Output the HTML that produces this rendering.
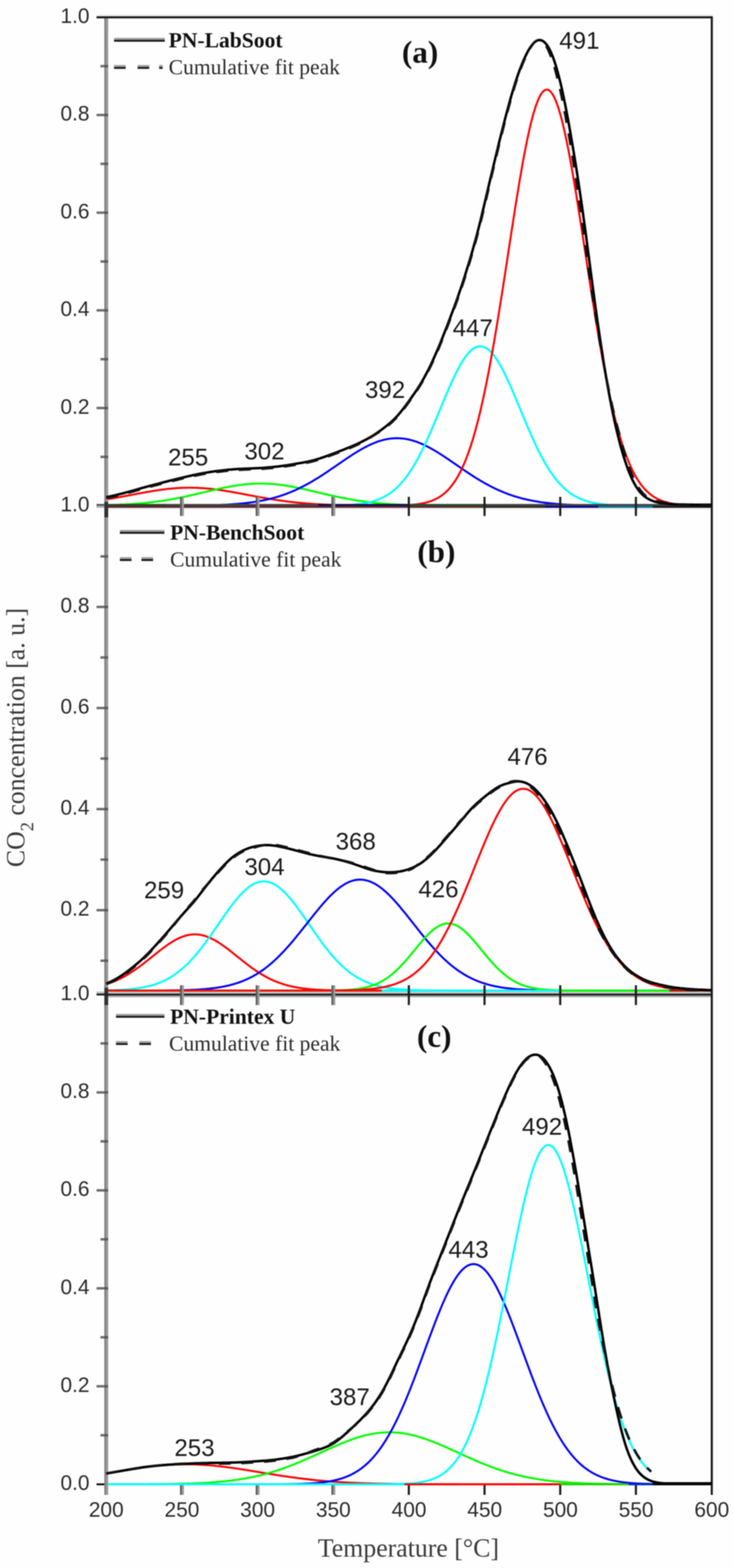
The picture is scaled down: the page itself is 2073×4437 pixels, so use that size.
<!DOCTYPE html>
<html lang="en"><head><meta charset="utf-8"><title>CO2 concentration vs Temperature</title>
<style>
html,body{margin:0;padding:0;background:#fefefe;}
body{width:2073px;height:4437px;overflow:hidden;}
svg{display:block;}
#plot{filter:blur(1.6px);}
.sans{font-family:"Liberation Sans",Arial,Helvetica,sans-serif;}
.serif{font-family:"Liberation Serif","Times New Roman",Times,serif;}
.tick{font-size:59px;fill:#2a2a2a;}
.pk{font-size:68px;fill:#1a1a1a;}
.leg{font-size:61px;fill:#2a2a2a;}
.legb{font-size:61px;font-weight:bold;fill:#111;}
.pl{font-size:88px;font-weight:bold;fill:#111;}
.ax{font-size:73px;fill:#3a3a3a;}
</style></head><body>
<svg width="2073" height="4437" viewBox="0 0 2073 4437">
<rect x="0" y="0" width="2073" height="4437" fill="#fefefe"/>
<g id="plot">
<g fill="none" stroke-linejoin="round" stroke-linecap="butt">
<path d="M300.5,1413.1 L304.8,1412.4 L309.1,1411.7 L313.3,1411.0 L317.6,1410.3 L321.9,1409.5 L326.2,1408.8 L330.5,1408.0 L334.8,1407.3 L339.0,1406.5 L343.3,1405.7 L347.6,1404.9 L351.9,1404.1 L356.2,1403.3 L360.4,1402.5 L364.7,1401.7 L369.0,1400.9 L373.3,1400.1 L377.6,1399.3 L381.8,1398.4 L386.1,1397.6 L390.4,1396.8 L394.7,1396.0 L399.0,1395.2 L403.2,1394.4 L407.5,1393.7 L411.8,1392.9 L416.1,1392.1 L420.4,1391.4 L424.7,1390.6 L428.9,1389.9 L433.2,1389.2 L437.5,1388.5 L441.8,1387.9 L446.1,1387.2 L450.3,1386.6 L454.6,1386.0 L458.9,1385.4 L463.2,1384.9 L467.5,1384.3 L471.8,1383.8 L476.0,1383.3 L480.3,1382.9 L484.6,1382.5 L488.9,1382.1 L493.2,1381.7 L497.4,1381.4 L501.7,1381.1 L506.0,1380.9 L510.3,1380.6 L514.6,1380.4 L518.8,1380.3 L523.1,1380.2 L527.4,1380.1 L531.7,1380.0 L536.0,1380.0 L540.2,1380.0 L544.5,1380.1 L548.8,1380.2 L553.1,1380.3 L557.4,1380.4 L561.7,1380.6 L565.9,1380.9 L570.2,1381.1 L574.5,1381.4 L578.8,1381.7 L583.1,1382.1 L587.3,1382.5 L591.6,1382.9 L595.9,1383.3 L600.2,1383.8 L604.5,1384.3 L608.8,1384.9 L613.0,1385.4 L617.3,1386.0 L621.6,1386.6 L625.9,1387.2 L630.2,1387.9 L634.4,1388.5 L638.7,1389.2 L643.0,1389.9 L647.3,1390.6 L651.6,1391.4 L655.8,1392.1 L660.1,1392.9 L664.4,1393.7 L668.7,1394.4 L673.0,1395.2 L677.2,1396.0 L681.5,1396.8 L685.8,1397.6 L690.1,1398.4 L694.4,1399.3 L698.7,1400.1 L702.9,1400.9 L707.2,1401.7 L711.5,1402.5 L715.8,1403.3 L720.1,1404.1 L724.3,1404.9 L728.6,1405.7 L732.9,1406.5 L737.2,1407.3 L741.5,1408.0 L745.8,1408.8 L750.0,1409.5 L754.3,1410.3 L758.6,1411.0 L762.9,1411.7 L767.2,1412.4 L771.4,1413.1 L775.7,1413.8 L780.0,1414.4 L784.3,1415.1 L788.6,1415.7 L792.8,1416.3 L797.1,1416.9 L801.4,1417.5 L805.7,1418.1 L810.0,1418.7 L814.2,1419.2 L818.5,1419.7 L822.8,1420.2 L827.1,1420.7 L831.4,1421.2 L835.7,1421.7 L839.9,1422.1 L844.2,1422.5 L848.5,1422.9 L852.8,1423.3 L857.1,1423.7 L861.3,1424.1 L865.6,1424.5 L869.9,1424.8 L874.2,1425.1 L878.5,1425.4 L882.8,1425.7 L887.0,1426.0 L891.3,1426.3 L895.6,1426.6 L899.9,1426.8 L904.2,1427.1 L908.4,1427.3 L912.7,1427.5 L917.0,1427.7 L921.3,1427.9 L925.6,1428.1 L929.8,1428.3 L934.1,1428.4 L938.4,1428.6 L942.7,1428.8 L947.0,1428.9 L951.2,1429.0 L955.5,1429.2 L959.8,1429.3 L964.1,1429.4 L968.4,1429.5 L972.7,1429.6 L976.9,1429.7 L981.2,1429.8 L985.5,1429.9 L989.8,1430.0 L994.1,1430.0 L998.3,1430.1 L1002.6,1430.2 L1006.9,1430.2 L1011.2,1430.3 L1015.5,1430.3 L1019.8,1430.4 L1024.0,1430.4 L1028.3,1430.5 L1032.6,1430.5 L1036.9,1430.6 L1041.2,1430.6 L1045.4,1430.6 L1049.7,1430.7 L1054.0,1430.7 L1058.3,1430.7 L1062.6,1430.7 L1066.8,1430.8 L1071.1,1430.8 L1075.4,1430.8 L1079.7,1430.8 L1084.0,1430.8 L1088.2,1430.8 L1092.5,1430.9 L1096.8,1430.9 L1101.1,1430.9 L1105.4,1430.9 L1109.7,1430.9 L1113.9,1430.9 L1118.2,1430.9 L1122.5,1430.9 L1126.8,1430.9 L1131.1,1430.9 L1135.3,1430.9 L1139.6,1430.9 L1143.9,1431.0 L1148.2,1431.0 L1152.5,1431.0 L1156.8,1431.0 L1161.0,1431.0 L1165.3,1431.0 L1169.6,1431.0 L1173.9,1431.0 L1178.2,1431.0 L1182.4,1431.0 L1186.7,1431.0 L1191.0,1431.0 L1195.3,1431.0 L1199.6,1431.0 L1203.8,1431.0 L1208.1,1431.0 L1212.4,1431.0 L1216.7,1431.0 L1221.0,1431.0 L1225.2,1431.0 L1229.5,1431.0 L1233.8,1431.0 L1238.1,1431.0 L1242.4,1431.0 L1246.7,1431.0 L1250.9,1431.0 L1255.2,1431.0 L1259.5,1431.0 L1263.8,1431.0 L1268.1,1431.0 L1272.3,1431.0 L1276.6,1431.0 L1280.9,1431.0 L1285.2,1431.0 L1289.5,1431.0 L1293.8,1431.0 L1298.0,1431.0 L1302.3,1431.0 L1306.6,1431.0 L1310.9,1431.0 L1315.2,1431.0 L1319.4,1431.0 L1323.7,1431.0 L1328.0,1431.0 L1332.3,1431.0 L1336.6,1431.0 L1340.8,1431.0 L1345.1,1431.0 L1349.4,1431.0 L1353.7,1431.0 L1358.0,1431.0 L1362.2,1431.0 L1366.5,1431.0 L1370.8,1431.0 L1375.1,1431.0 L1379.4,1431.0 L1383.7,1431.0 L1387.9,1431.0 L1392.2,1431.0 L1396.5,1431.0 L1400.8,1431.0 L1405.1,1431.0 L1409.3,1431.0 L1413.6,1431.0 L1417.9,1431.0 L1422.2,1431.0 L1426.5,1431.0 L1430.8,1431.0 L1435.0,1431.0 L1439.3,1431.0 L1443.6,1431.0 L1447.9,1431.0 L1452.2,1431.0 L1456.4,1431.0 L1460.7,1431.0 L1465.0,1431.0 L1469.3,1431.0 L1473.6,1431.0 L1477.8,1431.0 L1482.1,1431.0 L1486.4,1431.0 L1490.7,1431.0 L1495.0,1431.0 L1499.2,1431.0 L1503.5,1431.0 L1507.8,1431.0 L1512.1,1431.0 L1516.4,1431.0 L1520.7,1431.0 L1524.9,1431.0 L1529.2,1431.0 L1533.5,1431.0 L1537.8,1431.0 L1542.1,1431.0 L1546.3,1431.0 L1550.6,1431.0 L1554.9,1431.0 L1559.2,1431.0 L1563.5,1431.0 L1567.8,1431.0 L1572.0,1431.0 L1576.3,1431.0 L1580.6,1431.0 L1584.9,1431.0 L1589.2,1431.0 L1593.4,1431.0 L1597.7,1431.0 L1602.0,1431.0 L1606.3,1431.0 L1610.6,1431.0 L1614.8,1431.0 L1619.1,1431.0 L1623.4,1431.0 L1627.7,1431.0 L1632.0,1431.0 L1636.2,1431.0 L1640.5,1431.0 L1644.8,1431.0 L1649.1,1431.0 L1653.4,1431.0 L1657.7,1431.0 L1661.9,1431.0 L1666.2,1431.0 L1670.5,1431.0 L1674.8,1431.0 L1679.1,1431.0 L1683.3,1431.0 L1687.6,1431.0 L1691.9,1431.0 L1696.2,1431.0 L1700.5,1431.0 L1704.8,1431.0 L1709.0,1431.0 L1713.3,1431.0 L1717.6,1431.0 L1721.9,1431.0 L1726.2,1431.0 L1730.4,1431.0 L1734.7,1431.0 L1739.0,1431.0 L1743.3,1431.0 L1747.6,1431.0 L1751.8,1431.0 L1756.1,1431.0 L1760.4,1431.0 L1764.7,1431.0 L1769.0,1431.0 L1773.2,1431.0 L1777.5,1431.0 L1781.8,1431.0 L1786.1,1431.0 L1790.4,1431.0 L1794.7,1431.0 L1798.9,1431.0 L1803.2,1431.0 L1807.5,1431.0 L1811.8,1431.0 L1816.1,1431.0 L1820.3,1431.0 L1824.6,1431.0 L1828.9,1431.0 L1833.2,1431.0 L1837.5,1431.0 L1841.8,1431.0 L1846.0,1431.0 L1850.3,1431.0 L1854.6,1431.0 L1858.9,1431.0 L1863.2,1431.0 L1867.4,1431.0 L1871.7,1431.0 L1876.0,1431.0 L1880.3,1431.0 L1884.6,1431.0 L1888.8,1431.0 L1893.1,1431.0 L1897.4,1431.0 L1901.7,1431.0 L1906.0,1431.0 L1910.2,1431.0 L1914.5,1431.0 L1918.8,1431.0 L1923.1,1431.0 L1927.4,1431.0 L1931.7,1431.0 L1935.9,1431.0 L1940.2,1431.0 L1944.5,1431.0 L1948.8,1431.0 L1953.1,1431.0 L1957.3,1431.0 L1961.6,1431.0 L1965.9,1431.0 L1970.2,1431.0 L1974.5,1431.0 L1978.8,1431.0 L1983.0,1431.0 L1987.3,1431.0 L1991.6,1431.0 L1995.9,1431.0 L2000.2,1431.0 L2004.4,1431.0 L2008.7,1431.0 L2013.0,1431.0" stroke="#ff0000" stroke-width="5.6"/>
<path d="M300.5,1429.4 L304.8,1429.3 L309.1,1429.2 L313.3,1429.1 L317.6,1428.9 L321.9,1428.8 L326.2,1428.6 L330.5,1428.5 L334.8,1428.3 L339.0,1428.1 L343.3,1427.9 L347.6,1427.7 L351.9,1427.5 L356.2,1427.2 L360.4,1427.0 L364.7,1426.7 L369.0,1426.5 L373.3,1426.2 L377.6,1425.9 L381.8,1425.6 L386.1,1425.3 L390.4,1424.9 L394.7,1424.6 L399.0,1424.2 L403.2,1423.8 L407.5,1423.4 L411.8,1423.0 L416.1,1422.5 L420.4,1422.1 L424.7,1421.6 L428.9,1421.1 L433.2,1420.6 L437.5,1420.0 L441.8,1419.5 L446.1,1418.9 L450.3,1418.3 L454.6,1417.7 L458.9,1417.0 L463.2,1416.4 L467.5,1415.7 L471.8,1415.0 L476.0,1414.3 L480.3,1413.6 L484.6,1412.8 L488.9,1412.0 L493.2,1411.2 L497.4,1410.4 L501.7,1409.6 L506.0,1408.8 L510.3,1407.9 L514.6,1407.0 L518.8,1406.1 L523.1,1405.2 L527.4,1404.3 L531.7,1403.4 L536.0,1402.4 L540.2,1401.5 L544.5,1400.5 L548.8,1399.5 L553.1,1398.5 L557.4,1397.5 L561.7,1396.5 L565.9,1395.5 L570.2,1394.5 L574.5,1393.5 L578.8,1392.5 L583.1,1391.5 L587.3,1390.4 L591.6,1389.4 L595.9,1388.4 L600.2,1387.4 L604.5,1386.4 L608.8,1385.5 L613.0,1384.5 L617.3,1383.6 L621.6,1382.6 L625.9,1381.7 L630.2,1380.8 L634.4,1379.9 L638.7,1379.1 L643.0,1378.2 L647.3,1377.4 L651.6,1376.6 L655.8,1375.9 L660.1,1375.1 L664.4,1374.4 L668.7,1373.8 L673.0,1373.1 L677.2,1372.5 L681.5,1372.0 L685.8,1371.4 L690.1,1370.9 L694.4,1370.5 L698.7,1370.1 L702.9,1369.7 L707.2,1369.4 L711.5,1369.1 L715.8,1368.9 L720.1,1368.7 L724.3,1368.5 L728.6,1368.4 L732.9,1368.3 L737.2,1368.3 L741.5,1368.3 L745.8,1368.4 L750.0,1368.5 L754.3,1368.7 L758.6,1368.9 L762.9,1369.1 L767.2,1369.4 L771.4,1369.7 L775.7,1370.1 L780.0,1370.5 L784.3,1370.9 L788.6,1371.4 L792.8,1372.0 L797.1,1372.5 L801.4,1373.1 L805.7,1373.8 L810.0,1374.4 L814.2,1375.1 L818.5,1375.9 L822.8,1376.6 L827.1,1377.4 L831.4,1378.2 L835.7,1379.1 L839.9,1379.9 L844.2,1380.8 L848.5,1381.7 L852.8,1382.6 L857.1,1383.6 L861.3,1384.5 L865.6,1385.5 L869.9,1386.4 L874.2,1387.4 L878.5,1388.4 L882.8,1389.4 L887.0,1390.4 L891.3,1391.5 L895.6,1392.5 L899.9,1393.5 L904.2,1394.5 L908.4,1395.5 L912.7,1396.5 L917.0,1397.5 L921.3,1398.5 L925.6,1399.5 L929.8,1400.5 L934.1,1401.5 L938.4,1402.4 L942.7,1403.4 L947.0,1404.3 L951.2,1405.2 L955.5,1406.1 L959.8,1407.0 L964.1,1407.9 L968.4,1408.8 L972.7,1409.6 L976.9,1410.4 L981.2,1411.2 L985.5,1412.0 L989.8,1412.8 L994.1,1413.6 L998.3,1414.3 L1002.6,1415.0 L1006.9,1415.7 L1011.2,1416.4 L1015.5,1417.0 L1019.8,1417.7 L1024.0,1418.3 L1028.3,1418.9 L1032.6,1419.5 L1036.9,1420.0 L1041.2,1420.6 L1045.4,1421.1 L1049.7,1421.6 L1054.0,1422.1 L1058.3,1422.5 L1062.6,1423.0 L1066.8,1423.4 L1071.1,1423.8 L1075.4,1424.2 L1079.7,1424.6 L1084.0,1424.9 L1088.2,1425.3 L1092.5,1425.6 L1096.8,1425.9 L1101.1,1426.2 L1105.4,1426.5 L1109.7,1426.7 L1113.9,1427.0 L1118.2,1427.2 L1122.5,1427.5 L1126.8,1427.7 L1131.1,1427.9 L1135.3,1428.1 L1139.6,1428.3 L1143.9,1428.5 L1148.2,1428.6 L1152.5,1428.8 L1156.8,1428.9 L1161.0,1429.1 L1165.3,1429.2 L1169.6,1429.3 L1173.9,1429.4 L1178.2,1429.6 L1182.4,1429.7 L1186.7,1429.8 L1191.0,1429.8 L1195.3,1429.9 L1199.6,1430.0 L1203.8,1430.1 L1208.1,1430.2 L1212.4,1430.2 L1216.7,1430.3 L1221.0,1430.3 L1225.2,1430.4 L1229.5,1430.4 L1233.8,1430.5 L1238.1,1430.5 L1242.4,1430.6 L1246.7,1430.6 L1250.9,1430.6 L1255.2,1430.7 L1259.5,1430.7 L1263.8,1430.7 L1268.1,1430.7 L1272.3,1430.8 L1276.6,1430.8 L1280.9,1430.8 L1285.2,1430.8 L1289.5,1430.8 L1293.8,1430.8 L1298.0,1430.9 L1302.3,1430.9 L1306.6,1430.9 L1310.9,1430.9 L1315.2,1430.9 L1319.4,1430.9 L1323.7,1430.9 L1328.0,1430.9 L1332.3,1430.9 L1336.6,1430.9 L1340.8,1430.9 L1345.1,1431.0 L1349.4,1431.0 L1353.7,1431.0 L1358.0,1431.0 L1362.2,1431.0 L1366.5,1431.0 L1370.8,1431.0 L1375.1,1431.0 L1379.4,1431.0 L1383.7,1431.0 L1387.9,1431.0 L1392.2,1431.0 L1396.5,1431.0 L1400.8,1431.0 L1405.1,1431.0 L1409.3,1431.0 L1413.6,1431.0 L1417.9,1431.0 L1422.2,1431.0 L1426.5,1431.0 L1430.8,1431.0 L1435.0,1431.0 L1439.3,1431.0 L1443.6,1431.0 L1447.9,1431.0 L1452.2,1431.0 L1456.4,1431.0 L1460.7,1431.0 L1465.0,1431.0 L1469.3,1431.0 L1473.6,1431.0 L1477.8,1431.0 L1482.1,1431.0 L1486.4,1431.0 L1490.7,1431.0 L1495.0,1431.0 L1499.2,1431.0 L1503.5,1431.0 L1507.8,1431.0 L1512.1,1431.0 L1516.4,1431.0 L1520.7,1431.0 L1524.9,1431.0 L1529.2,1431.0 L1533.5,1431.0 L1537.8,1431.0 L1542.1,1431.0 L1546.3,1431.0 L1550.6,1431.0 L1554.9,1431.0 L1559.2,1431.0 L1563.5,1431.0 L1567.8,1431.0 L1572.0,1431.0 L1576.3,1431.0 L1580.6,1431.0 L1584.9,1431.0 L1589.2,1431.0 L1593.4,1431.0 L1597.7,1431.0 L1602.0,1431.0 L1606.3,1431.0 L1610.6,1431.0 L1614.8,1431.0 L1619.1,1431.0 L1623.4,1431.0 L1627.7,1431.0 L1632.0,1431.0 L1636.2,1431.0 L1640.5,1431.0 L1644.8,1431.0 L1649.1,1431.0 L1653.4,1431.0 L1657.7,1431.0 L1661.9,1431.0 L1666.2,1431.0 L1670.5,1431.0 L1674.8,1431.0 L1679.1,1431.0 L1683.3,1431.0 L1687.6,1431.0 L1691.9,1431.0 L1696.2,1431.0 L1700.5,1431.0 L1704.8,1431.0 L1709.0,1431.0 L1713.3,1431.0 L1717.6,1431.0 L1721.9,1431.0 L1726.2,1431.0 L1730.4,1431.0 L1734.7,1431.0 L1739.0,1431.0 L1743.3,1431.0 L1747.6,1431.0 L1751.8,1431.0 L1756.1,1431.0 L1760.4,1431.0 L1764.7,1431.0 L1769.0,1431.0 L1773.2,1431.0 L1777.5,1431.0 L1781.8,1431.0 L1786.1,1431.0 L1790.4,1431.0 L1794.7,1431.0 L1798.9,1431.0 L1803.2,1431.0 L1807.5,1431.0 L1811.8,1431.0 L1816.1,1431.0 L1820.3,1431.0 L1824.6,1431.0 L1828.9,1431.0 L1833.2,1431.0 L1837.5,1431.0 L1841.8,1431.0 L1846.0,1431.0 L1850.3,1431.0 L1854.6,1431.0 L1858.9,1431.0 L1863.2,1431.0 L1867.4,1431.0 L1871.7,1431.0 L1876.0,1431.0 L1880.3,1431.0 L1884.6,1431.0 L1888.8,1431.0 L1893.1,1431.0 L1897.4,1431.0 L1901.7,1431.0 L1906.0,1431.0 L1910.2,1431.0 L1914.5,1431.0 L1918.8,1431.0 L1923.1,1431.0 L1927.4,1431.0 L1931.7,1431.0 L1935.9,1431.0 L1940.2,1431.0 L1944.5,1431.0 L1948.8,1431.0 L1953.1,1431.0 L1957.3,1431.0 L1961.6,1431.0 L1965.9,1431.0 L1970.2,1431.0 L1974.5,1431.0 L1978.8,1431.0 L1983.0,1431.0 L1987.3,1431.0 L1991.6,1431.0 L1995.9,1431.0 L2000.2,1431.0 L2004.4,1431.0 L2008.7,1431.0 L2013.0,1431.0" stroke="#00ff00" stroke-width="5.6"/>
<path d="M300.5,1431.0 L304.8,1431.0 L309.1,1431.0 L313.3,1431.0 L317.6,1431.0 L321.9,1431.0 L326.2,1431.0 L330.5,1431.0 L334.8,1431.0 L339.0,1431.0 L343.3,1431.0 L347.6,1431.0 L351.9,1431.0 L356.2,1431.0 L360.4,1431.0 L364.7,1431.0 L369.0,1431.0 L373.3,1431.0 L377.6,1431.0 L381.8,1431.0 L386.1,1431.0 L390.4,1431.0 L394.7,1431.0 L399.0,1431.0 L403.2,1431.0 L407.5,1431.0 L411.8,1431.0 L416.1,1431.0 L420.4,1431.0 L424.7,1431.0 L428.9,1431.0 L433.2,1431.0 L437.5,1431.0 L441.8,1430.9 L446.1,1430.9 L450.3,1430.9 L454.6,1430.9 L458.9,1430.9 L463.2,1430.9 L467.5,1430.9 L471.8,1430.9 L476.0,1430.9 L480.3,1430.9 L484.6,1430.9 L488.9,1430.8 L493.2,1430.8 L497.4,1430.8 L501.7,1430.8 L506.0,1430.8 L510.3,1430.8 L514.6,1430.7 L518.8,1430.7 L523.1,1430.7 L527.4,1430.6 L531.7,1430.6 L536.0,1430.6 L540.2,1430.5 L544.5,1430.5 L548.8,1430.4 L553.1,1430.4 L557.4,1430.3 L561.7,1430.3 L565.9,1430.2 L570.2,1430.1 L574.5,1430.1 L578.8,1430.0 L583.1,1429.9 L587.3,1429.8 L591.6,1429.7 L595.9,1429.6 L600.2,1429.5 L604.5,1429.4 L608.8,1429.2 L613.0,1429.1 L617.3,1428.9 L621.6,1428.8 L625.9,1428.6 L630.2,1428.4 L634.4,1428.2 L638.7,1428.0 L643.0,1427.8 L647.3,1427.5 L651.6,1427.3 L655.8,1427.0 L660.1,1426.7 L664.4,1426.4 L668.7,1426.1 L673.0,1425.7 L677.2,1425.3 L681.5,1424.9 L685.8,1424.5 L690.1,1424.1 L694.4,1423.6 L698.7,1423.1 L702.9,1422.6 L707.2,1422.1 L711.5,1421.5 L715.8,1420.9 L720.1,1420.2 L724.3,1419.5 L728.6,1418.8 L732.9,1418.1 L737.2,1417.3 L741.5,1416.5 L745.8,1415.6 L750.0,1414.7 L754.3,1413.8 L758.6,1412.8 L762.9,1411.8 L767.2,1410.7 L771.4,1409.6 L775.7,1408.4 L780.0,1407.2 L784.3,1405.9 L788.6,1404.6 L792.8,1403.3 L797.1,1401.8 L801.4,1400.4 L805.7,1398.8 L810.0,1397.3 L814.2,1395.6 L818.5,1394.0 L822.8,1392.2 L827.1,1390.4 L831.4,1388.6 L835.7,1386.7 L839.9,1384.7 L844.2,1382.7 L848.5,1380.6 L852.8,1378.5 L857.1,1376.3 L861.3,1374.1 L865.6,1371.8 L869.9,1369.5 L874.2,1367.1 L878.5,1364.6 L882.8,1362.2 L887.0,1359.6 L891.3,1357.0 L895.6,1354.4 L899.9,1351.8 L904.2,1349.1 L908.4,1346.3 L912.7,1343.6 L917.0,1340.7 L921.3,1337.9 L925.6,1335.1 L929.8,1332.2 L934.1,1329.3 L938.4,1326.3 L942.7,1323.4 L947.0,1320.5 L951.2,1317.5 L955.5,1314.6 L959.8,1311.6 L964.1,1308.7 L968.4,1305.7 L972.7,1302.8 L976.9,1299.9 L981.2,1297.0 L985.5,1294.1 L989.8,1291.3 L994.1,1288.5 L998.3,1285.7 L1002.6,1283.0 L1006.9,1280.3 L1011.2,1277.7 L1015.5,1275.1 L1019.8,1272.6 L1024.0,1270.2 L1028.3,1267.8 L1032.6,1265.5 L1036.9,1263.3 L1041.2,1261.2 L1045.4,1259.1 L1049.7,1257.1 L1054.0,1255.3 L1058.3,1253.5 L1062.6,1251.8 L1066.8,1250.2 L1071.1,1248.7 L1075.4,1247.4 L1079.7,1246.1 L1084.0,1245.0 L1088.2,1243.9 L1092.5,1243.0 L1096.8,1242.2 L1101.1,1241.5 L1105.4,1241.0 L1109.7,1240.6 L1113.9,1240.2 L1118.2,1240.1 L1122.5,1240.0 L1126.8,1240.1 L1131.1,1240.2 L1135.3,1240.6 L1139.6,1241.0 L1143.9,1241.5 L1148.2,1242.2 L1152.5,1243.0 L1156.8,1243.9 L1161.0,1245.0 L1165.3,1246.1 L1169.6,1247.4 L1173.9,1248.7 L1178.2,1250.2 L1182.4,1251.8 L1186.7,1253.5 L1191.0,1255.3 L1195.3,1257.1 L1199.6,1259.1 L1203.8,1261.2 L1208.1,1263.3 L1212.4,1265.5 L1216.7,1267.8 L1221.0,1270.2 L1225.2,1272.6 L1229.5,1275.1 L1233.8,1277.7 L1238.1,1280.3 L1242.4,1283.0 L1246.7,1285.7 L1250.9,1288.5 L1255.2,1291.3 L1259.5,1294.1 L1263.8,1297.0 L1268.1,1299.9 L1272.3,1302.8 L1276.6,1305.7 L1280.9,1308.7 L1285.2,1311.6 L1289.5,1314.6 L1293.8,1317.5 L1298.0,1320.5 L1302.3,1323.4 L1306.6,1326.3 L1310.9,1329.3 L1315.2,1332.2 L1319.4,1335.1 L1323.7,1337.9 L1328.0,1340.7 L1332.3,1343.6 L1336.6,1346.3 L1340.8,1349.1 L1345.1,1351.8 L1349.4,1354.4 L1353.7,1357.0 L1358.0,1359.6 L1362.2,1362.2 L1366.5,1364.6 L1370.8,1367.1 L1375.1,1369.5 L1379.4,1371.8 L1383.7,1374.1 L1387.9,1376.3 L1392.2,1378.5 L1396.5,1380.6 L1400.8,1382.7 L1405.1,1384.7 L1409.3,1386.7 L1413.6,1388.6 L1417.9,1390.4 L1422.2,1392.2 L1426.5,1394.0 L1430.8,1395.6 L1435.0,1397.3 L1439.3,1398.8 L1443.6,1400.4 L1447.9,1401.8 L1452.2,1403.3 L1456.4,1404.6 L1460.7,1405.9 L1465.0,1407.2 L1469.3,1408.4 L1473.6,1409.6 L1477.8,1410.7 L1482.1,1411.8 L1486.4,1412.8 L1490.7,1413.8 L1495.0,1414.7 L1499.2,1415.6 L1503.5,1416.5 L1507.8,1417.3 L1512.1,1418.1 L1516.4,1418.8 L1520.7,1419.5 L1524.9,1420.2 L1529.2,1420.9 L1533.5,1421.5 L1537.8,1422.1 L1542.1,1422.6 L1546.3,1423.1 L1550.6,1423.6 L1554.9,1424.1 L1559.2,1424.5 L1563.5,1424.9 L1567.8,1425.3 L1572.0,1425.7 L1576.3,1426.1 L1580.6,1426.4 L1584.9,1426.7 L1589.2,1427.0 L1593.4,1427.3 L1597.7,1427.5 L1602.0,1427.8 L1606.3,1428.0 L1610.6,1428.2 L1614.8,1428.4 L1619.1,1428.6 L1623.4,1428.8 L1627.7,1428.9 L1632.0,1429.1 L1636.2,1429.2 L1640.5,1429.4 L1644.8,1429.5 L1649.1,1429.6 L1653.4,1429.7 L1657.7,1429.8 L1661.9,1429.9 L1666.2,1430.0 L1670.5,1430.1 L1674.8,1430.1 L1679.1,1430.2 L1683.3,1430.3 L1687.6,1430.3 L1691.9,1430.4 L1696.2,1430.4 L1700.5,1430.5 L1704.8,1430.5 L1709.0,1430.6 L1713.3,1430.6 L1717.6,1430.6 L1721.9,1430.7 L1726.2,1430.7 L1730.4,1430.7 L1734.7,1430.8 L1739.0,1430.8 L1743.3,1430.8 L1747.6,1430.8 L1751.8,1430.8 L1756.1,1430.8 L1760.4,1430.9 L1764.7,1430.9 L1769.0,1430.9 L1773.2,1430.9 L1777.5,1430.9 L1781.8,1430.9 L1786.1,1430.9 L1790.4,1430.9 L1794.7,1430.9 L1798.9,1430.9 L1803.2,1430.9 L1807.5,1431.0 L1811.8,1431.0 L1816.1,1431.0 L1820.3,1431.0 L1824.6,1431.0 L1828.9,1431.0 L1833.2,1431.0 L1837.5,1431.0 L1841.8,1431.0 L1846.0,1431.0 L1850.3,1431.0 L1854.6,1431.0 L1858.9,1431.0 L1863.2,1431.0 L1867.4,1431.0 L1871.7,1431.0 L1876.0,1431.0 L1880.3,1431.0 L1884.6,1431.0 L1888.8,1431.0 L1893.1,1431.0 L1897.4,1431.0 L1901.7,1431.0 L1906.0,1431.0 L1910.2,1431.0 L1914.5,1431.0 L1918.8,1431.0 L1923.1,1431.0 L1927.4,1431.0 L1931.7,1431.0 L1935.9,1431.0 L1940.2,1431.0 L1944.5,1431.0 L1948.8,1431.0 L1953.1,1431.0 L1957.3,1431.0 L1961.6,1431.0 L1965.9,1431.0 L1970.2,1431.0 L1974.5,1431.0 L1978.8,1431.0 L1983.0,1431.0 L1987.3,1431.0 L1991.6,1431.0 L1995.9,1431.0 L2000.2,1431.0 L2004.4,1431.0 L2008.7,1431.0 L2013.0,1431.0" stroke="#0000ff" stroke-width="5.6"/>
<path d="M300.5,1431.0 L304.8,1431.0 L309.1,1431.0 L313.3,1431.0 L317.6,1431.0 L321.9,1431.0 L326.2,1431.0 L330.5,1431.0 L334.8,1431.0 L339.0,1431.0 L343.3,1431.0 L347.6,1431.0 L351.9,1431.0 L356.2,1431.0 L360.4,1431.0 L364.7,1431.0 L369.0,1431.0 L373.3,1431.0 L377.6,1431.0 L381.8,1431.0 L386.1,1431.0 L390.4,1431.0 L394.7,1431.0 L399.0,1431.0 L403.2,1431.0 L407.5,1431.0 L411.8,1431.0 L416.1,1431.0 L420.4,1431.0 L424.7,1431.0 L428.9,1431.0 L433.2,1431.0 L437.5,1431.0 L441.8,1431.0 L446.1,1431.0 L450.3,1431.0 L454.6,1431.0 L458.9,1431.0 L463.2,1431.0 L467.5,1431.0 L471.8,1431.0 L476.0,1431.0 L480.3,1431.0 L484.6,1431.0 L488.9,1431.0 L493.2,1431.0 L497.4,1431.0 L501.7,1431.0 L506.0,1431.0 L510.3,1431.0 L514.6,1431.0 L518.8,1431.0 L523.1,1431.0 L527.4,1431.0 L531.7,1431.0 L536.0,1431.0 L540.2,1431.0 L544.5,1431.0 L548.8,1431.0 L553.1,1431.0 L557.4,1431.0 L561.7,1431.0 L565.9,1431.0 L570.2,1431.0 L574.5,1431.0 L578.8,1431.0 L583.1,1431.0 L587.3,1431.0 L591.6,1431.0 L595.9,1431.0 L600.2,1431.0 L604.5,1431.0 L608.8,1431.0 L613.0,1431.0 L617.3,1431.0 L621.6,1431.0 L625.9,1431.0 L630.2,1431.0 L634.4,1431.0 L638.7,1431.0 L643.0,1431.0 L647.3,1431.0 L651.6,1431.0 L655.8,1431.0 L660.1,1431.0 L664.4,1431.0 L668.7,1431.0 L673.0,1431.0 L677.2,1431.0 L681.5,1431.0 L685.8,1431.0 L690.1,1431.0 L694.4,1431.0 L698.7,1431.0 L702.9,1431.0 L707.2,1431.0 L711.5,1431.0 L715.8,1431.0 L720.1,1431.0 L724.3,1431.0 L728.6,1431.0 L732.9,1431.0 L737.2,1431.0 L741.5,1431.0 L745.8,1431.0 L750.0,1431.0 L754.3,1431.0 L758.6,1431.0 L762.9,1431.0 L767.2,1431.0 L771.4,1431.0 L775.7,1431.0 L780.0,1431.0 L784.3,1431.0 L788.6,1431.0 L792.8,1431.0 L797.1,1431.0 L801.4,1431.0 L805.7,1431.0 L810.0,1431.0 L814.2,1431.0 L818.5,1431.0 L822.8,1431.0 L827.1,1431.0 L831.4,1431.0 L835.7,1431.0 L839.9,1431.0 L844.2,1431.0 L848.5,1431.0 L852.8,1431.0 L857.1,1431.0 L861.3,1431.0 L865.6,1431.0 L869.9,1431.0 L874.2,1431.0 L878.5,1430.9 L882.8,1430.9 L887.0,1430.9 L891.3,1430.9 L895.6,1430.9 L899.9,1430.9 L904.2,1430.9 L908.4,1430.8 L912.7,1430.8 L917.0,1430.8 L921.3,1430.7 L925.6,1430.7 L929.8,1430.7 L934.1,1430.6 L938.4,1430.5 L942.7,1430.5 L947.0,1430.4 L951.2,1430.3 L955.5,1430.2 L959.8,1430.1 L964.1,1430.0 L968.4,1429.8 L972.7,1429.6 L976.9,1429.5 L981.2,1429.3 L985.5,1429.0 L989.8,1428.8 L994.1,1428.5 L998.3,1428.1 L1002.6,1427.8 L1006.9,1427.4 L1011.2,1426.9 L1015.5,1426.4 L1019.8,1425.9 L1024.0,1425.3 L1028.3,1424.6 L1032.6,1423.8 L1036.9,1423.0 L1041.2,1422.1 L1045.4,1421.1 L1049.7,1420.1 L1054.0,1418.9 L1058.3,1417.6 L1062.6,1416.2 L1066.8,1414.7 L1071.1,1413.0 L1075.4,1411.2 L1079.7,1409.2 L1084.0,1407.1 L1088.2,1404.8 L1092.5,1402.4 L1096.8,1399.8 L1101.1,1396.9 L1105.4,1393.9 L1109.7,1390.6 L1113.9,1387.2 L1118.2,1383.5 L1122.5,1379.5 L1126.8,1375.3 L1131.1,1370.9 L1135.3,1366.2 L1139.6,1361.2 L1143.9,1356.0 L1148.2,1350.4 L1152.5,1344.6 L1156.8,1338.5 L1161.0,1332.2 L1165.3,1325.5 L1169.6,1318.5 L1173.9,1311.3 L1178.2,1303.8 L1182.4,1296.0 L1186.7,1287.9 L1191.0,1279.5 L1195.3,1270.9 L1199.6,1262.1 L1203.8,1253.0 L1208.1,1243.7 L1212.4,1234.2 L1216.7,1224.5 L1221.0,1214.7 L1225.2,1204.7 L1229.5,1194.5 L1233.8,1184.3 L1238.1,1174.0 L1242.4,1163.7 L1246.7,1153.3 L1250.9,1143.0 L1255.2,1132.7 L1259.5,1122.4 L1263.8,1112.3 L1268.1,1102.3 L1272.3,1092.5 L1276.6,1082.9 L1280.9,1073.5 L1285.2,1064.4 L1289.5,1055.7 L1293.8,1047.2 L1298.0,1039.2 L1302.3,1031.5 L1306.6,1024.3 L1310.9,1017.5 L1315.2,1011.2 L1319.4,1005.5 L1323.7,1000.2 L1328.0,995.6 L1332.3,991.5 L1336.6,988.0 L1340.8,985.1 L1345.1,982.9 L1349.4,981.3 L1353.7,980.3 L1358.0,980.0 L1362.2,980.3 L1366.5,981.3 L1370.8,982.9 L1375.1,985.1 L1379.4,988.0 L1383.7,991.5 L1387.9,995.6 L1392.2,1000.2 L1396.5,1005.5 L1400.8,1011.2 L1405.1,1017.5 L1409.3,1024.3 L1413.6,1031.5 L1417.9,1039.2 L1422.2,1047.2 L1426.5,1055.7 L1430.8,1064.4 L1435.0,1073.5 L1439.3,1082.9 L1443.6,1092.5 L1447.9,1102.3 L1452.2,1112.3 L1456.4,1122.4 L1460.7,1132.7 L1465.0,1143.0 L1469.3,1153.3 L1473.6,1163.7 L1477.8,1174.0 L1482.1,1184.3 L1486.4,1194.5 L1490.7,1204.7 L1495.0,1214.7 L1499.2,1224.5 L1503.5,1234.2 L1507.8,1243.7 L1512.1,1253.0 L1516.4,1262.1 L1520.7,1270.9 L1524.9,1279.5 L1529.2,1287.9 L1533.5,1296.0 L1537.8,1303.8 L1542.1,1311.3 L1546.3,1318.5 L1550.6,1325.5 L1554.9,1332.2 L1559.2,1338.5 L1563.5,1344.6 L1567.8,1350.4 L1572.0,1356.0 L1576.3,1361.2 L1580.6,1366.2 L1584.9,1370.9 L1589.2,1375.3 L1593.4,1379.5 L1597.7,1383.5 L1602.0,1387.2 L1606.3,1390.6 L1610.6,1393.9 L1614.8,1396.9 L1619.1,1399.8 L1623.4,1402.4 L1627.7,1404.8 L1632.0,1407.1 L1636.2,1409.2 L1640.5,1411.2 L1644.8,1413.0 L1649.1,1414.7 L1653.4,1416.2 L1657.7,1417.6 L1661.9,1418.9 L1666.2,1420.1 L1670.5,1421.1 L1674.8,1422.1 L1679.1,1423.0 L1683.3,1423.8 L1687.6,1424.6 L1691.9,1425.3 L1696.2,1425.9 L1700.5,1426.4 L1704.8,1426.9 L1709.0,1427.4 L1713.3,1427.8 L1717.6,1428.1 L1721.9,1428.5 L1726.2,1428.8 L1730.4,1429.0 L1734.7,1429.3 L1739.0,1429.5 L1743.3,1429.6 L1747.6,1429.8 L1751.8,1430.0 L1756.1,1430.1 L1760.4,1430.2 L1764.7,1430.3 L1769.0,1430.4 L1773.2,1430.5 L1777.5,1430.5 L1781.8,1430.6 L1786.1,1430.7 L1790.4,1430.7 L1794.7,1430.7 L1798.9,1430.8 L1803.2,1430.8 L1807.5,1430.8 L1811.8,1430.9 L1816.1,1430.9 L1820.3,1430.9 L1824.6,1430.9 L1828.9,1430.9 L1833.2,1430.9 L1837.5,1430.9 L1841.8,1431.0 L1846.0,1431.0 L1850.3,1431.0 L1854.6,1431.0 L1858.9,1431.0 L1863.2,1431.0 L1867.4,1431.0 L1871.7,1431.0 L1876.0,1431.0 L1880.3,1431.0 L1884.6,1431.0 L1888.8,1431.0 L1893.1,1431.0 L1897.4,1431.0 L1901.7,1431.0 L1906.0,1431.0 L1910.2,1431.0 L1914.5,1431.0 L1918.8,1431.0 L1923.1,1431.0 L1927.4,1431.0 L1931.7,1431.0 L1935.9,1431.0 L1940.2,1431.0 L1944.5,1431.0 L1948.8,1431.0 L1953.1,1431.0 L1957.3,1431.0 L1961.6,1431.0 L1965.9,1431.0 L1970.2,1431.0 L1974.5,1431.0 L1978.8,1431.0 L1983.0,1431.0 L1987.3,1431.0 L1991.6,1431.0 L1995.9,1431.0 L2000.2,1431.0 L2004.4,1431.0 L2008.7,1431.0 L2013.0,1431.0" stroke="#00ffff" stroke-width="5.6"/>
<path d="M300.5,1431.0 L304.8,1431.0 L309.1,1431.0 L313.3,1431.0 L317.6,1431.0 L321.9,1431.0 L326.2,1431.0 L330.5,1431.0 L334.8,1431.0 L339.0,1431.0 L343.3,1431.0 L347.6,1431.0 L351.9,1431.0 L356.2,1431.0 L360.4,1431.0 L364.7,1431.0 L369.0,1431.0 L373.3,1431.0 L377.6,1431.0 L381.8,1431.0 L386.1,1431.0 L390.4,1431.0 L394.7,1431.0 L399.0,1431.0 L403.2,1431.0 L407.5,1431.0 L411.8,1431.0 L416.1,1431.0 L420.4,1431.0 L424.7,1431.0 L428.9,1431.0 L433.2,1431.0 L437.5,1431.0 L441.8,1431.0 L446.1,1431.0 L450.3,1431.0 L454.6,1431.0 L458.9,1431.0 L463.2,1431.0 L467.5,1431.0 L471.8,1431.0 L476.0,1431.0 L480.3,1431.0 L484.6,1431.0 L488.9,1431.0 L493.2,1431.0 L497.4,1431.0 L501.7,1431.0 L506.0,1431.0 L510.3,1431.0 L514.6,1431.0 L518.8,1431.0 L523.1,1431.0 L527.4,1431.0 L531.7,1431.0 L536.0,1431.0 L540.2,1431.0 L544.5,1431.0 L548.8,1431.0 L553.1,1431.0 L557.4,1431.0 L561.7,1431.0 L565.9,1431.0 L570.2,1431.0 L574.5,1431.0 L578.8,1431.0 L583.1,1431.0 L587.3,1431.0 L591.6,1431.0 L595.9,1431.0 L600.2,1431.0 L604.5,1431.0 L608.8,1431.0 L613.0,1431.0 L617.3,1431.0 L621.6,1431.0 L625.9,1431.0 L630.2,1431.0 L634.4,1431.0 L638.7,1431.0 L643.0,1431.0 L647.3,1431.0 L651.6,1431.0 L655.8,1431.0 L660.1,1431.0 L664.4,1431.0 L668.7,1431.0 L673.0,1431.0 L677.2,1431.0 L681.5,1431.0 L685.8,1431.0 L690.1,1431.0 L694.4,1431.0 L698.7,1431.0 L702.9,1431.0 L707.2,1431.0 L711.5,1431.0 L715.8,1431.0 L720.1,1431.0 L724.3,1431.0 L728.6,1431.0 L732.9,1431.0 L737.2,1431.0 L741.5,1431.0 L745.8,1431.0 L750.0,1431.0 L754.3,1431.0 L758.6,1431.0 L762.9,1431.0 L767.2,1431.0 L771.4,1431.0 L775.7,1431.0 L780.0,1431.0 L784.3,1431.0 L788.6,1431.0 L792.8,1431.0 L797.1,1431.0 L801.4,1431.0 L805.7,1431.0 L810.0,1431.0 L814.2,1431.0 L818.5,1431.0 L822.8,1431.0 L827.1,1431.0 L831.4,1431.0 L835.7,1431.0 L839.9,1431.0 L844.2,1431.0 L848.5,1431.0 L852.8,1431.0 L857.1,1431.0 L861.3,1431.0 L865.6,1431.0 L869.9,1431.0 L874.2,1431.0 L878.5,1431.0 L882.8,1431.0 L887.0,1431.0 L891.3,1431.0 L895.6,1431.0 L899.9,1431.0 L904.2,1431.0 L908.4,1431.0 L912.7,1431.0 L917.0,1431.0 L921.3,1431.0 L925.6,1431.0 L929.8,1431.0 L934.1,1431.0 L938.4,1431.0 L942.7,1431.0 L947.0,1431.0 L951.2,1431.0 L955.5,1431.0 L959.8,1431.0 L964.1,1431.0 L968.4,1431.0 L972.7,1431.0 L976.9,1431.0 L981.2,1431.0 L985.5,1431.0 L989.8,1431.0 L994.1,1431.0 L998.3,1431.0 L1002.6,1431.0 L1006.9,1431.0 L1011.2,1431.0 L1015.5,1431.0 L1019.8,1431.0 L1024.0,1431.0 L1028.3,1431.0 L1032.6,1431.0 L1036.9,1431.0 L1041.2,1431.0 L1045.4,1431.0 L1049.7,1431.0 L1054.0,1431.0 L1058.3,1430.9 L1062.6,1430.9 L1066.8,1430.9 L1071.1,1430.9 L1075.4,1430.9 L1079.7,1430.9 L1084.0,1430.9 L1088.2,1430.8 L1092.5,1430.8 L1096.8,1430.8 L1101.1,1430.7 L1105.4,1430.7 L1109.7,1430.6 L1113.9,1430.5 L1118.2,1430.5 L1122.5,1430.4 L1126.8,1430.3 L1131.1,1430.2 L1135.3,1430.0 L1139.6,1429.9 L1143.9,1429.7 L1148.2,1429.5 L1152.5,1429.2 L1156.8,1429.0 L1161.0,1428.7 L1165.3,1428.3 L1169.6,1427.9 L1173.9,1427.5 L1178.2,1427.0 L1182.4,1426.4 L1186.7,1425.8 L1191.0,1425.1 L1195.3,1424.3 L1199.6,1423.4 L1203.8,1422.4 L1208.1,1421.3 L1212.4,1420.1 L1216.7,1418.7 L1221.0,1417.1 L1225.2,1415.4 L1229.5,1413.5 L1233.8,1411.4 L1238.1,1409.1 L1242.4,1406.6 L1246.7,1403.8 L1250.9,1400.7 L1255.2,1397.4 L1259.5,1393.7 L1263.8,1389.7 L1268.1,1385.3 L1272.3,1380.5 L1276.6,1375.3 L1280.9,1369.7 L1285.2,1363.6 L1289.5,1357.1 L1293.8,1350.0 L1298.0,1342.4 L1302.3,1334.2 L1306.6,1325.4 L1310.9,1316.0 L1315.2,1305.9 L1319.4,1295.2 L1323.7,1283.8 L1328.0,1271.6 L1332.3,1258.8 L1336.6,1245.2 L1340.8,1230.8 L1345.1,1215.6 L1349.4,1199.6 L1353.7,1182.8 L1358.0,1165.3 L1362.2,1146.9 L1366.5,1127.7 L1370.8,1107.7 L1375.1,1086.9 L1379.4,1065.4 L1383.7,1043.1 L1387.9,1020.0 L1392.2,996.3 L1396.5,971.9 L1400.8,946.9 L1405.1,921.3 L1409.3,895.2 L1413.6,868.6 L1417.9,841.6 L1422.2,814.2 L1426.5,786.6 L1430.8,758.8 L1435.0,730.8 L1439.3,702.8 L1443.6,674.8 L1447.9,647.0 L1452.2,619.4 L1456.4,592.1 L1460.7,565.3 L1465.0,538.9 L1469.3,513.2 L1473.6,488.1 L1477.8,463.9 L1482.1,440.6 L1486.4,418.2 L1490.7,397.0 L1495.0,376.9 L1499.2,358.1 L1503.5,340.6 L1507.8,324.6 L1512.1,310.0 L1516.4,297.0 L1520.7,285.6 L1524.9,275.9 L1529.2,267.9 L1533.5,261.6 L1537.8,257.1 L1542.1,254.4 L1546.3,253.5 L1550.6,254.4 L1554.9,257.1 L1559.2,261.6 L1563.5,267.9 L1567.8,275.9 L1572.0,285.6 L1576.3,297.0 L1580.6,310.0 L1584.9,324.6 L1589.2,340.6 L1593.4,358.1 L1597.7,376.9 L1602.0,397.0 L1606.3,418.2 L1610.6,440.6 L1614.8,463.9 L1619.1,488.1 L1623.4,513.2 L1627.7,538.9 L1632.0,565.3 L1636.2,592.1 L1640.5,619.4 L1644.8,647.0 L1649.1,674.8 L1653.4,702.8 L1657.7,730.8 L1661.9,758.8 L1666.2,786.6 L1670.5,814.2 L1674.8,841.6 L1679.1,868.6 L1683.3,895.2 L1687.6,921.3 L1691.9,946.9 L1696.2,971.9 L1700.5,996.3 L1704.8,1020.0 L1709.0,1043.1 L1713.3,1065.4 L1717.6,1086.9 L1721.9,1107.7 L1726.2,1127.7 L1730.4,1146.9 L1734.7,1165.3 L1739.0,1182.8 L1743.3,1199.6 L1747.6,1215.6 L1751.8,1230.8 L1756.1,1245.2 L1760.4,1258.8 L1764.7,1271.6 L1769.0,1283.8 L1773.2,1295.2 L1777.5,1305.9 L1781.8,1316.0 L1786.1,1325.4 L1790.4,1334.2 L1794.7,1342.4 L1798.9,1350.0 L1803.2,1357.1 L1807.5,1363.6 L1811.8,1369.7 L1816.1,1375.3 L1820.3,1380.5 L1824.6,1385.3 L1828.9,1389.7 L1833.2,1393.7 L1837.5,1397.4 L1841.8,1400.7 L1846.0,1403.8 L1850.3,1406.6 L1854.6,1409.1 L1858.9,1411.4 L1863.2,1413.5 L1867.4,1415.4 L1871.7,1417.1 L1876.0,1418.7 L1880.3,1420.1 L1884.6,1421.3 L1888.8,1422.4 L1893.1,1423.4 L1897.4,1424.3 L1901.7,1425.1 L1906.0,1425.8 L1910.2,1426.4 L1914.5,1427.0 L1918.8,1427.5 L1923.1,1427.9 L1927.4,1428.3 L1931.7,1428.7 L1935.9,1429.0 L1940.2,1429.2 L1944.5,1429.5 L1948.8,1429.7 L1953.1,1429.9 L1957.3,1430.0 L1961.6,1430.2 L1965.9,1430.3 L1970.2,1430.4 L1974.5,1430.5 L1978.8,1430.5 L1983.0,1430.6 L1987.3,1430.7 L1991.6,1430.7 L1995.9,1430.8 L2000.2,1430.8 L2004.4,1430.8 L2008.7,1430.9 L2013.0,1430.9" stroke="#ff0000" stroke-width="5.6"/>
</g>
<g fill="none" stroke-linejoin="round" stroke-linecap="butt">
<path d="M300.5,2785.1 L304.8,2783.7 L309.1,2782.2 L313.3,2780.7 L317.6,2779.1 L321.9,2777.4 L326.2,2775.6 L330.5,2773.7 L334.8,2771.7 L339.0,2769.7 L343.3,2767.5 L347.6,2765.3 L351.9,2763.0 L356.2,2760.5 L360.4,2758.0 L364.7,2755.4 L369.0,2752.8 L373.3,2750.0 L377.6,2747.1 L381.8,2744.2 L386.1,2741.2 L390.4,2738.2 L394.7,2735.0 L399.0,2731.8 L403.2,2728.6 L407.5,2725.3 L411.8,2721.9 L416.1,2718.6 L420.4,2715.1 L424.7,2711.7 L428.9,2708.3 L433.2,2704.8 L437.5,2701.4 L441.8,2698.0 L446.1,2694.6 L450.3,2691.2 L454.6,2687.9 L458.9,2684.6 L463.2,2681.4 L467.5,2678.2 L471.8,2675.2 L476.0,2672.2 L480.3,2669.3 L484.6,2666.6 L488.9,2664.0 L493.2,2661.4 L497.4,2659.1 L501.7,2656.9 L506.0,2654.8 L510.3,2652.9 L514.6,2651.2 L518.8,2649.6 L523.1,2648.2 L527.4,2647.0 L531.7,2646.0 L536.0,2645.2 L540.2,2644.6 L544.5,2644.2 L548.8,2644.0 L553.1,2644.0 L557.4,2644.2 L561.7,2644.6 L565.9,2645.2 L570.2,2646.0 L574.5,2647.0 L578.8,2648.2 L583.1,2649.6 L587.3,2651.2 L591.6,2652.9 L595.9,2654.8 L600.2,2656.9 L604.5,2659.1 L608.8,2661.4 L613.0,2664.0 L617.3,2666.6 L621.6,2669.3 L625.9,2672.2 L630.2,2675.2 L634.4,2678.2 L638.7,2681.4 L643.0,2684.6 L647.3,2687.9 L651.6,2691.2 L655.8,2694.6 L660.1,2698.0 L664.4,2701.4 L668.7,2704.8 L673.0,2708.3 L677.2,2711.7 L681.5,2715.1 L685.8,2718.6 L690.1,2721.9 L694.4,2725.3 L698.7,2728.6 L702.9,2731.8 L707.2,2735.0 L711.5,2738.2 L715.8,2741.2 L720.1,2744.2 L724.3,2747.1 L728.6,2750.0 L732.9,2752.8 L737.2,2755.4 L741.5,2758.0 L745.8,2760.5 L750.0,2763.0 L754.3,2765.3 L758.6,2767.5 L762.9,2769.7 L767.2,2771.7 L771.4,2773.7 L775.7,2775.6 L780.0,2777.4 L784.3,2779.1 L788.6,2780.7 L792.8,2782.2 L797.1,2783.7 L801.4,2785.1 L805.7,2786.4 L810.0,2787.6 L814.2,2788.8 L818.5,2789.8 L822.8,2790.9 L827.1,2791.8 L831.4,2792.7 L835.7,2793.5 L839.9,2794.3 L844.2,2795.0 L848.5,2795.7 L852.8,2796.3 L857.1,2796.9 L861.3,2797.4 L865.6,2797.9 L869.9,2798.4 L874.2,2798.8 L878.5,2799.2 L882.8,2799.5 L887.0,2799.9 L891.3,2800.2 L895.6,2800.5 L899.9,2800.7 L904.2,2800.9 L908.4,2801.1 L912.7,2801.3 L917.0,2801.5 L921.3,2801.7 L925.6,2801.8 L929.8,2801.9 L934.1,2802.0 L938.4,2802.1 L942.7,2802.2 L947.0,2802.3 L951.2,2802.4 L955.5,2802.5 L959.8,2802.5 L964.1,2802.6 L968.4,2802.6 L972.7,2802.7 L976.9,2802.7 L981.2,2802.7 L985.5,2802.8 L989.8,2802.8 L994.1,2802.8 L998.3,2802.8 L1002.6,2802.9 L1006.9,2802.9 L1011.2,2802.9 L1015.5,2802.9 L1019.8,2802.9 L1024.0,2802.9 L1028.3,2802.9 L1032.6,2803.0 L1036.9,2803.0 L1041.2,2803.0 L1045.4,2803.0 L1049.7,2803.0 L1054.0,2803.0 L1058.3,2803.0 L1062.6,2803.0 L1066.8,2803.0 L1071.1,2803.0 L1075.4,2803.0 L1079.7,2803.0 L1084.0,2803.0 L1088.2,2803.0 L1092.5,2803.0 L1096.8,2803.0 L1101.1,2803.0 L1105.4,2803.0 L1109.7,2803.0 L1113.9,2803.0 L1118.2,2803.0 L1122.5,2803.0 L1126.8,2803.0 L1131.1,2803.0 L1135.3,2803.0 L1139.6,2803.0 L1143.9,2803.0 L1148.2,2803.0 L1152.5,2803.0 L1156.8,2803.0 L1161.0,2803.0 L1165.3,2803.0 L1169.6,2803.0 L1173.9,2803.0 L1178.2,2803.0 L1182.4,2803.0 L1186.7,2803.0 L1191.0,2803.0 L1195.3,2803.0 L1199.6,2803.0 L1203.8,2803.0 L1208.1,2803.0 L1212.4,2803.0 L1216.7,2803.0 L1221.0,2803.0 L1225.2,2803.0 L1229.5,2803.0 L1233.8,2803.0 L1238.1,2803.0 L1242.4,2803.0 L1246.7,2803.0 L1250.9,2803.0 L1255.2,2803.0 L1259.5,2803.0 L1263.8,2803.0 L1268.1,2803.0 L1272.3,2803.0 L1276.6,2803.0 L1280.9,2803.0 L1285.2,2803.0 L1289.5,2803.0 L1293.8,2803.0 L1298.0,2803.0 L1302.3,2803.0 L1306.6,2803.0 L1310.9,2803.0 L1315.2,2803.0 L1319.4,2803.0 L1323.7,2803.0 L1328.0,2803.0 L1332.3,2803.0 L1336.6,2803.0 L1340.8,2803.0 L1345.1,2803.0 L1349.4,2803.0 L1353.7,2803.0 L1358.0,2803.0 L1362.2,2803.0 L1366.5,2803.0 L1370.8,2803.0 L1375.1,2803.0 L1379.4,2803.0 L1383.7,2803.0 L1387.9,2803.0 L1392.2,2803.0 L1396.5,2803.0 L1400.8,2803.0 L1405.1,2803.0 L1409.3,2803.0 L1413.6,2803.0 L1417.9,2803.0 L1422.2,2803.0 L1426.5,2803.0 L1430.8,2803.0 L1435.0,2803.0 L1439.3,2803.0 L1443.6,2803.0 L1447.9,2803.0 L1452.2,2803.0 L1456.4,2803.0 L1460.7,2803.0 L1465.0,2803.0 L1469.3,2803.0 L1473.6,2803.0 L1477.8,2803.0 L1482.1,2803.0 L1486.4,2803.0 L1490.7,2803.0 L1495.0,2803.0 L1499.2,2803.0 L1503.5,2803.0 L1507.8,2803.0 L1512.1,2803.0 L1516.4,2803.0 L1520.7,2803.0 L1524.9,2803.0 L1529.2,2803.0 L1533.5,2803.0 L1537.8,2803.0 L1542.1,2803.0 L1546.3,2803.0 L1550.6,2803.0 L1554.9,2803.0 L1559.2,2803.0 L1563.5,2803.0 L1567.8,2803.0 L1572.0,2803.0 L1576.3,2803.0 L1580.6,2803.0 L1584.9,2803.0 L1589.2,2803.0 L1593.4,2803.0 L1597.7,2803.0 L1602.0,2803.0 L1606.3,2803.0 L1610.6,2803.0 L1614.8,2803.0 L1619.1,2803.0 L1623.4,2803.0 L1627.7,2803.0 L1632.0,2803.0 L1636.2,2803.0 L1640.5,2803.0 L1644.8,2803.0 L1649.1,2803.0 L1653.4,2803.0 L1657.7,2803.0 L1661.9,2803.0 L1666.2,2803.0 L1670.5,2803.0 L1674.8,2803.0 L1679.1,2803.0 L1683.3,2803.0 L1687.6,2803.0 L1691.9,2803.0 L1696.2,2803.0 L1700.5,2803.0 L1704.8,2803.0 L1709.0,2803.0 L1713.3,2803.0 L1717.6,2803.0 L1721.9,2803.0 L1726.2,2803.0 L1730.4,2803.0 L1734.7,2803.0 L1739.0,2803.0 L1743.3,2803.0 L1747.6,2803.0 L1751.8,2803.0 L1756.1,2803.0 L1760.4,2803.0 L1764.7,2803.0 L1769.0,2803.0 L1773.2,2803.0 L1777.5,2803.0 L1781.8,2803.0 L1786.1,2803.0 L1790.4,2803.0 L1794.7,2803.0 L1798.9,2803.0 L1803.2,2803.0 L1807.5,2803.0 L1811.8,2803.0 L1816.1,2803.0 L1820.3,2803.0 L1824.6,2803.0 L1828.9,2803.0 L1833.2,2803.0 L1837.5,2803.0 L1841.8,2803.0 L1846.0,2803.0 L1850.3,2803.0 L1854.6,2803.0 L1858.9,2803.0 L1863.2,2803.0 L1867.4,2803.0 L1871.7,2803.0 L1876.0,2803.0 L1880.3,2803.0 L1884.6,2803.0 L1888.8,2803.0 L1893.1,2803.0 L1897.4,2803.0 L1901.7,2803.0 L1906.0,2803.0 L1910.2,2803.0 L1914.5,2803.0 L1918.8,2803.0 L1923.1,2803.0 L1927.4,2803.0 L1931.7,2803.0 L1935.9,2803.0 L1940.2,2803.0 L1944.5,2803.0 L1948.8,2803.0 L1953.1,2803.0 L1957.3,2803.0 L1961.6,2803.0 L1965.9,2803.0 L1970.2,2803.0 L1974.5,2803.0 L1978.8,2803.0 L1983.0,2803.0 L1987.3,2803.0 L1991.6,2803.0 L1995.9,2803.0 L2000.2,2803.0 L2004.4,2803.0 L2008.7,2803.0 L2013.0,2803.0" stroke="#ff0000" stroke-width="5.6"/>
<path d="M300.5,2802.2 L304.8,2802.1 L309.1,2802.0 L313.3,2801.9 L317.6,2801.8 L321.9,2801.7 L326.2,2801.5 L330.5,2801.3 L334.8,2801.2 L339.0,2800.9 L343.3,2800.7 L347.6,2800.5 L351.9,2800.2 L356.2,2799.9 L360.4,2799.6 L364.7,2799.2 L369.0,2798.8 L373.3,2798.4 L377.6,2797.9 L381.8,2797.4 L386.1,2796.9 L390.4,2796.3 L394.7,2795.6 L399.0,2794.9 L403.2,2794.2 L407.5,2793.4 L411.8,2792.5 L416.1,2791.5 L420.4,2790.5 L424.7,2789.4 L428.9,2788.3 L433.2,2787.0 L437.5,2785.7 L441.8,2784.2 L446.1,2782.7 L450.3,2781.1 L454.6,2779.3 L458.9,2777.5 L463.2,2775.5 L467.5,2773.4 L471.8,2771.3 L476.0,2768.9 L480.3,2766.5 L484.6,2763.9 L488.9,2761.2 L493.2,2758.3 L497.4,2755.3 L501.7,2752.2 L506.0,2748.9 L510.3,2745.4 L514.6,2741.8 L518.8,2738.1 L523.1,2734.2 L527.4,2730.2 L531.7,2726.0 L536.0,2721.6 L540.2,2717.1 L544.5,2712.4 L548.8,2707.6 L553.1,2702.7 L557.4,2697.6 L561.7,2692.4 L565.9,2687.0 L570.2,2681.6 L574.5,2676.0 L578.8,2670.3 L583.1,2664.5 L587.3,2658.6 L591.6,2652.6 L595.9,2646.5 L600.2,2640.4 L604.5,2634.3 L608.8,2628.1 L613.0,2621.8 L617.3,2615.6 L621.6,2609.3 L625.9,2603.1 L630.2,2596.9 L634.4,2590.7 L638.7,2584.6 L643.0,2578.6 L647.3,2572.7 L651.6,2566.9 L655.8,2561.1 L660.1,2555.6 L664.4,2550.2 L668.7,2544.9 L673.0,2539.8 L677.2,2535.0 L681.5,2530.3 L685.8,2525.9 L690.1,2521.7 L694.4,2517.8 L698.7,2514.1 L702.9,2510.7 L707.2,2507.6 L711.5,2504.8 L715.8,2502.3 L720.1,2500.1 L724.3,2498.3 L728.6,2496.7 L732.9,2495.5 L737.2,2494.7 L741.5,2494.2 L745.8,2494.0 L750.0,2494.2 L754.3,2494.7 L758.6,2495.5 L762.9,2496.7 L767.2,2498.3 L771.4,2500.1 L775.7,2502.3 L780.0,2504.8 L784.3,2507.6 L788.6,2510.7 L792.8,2514.1 L797.1,2517.8 L801.4,2521.7 L805.7,2525.9 L810.0,2530.3 L814.2,2535.0 L818.5,2539.8 L822.8,2544.9 L827.1,2550.2 L831.4,2555.6 L835.7,2561.1 L839.9,2566.9 L844.2,2572.7 L848.5,2578.6 L852.8,2584.6 L857.1,2590.7 L861.3,2596.9 L865.6,2603.1 L869.9,2609.3 L874.2,2615.6 L878.5,2621.8 L882.8,2628.1 L887.0,2634.3 L891.3,2640.4 L895.6,2646.5 L899.9,2652.6 L904.2,2658.6 L908.4,2664.5 L912.7,2670.3 L917.0,2676.0 L921.3,2681.6 L925.6,2687.0 L929.8,2692.4 L934.1,2697.6 L938.4,2702.7 L942.7,2707.6 L947.0,2712.4 L951.2,2717.1 L955.5,2721.6 L959.8,2726.0 L964.1,2730.2 L968.4,2734.2 L972.7,2738.1 L976.9,2741.8 L981.2,2745.4 L985.5,2748.9 L989.8,2752.2 L994.1,2755.3 L998.3,2758.3 L1002.6,2761.2 L1006.9,2763.9 L1011.2,2766.5 L1015.5,2768.9 L1019.8,2771.3 L1024.0,2773.4 L1028.3,2775.5 L1032.6,2777.5 L1036.9,2779.3 L1041.2,2781.1 L1045.4,2782.7 L1049.7,2784.2 L1054.0,2785.7 L1058.3,2787.0 L1062.6,2788.3 L1066.8,2789.4 L1071.1,2790.5 L1075.4,2791.5 L1079.7,2792.5 L1084.0,2793.4 L1088.2,2794.2 L1092.5,2794.9 L1096.8,2795.6 L1101.1,2796.3 L1105.4,2796.9 L1109.7,2797.4 L1113.9,2797.9 L1118.2,2798.4 L1122.5,2798.8 L1126.8,2799.2 L1131.1,2799.6 L1135.3,2799.9 L1139.6,2800.2 L1143.9,2800.5 L1148.2,2800.7 L1152.5,2800.9 L1156.8,2801.2 L1161.0,2801.3 L1165.3,2801.5 L1169.6,2801.7 L1173.9,2801.8 L1178.2,2801.9 L1182.4,2802.0 L1186.7,2802.1 L1191.0,2802.2 L1195.3,2802.3 L1199.6,2802.4 L1203.8,2802.5 L1208.1,2802.5 L1212.4,2802.6 L1216.7,2802.6 L1221.0,2802.7 L1225.2,2802.7 L1229.5,2802.7 L1233.8,2802.8 L1238.1,2802.8 L1242.4,2802.8 L1246.7,2802.8 L1250.9,2802.9 L1255.2,2802.9 L1259.5,2802.9 L1263.8,2802.9 L1268.1,2802.9 L1272.3,2802.9 L1276.6,2802.9 L1280.9,2802.9 L1285.2,2803.0 L1289.5,2803.0 L1293.8,2803.0 L1298.0,2803.0 L1302.3,2803.0 L1306.6,2803.0 L1310.9,2803.0 L1315.2,2803.0 L1319.4,2803.0 L1323.7,2803.0 L1328.0,2803.0 L1332.3,2803.0 L1336.6,2803.0 L1340.8,2803.0 L1345.1,2803.0 L1349.4,2803.0 L1353.7,2803.0 L1358.0,2803.0 L1362.2,2803.0 L1366.5,2803.0 L1370.8,2803.0 L1375.1,2803.0 L1379.4,2803.0 L1383.7,2803.0 L1387.9,2803.0 L1392.2,2803.0 L1396.5,2803.0 L1400.8,2803.0 L1405.1,2803.0 L1409.3,2803.0 L1413.6,2803.0 L1417.9,2803.0 L1422.2,2803.0 L1426.5,2803.0 L1430.8,2803.0 L1435.0,2803.0 L1439.3,2803.0 L1443.6,2803.0 L1447.9,2803.0 L1452.2,2803.0 L1456.4,2803.0 L1460.7,2803.0 L1465.0,2803.0 L1469.3,2803.0 L1473.6,2803.0 L1477.8,2803.0 L1482.1,2803.0 L1486.4,2803.0 L1490.7,2803.0 L1495.0,2803.0 L1499.2,2803.0 L1503.5,2803.0 L1507.8,2803.0 L1512.1,2803.0 L1516.4,2803.0 L1520.7,2803.0 L1524.9,2803.0 L1529.2,2803.0 L1533.5,2803.0 L1537.8,2803.0 L1542.1,2803.0 L1546.3,2803.0 L1550.6,2803.0 L1554.9,2803.0 L1559.2,2803.0 L1563.5,2803.0 L1567.8,2803.0 L1572.0,2803.0 L1576.3,2803.0 L1580.6,2803.0 L1584.9,2803.0 L1589.2,2803.0 L1593.4,2803.0 L1597.7,2803.0 L1602.0,2803.0 L1606.3,2803.0 L1610.6,2803.0 L1614.8,2803.0 L1619.1,2803.0 L1623.4,2803.0 L1627.7,2803.0 L1632.0,2803.0 L1636.2,2803.0 L1640.5,2803.0 L1644.8,2803.0 L1649.1,2803.0 L1653.4,2803.0 L1657.7,2803.0 L1661.9,2803.0 L1666.2,2803.0 L1670.5,2803.0 L1674.8,2803.0 L1679.1,2803.0 L1683.3,2803.0 L1687.6,2803.0 L1691.9,2803.0 L1696.2,2803.0 L1700.5,2803.0 L1704.8,2803.0 L1709.0,2803.0 L1713.3,2803.0 L1717.6,2803.0 L1721.9,2803.0 L1726.2,2803.0 L1730.4,2803.0 L1734.7,2803.0 L1739.0,2803.0 L1743.3,2803.0 L1747.6,2803.0 L1751.8,2803.0 L1756.1,2803.0 L1760.4,2803.0 L1764.7,2803.0 L1769.0,2803.0 L1773.2,2803.0 L1777.5,2803.0 L1781.8,2803.0 L1786.1,2803.0 L1790.4,2803.0 L1794.7,2803.0 L1798.9,2803.0 L1803.2,2803.0 L1807.5,2803.0 L1811.8,2803.0 L1816.1,2803.0 L1820.3,2803.0 L1824.6,2803.0 L1828.9,2803.0 L1833.2,2803.0 L1837.5,2803.0 L1841.8,2803.0 L1846.0,2803.0 L1850.3,2803.0 L1854.6,2803.0 L1858.9,2803.0 L1863.2,2803.0 L1867.4,2803.0 L1871.7,2803.0 L1876.0,2803.0 L1880.3,2803.0 L1884.6,2803.0 L1888.8,2803.0 L1893.1,2803.0 L1897.4,2803.0 L1901.7,2803.0 L1906.0,2803.0 L1910.2,2803.0 L1914.5,2803.0 L1918.8,2803.0 L1923.1,2803.0 L1927.4,2803.0 L1931.7,2803.0 L1935.9,2803.0 L1940.2,2803.0 L1944.5,2803.0 L1948.8,2803.0 L1953.1,2803.0 L1957.3,2803.0 L1961.6,2803.0 L1965.9,2803.0 L1970.2,2803.0 L1974.5,2803.0 L1978.8,2803.0 L1983.0,2803.0 L1987.3,2803.0 L1991.6,2803.0 L1995.9,2803.0 L2000.2,2803.0 L2004.4,2803.0 L2008.7,2803.0 L2013.0,2803.0" stroke="#00ffff" stroke-width="5.6"/>
<path d="M300.5,2803.0 L304.8,2803.0 L309.1,2803.0 L313.3,2803.0 L317.6,2803.0 L321.9,2803.0 L326.2,2803.0 L330.5,2803.0 L334.8,2803.0 L339.0,2803.0 L343.3,2803.0 L347.6,2803.0 L351.9,2803.0 L356.2,2803.0 L360.4,2803.0 L364.7,2803.0 L369.0,2803.0 L373.3,2803.0 L377.6,2803.0 L381.8,2803.0 L386.1,2803.0 L390.4,2803.0 L394.7,2802.9 L399.0,2802.9 L403.2,2802.9 L407.5,2802.9 L411.8,2802.9 L416.1,2802.9 L420.4,2802.9 L424.7,2802.9 L428.9,2802.9 L433.2,2802.8 L437.5,2802.8 L441.8,2802.8 L446.1,2802.8 L450.3,2802.8 L454.6,2802.7 L458.9,2802.7 L463.2,2802.7 L467.5,2802.6 L471.8,2802.6 L476.0,2802.6 L480.3,2802.5 L484.6,2802.4 L488.9,2802.4 L493.2,2802.3 L497.4,2802.3 L501.7,2802.2 L506.0,2802.1 L510.3,2802.0 L514.6,2801.9 L518.8,2801.8 L523.1,2801.7 L527.4,2801.5 L531.7,2801.4 L536.0,2801.2 L540.2,2801.1 L544.5,2800.9 L548.8,2800.7 L553.1,2800.5 L557.4,2800.2 L561.7,2800.0 L565.9,2799.7 L570.2,2799.4 L574.5,2799.1 L578.8,2798.8 L583.1,2798.4 L587.3,2798.0 L591.6,2797.6 L595.9,2797.1 L600.2,2796.6 L604.5,2796.1 L608.8,2795.5 L613.0,2794.9 L617.3,2794.3 L621.6,2793.6 L625.9,2792.9 L630.2,2792.1 L634.4,2791.2 L638.7,2790.3 L643.0,2789.4 L647.3,2788.4 L651.6,2787.3 L655.8,2786.2 L660.1,2785.0 L664.4,2783.7 L668.7,2782.4 L673.0,2781.0 L677.2,2779.5 L681.5,2777.9 L685.8,2776.3 L690.1,2774.5 L694.4,2772.7 L698.7,2770.8 L702.9,2768.8 L707.2,2766.7 L711.5,2764.5 L715.8,2762.2 L720.1,2759.8 L724.3,2757.3 L728.6,2754.6 L732.9,2751.9 L737.2,2749.1 L741.5,2746.1 L745.8,2743.1 L750.0,2739.9 L754.3,2736.6 L758.6,2733.2 L762.9,2729.7 L767.2,2726.1 L771.4,2722.3 L775.7,2718.5 L780.0,2714.5 L784.3,2710.4 L788.6,2706.2 L792.8,2701.9 L797.1,2697.5 L801.4,2693.0 L805.7,2688.4 L810.0,2683.7 L814.2,2678.9 L818.5,2674.1 L822.8,2669.1 L827.1,2664.1 L831.4,2659.0 L835.7,2653.8 L839.9,2648.6 L844.2,2643.3 L848.5,2638.0 L852.8,2632.6 L857.1,2627.2 L861.3,2621.8 L865.6,2616.4 L869.9,2610.9 L874.2,2605.5 L878.5,2600.1 L882.8,2594.6 L887.0,2589.3 L891.3,2583.9 L895.6,2578.7 L899.9,2573.4 L904.2,2568.3 L908.4,2563.2 L912.7,2558.2 L917.0,2553.3 L921.3,2548.6 L925.6,2543.9 L929.8,2539.4 L934.1,2535.0 L938.4,2530.8 L942.7,2526.7 L947.0,2522.8 L951.2,2519.1 L955.5,2515.5 L959.8,2512.2 L964.1,2509.0 L968.4,2506.1 L972.7,2503.3 L976.9,2500.8 L981.2,2498.6 L985.5,2496.5 L989.8,2494.7 L994.1,2493.1 L998.3,2491.8 L1002.6,2490.7 L1006.9,2489.9 L1011.2,2489.4 L1015.5,2489.1 L1019.8,2489.0 L1024.0,2489.2 L1028.3,2489.7 L1032.6,2490.4 L1036.9,2491.4 L1041.2,2492.6 L1045.4,2494.0 L1049.7,2495.8 L1054.0,2497.7 L1058.3,2499.9 L1062.6,2502.3 L1066.8,2504.9 L1071.1,2507.8 L1075.4,2510.9 L1079.7,2514.1 L1084.0,2517.6 L1088.2,2521.3 L1092.5,2525.1 L1096.8,2529.1 L1101.1,2533.3 L1105.4,2537.6 L1109.7,2542.1 L1113.9,2546.7 L1118.2,2551.4 L1122.5,2556.2 L1126.8,2561.2 L1131.1,2566.2 L1135.3,2571.4 L1139.6,2576.6 L1143.9,2581.8 L1148.2,2587.1 L1152.5,2592.5 L1156.8,2597.9 L1161.0,2603.3 L1165.3,2608.7 L1169.6,2614.2 L1173.9,2619.6 L1178.2,2625.0 L1182.4,2630.5 L1186.7,2635.8 L1191.0,2641.2 L1195.3,2646.5 L1199.6,2651.7 L1203.8,2656.9 L1208.1,2662.1 L1212.4,2667.1 L1216.7,2672.1 L1221.0,2677.0 L1225.2,2681.8 L1229.5,2686.6 L1233.8,2691.2 L1238.1,2695.7 L1242.4,2700.2 L1246.7,2704.5 L1250.9,2708.8 L1255.2,2712.9 L1259.5,2716.9 L1263.8,2720.8 L1268.1,2724.6 L1272.3,2728.3 L1276.6,2731.8 L1280.9,2735.3 L1285.2,2738.6 L1289.5,2741.8 L1293.8,2744.9 L1298.0,2747.9 L1302.3,2750.8 L1306.6,2753.6 L1310.9,2756.2 L1315.2,2758.8 L1319.4,2761.2 L1323.7,2763.6 L1328.0,2765.8 L1332.3,2768.0 L1336.6,2770.0 L1340.8,2772.0 L1345.1,2773.8 L1349.4,2775.6 L1353.7,2777.3 L1358.0,2778.9 L1362.2,2780.4 L1366.5,2781.9 L1370.8,2783.2 L1375.1,2784.5 L1379.4,2785.7 L1383.7,2786.9 L1387.9,2788.0 L1392.2,2789.0 L1396.5,2790.0 L1400.8,2790.9 L1405.1,2791.7 L1409.3,2792.5 L1413.6,2793.3 L1417.9,2794.0 L1422.2,2794.7 L1426.5,2795.3 L1430.8,2795.9 L1435.0,2796.4 L1439.3,2796.9 L1443.6,2797.4 L1447.9,2797.8 L1452.2,2798.2 L1456.4,2798.6 L1460.7,2799.0 L1465.0,2799.3 L1469.3,2799.6 L1473.6,2799.9 L1477.8,2800.1 L1482.1,2800.4 L1486.4,2800.6 L1490.7,2800.8 L1495.0,2801.0 L1499.2,2801.2 L1503.5,2801.3 L1507.8,2801.5 L1512.1,2801.6 L1516.4,2801.7 L1520.7,2801.9 L1524.9,2802.0 L1529.2,2802.1 L1533.5,2802.1 L1537.8,2802.2 L1542.1,2802.3 L1546.3,2802.4 L1550.6,2802.4 L1554.9,2802.5 L1559.2,2802.5 L1563.5,2802.6 L1567.8,2802.6 L1572.0,2802.7 L1576.3,2802.7 L1580.6,2802.7 L1584.9,2802.8 L1589.2,2802.8 L1593.4,2802.8 L1597.7,2802.8 L1602.0,2802.8 L1606.3,2802.9 L1610.6,2802.9 L1614.8,2802.9 L1619.1,2802.9 L1623.4,2802.9 L1627.7,2802.9 L1632.0,2802.9 L1636.2,2802.9 L1640.5,2802.9 L1644.8,2802.9 L1649.1,2803.0 L1653.4,2803.0 L1657.7,2803.0 L1661.9,2803.0 L1666.2,2803.0 L1670.5,2803.0 L1674.8,2803.0 L1679.1,2803.0 L1683.3,2803.0 L1687.6,2803.0 L1691.9,2803.0 L1696.2,2803.0 L1700.5,2803.0 L1704.8,2803.0 L1709.0,2803.0 L1713.3,2803.0 L1717.6,2803.0 L1721.9,2803.0 L1726.2,2803.0 L1730.4,2803.0 L1734.7,2803.0 L1739.0,2803.0 L1743.3,2803.0 L1747.6,2803.0 L1751.8,2803.0 L1756.1,2803.0 L1760.4,2803.0 L1764.7,2803.0 L1769.0,2803.0 L1773.2,2803.0 L1777.5,2803.0 L1781.8,2803.0 L1786.1,2803.0 L1790.4,2803.0 L1794.7,2803.0 L1798.9,2803.0 L1803.2,2803.0 L1807.5,2803.0 L1811.8,2803.0 L1816.1,2803.0 L1820.3,2803.0 L1824.6,2803.0 L1828.9,2803.0 L1833.2,2803.0 L1837.5,2803.0 L1841.8,2803.0 L1846.0,2803.0 L1850.3,2803.0 L1854.6,2803.0 L1858.9,2803.0 L1863.2,2803.0 L1867.4,2803.0 L1871.7,2803.0 L1876.0,2803.0 L1880.3,2803.0 L1884.6,2803.0 L1888.8,2803.0 L1893.1,2803.0 L1897.4,2803.0 L1901.7,2803.0 L1906.0,2803.0 L1910.2,2803.0 L1914.5,2803.0 L1918.8,2803.0 L1923.1,2803.0 L1927.4,2803.0 L1931.7,2803.0 L1935.9,2803.0 L1940.2,2803.0 L1944.5,2803.0 L1948.8,2803.0 L1953.1,2803.0 L1957.3,2803.0 L1961.6,2803.0 L1965.9,2803.0 L1970.2,2803.0 L1974.5,2803.0 L1978.8,2803.0 L1983.0,2803.0 L1987.3,2803.0 L1991.6,2803.0 L1995.9,2803.0 L2000.2,2803.0 L2004.4,2803.0 L2008.7,2803.0 L2013.0,2803.0" stroke="#0000ff" stroke-width="5.6"/>
<path d="M300.5,2803.0 L304.8,2803.0 L309.1,2803.0 L313.3,2803.0 L317.6,2803.0 L321.9,2803.0 L326.2,2803.0 L330.5,2803.0 L334.8,2803.0 L339.0,2803.0 L343.3,2803.0 L347.6,2803.0 L351.9,2803.0 L356.2,2803.0 L360.4,2803.0 L364.7,2803.0 L369.0,2803.0 L373.3,2803.0 L377.6,2803.0 L381.8,2803.0 L386.1,2803.0 L390.4,2803.0 L394.7,2803.0 L399.0,2803.0 L403.2,2803.0 L407.5,2803.0 L411.8,2803.0 L416.1,2803.0 L420.4,2803.0 L424.7,2803.0 L428.9,2803.0 L433.2,2803.0 L437.5,2803.0 L441.8,2803.0 L446.1,2803.0 L450.3,2803.0 L454.6,2803.0 L458.9,2803.0 L463.2,2803.0 L467.5,2803.0 L471.8,2803.0 L476.0,2803.0 L480.3,2803.0 L484.6,2803.0 L488.9,2803.0 L493.2,2803.0 L497.4,2803.0 L501.7,2803.0 L506.0,2803.0 L510.3,2803.0 L514.6,2803.0 L518.8,2803.0 L523.1,2803.0 L527.4,2803.0 L531.7,2803.0 L536.0,2803.0 L540.2,2803.0 L544.5,2803.0 L548.8,2803.0 L553.1,2803.0 L557.4,2803.0 L561.7,2803.0 L565.9,2803.0 L570.2,2803.0 L574.5,2803.0 L578.8,2803.0 L583.1,2803.0 L587.3,2803.0 L591.6,2803.0 L595.9,2803.0 L600.2,2803.0 L604.5,2803.0 L608.8,2803.0 L613.0,2803.0 L617.3,2803.0 L621.6,2803.0 L625.9,2803.0 L630.2,2803.0 L634.4,2803.0 L638.7,2803.0 L643.0,2803.0 L647.3,2803.0 L651.6,2803.0 L655.8,2803.0 L660.1,2803.0 L664.4,2803.0 L668.7,2803.0 L673.0,2803.0 L677.2,2803.0 L681.5,2803.0 L685.8,2803.0 L690.1,2803.0 L694.4,2803.0 L698.7,2803.0 L702.9,2803.0 L707.2,2803.0 L711.5,2803.0 L715.8,2803.0 L720.1,2803.0 L724.3,2803.0 L728.6,2803.0 L732.9,2803.0 L737.2,2803.0 L741.5,2803.0 L745.8,2803.0 L750.0,2803.0 L754.3,2803.0 L758.6,2803.0 L762.9,2803.0 L767.2,2803.0 L771.4,2803.0 L775.7,2803.0 L780.0,2803.0 L784.3,2803.0 L788.6,2803.0 L792.8,2803.0 L797.1,2803.0 L801.4,2803.0 L805.7,2803.0 L810.0,2803.0 L814.2,2803.0 L818.5,2803.0 L822.8,2803.0 L827.1,2803.0 L831.4,2803.0 L835.7,2803.0 L839.9,2803.0 L844.2,2803.0 L848.5,2803.0 L852.8,2803.0 L857.1,2803.0 L861.3,2803.0 L865.6,2803.0 L869.9,2803.0 L874.2,2803.0 L878.5,2803.0 L882.8,2803.0 L887.0,2802.9 L891.3,2802.9 L895.6,2802.9 L899.9,2802.9 L904.2,2802.9 L908.4,2802.9 L912.7,2802.8 L917.0,2802.8 L921.3,2802.8 L925.6,2802.7 L929.8,2802.7 L934.1,2802.6 L938.4,2802.6 L942.7,2802.5 L947.0,2802.4 L951.2,2802.3 L955.5,2802.2 L959.8,2802.1 L964.1,2801.9 L968.4,2801.8 L972.7,2801.6 L976.9,2801.4 L981.2,2801.1 L985.5,2800.8 L989.8,2800.5 L994.1,2800.2 L998.3,2799.8 L1002.6,2799.3 L1006.9,2798.8 L1011.2,2798.3 L1015.5,2797.7 L1019.8,2797.0 L1024.0,2796.2 L1028.3,2795.4 L1032.6,2794.5 L1036.9,2793.4 L1041.2,2792.3 L1045.4,2791.1 L1049.7,2789.8 L1054.0,2788.3 L1058.3,2786.8 L1062.6,2785.1 L1066.8,2783.2 L1071.1,2781.2 L1075.4,2779.1 L1079.7,2776.8 L1084.0,2774.4 L1088.2,2771.7 L1092.5,2769.0 L1096.8,2766.0 L1101.1,2762.9 L1105.4,2759.6 L1109.7,2756.1 L1113.9,2752.4 L1118.2,2748.6 L1122.5,2744.6 L1126.8,2740.5 L1131.1,2736.2 L1135.3,2731.7 L1139.6,2727.1 L1143.9,2722.3 L1148.2,2717.5 L1152.5,2712.5 L1156.8,2707.5 L1161.0,2702.3 L1165.3,2697.2 L1169.6,2691.9 L1173.9,2686.7 L1178.2,2681.5 L1182.4,2676.3 L1186.7,2671.1 L1191.0,2666.0 L1195.3,2661.1 L1199.6,2656.2 L1203.8,2651.5 L1208.1,2646.9 L1212.4,2642.6 L1216.7,2638.5 L1221.0,2634.6 L1225.2,2630.9 L1229.5,2627.6 L1233.8,2624.6 L1238.1,2621.9 L1242.4,2619.5 L1246.7,2617.5 L1250.9,2615.8 L1255.2,2614.5 L1259.5,2613.6 L1263.8,2613.1 L1268.1,2613.0 L1272.3,2613.3 L1276.6,2613.9 L1280.9,2615.0 L1285.2,2616.4 L1289.5,2618.2 L1293.8,2620.4 L1298.0,2622.9 L1302.3,2625.7 L1306.6,2628.9 L1310.9,2632.4 L1315.2,2636.1 L1319.4,2640.1 L1323.7,2644.3 L1328.0,2648.7 L1332.3,2653.3 L1336.6,2658.1 L1340.8,2663.0 L1345.1,2668.1 L1349.4,2673.2 L1353.7,2678.4 L1358.0,2683.6 L1362.2,2688.8 L1366.5,2694.0 L1370.8,2699.2 L1375.1,2704.4 L1379.4,2709.5 L1383.7,2714.5 L1387.9,2719.4 L1392.2,2724.3 L1396.5,2728.9 L1400.8,2733.5 L1405.1,2737.9 L1409.3,2742.2 L1413.6,2746.2 L1417.9,2750.2 L1422.2,2753.9 L1426.5,2757.5 L1430.8,2760.9 L1435.0,2764.2 L1439.3,2767.2 L1443.6,2770.1 L1447.9,2772.8 L1452.2,2775.4 L1456.4,2777.8 L1460.7,2780.0 L1465.0,2782.1 L1469.3,2784.0 L1473.6,2785.8 L1477.8,2787.4 L1482.1,2788.9 L1486.4,2790.3 L1490.7,2791.6 L1495.0,2792.8 L1499.2,2793.9 L1503.5,2794.8 L1507.8,2795.7 L1512.1,2796.5 L1516.4,2797.3 L1520.7,2797.9 L1524.9,2798.5 L1529.2,2799.0 L1533.5,2799.5 L1537.8,2799.9 L1542.1,2800.3 L1546.3,2800.6 L1550.6,2800.9 L1554.9,2801.2 L1559.2,2801.4 L1563.5,2801.7 L1567.8,2801.8 L1572.0,2802.0 L1576.3,2802.1 L1580.6,2802.3 L1584.9,2802.4 L1589.2,2802.4 L1593.4,2802.5 L1597.7,2802.6 L1602.0,2802.7 L1606.3,2802.7 L1610.6,2802.8 L1614.8,2802.8 L1619.1,2802.8 L1623.4,2802.9 L1627.7,2802.9 L1632.0,2802.9 L1636.2,2802.9 L1640.5,2802.9 L1644.8,2802.9 L1649.1,2802.9 L1653.4,2803.0 L1657.7,2803.0 L1661.9,2803.0 L1666.2,2803.0 L1670.5,2803.0 L1674.8,2803.0 L1679.1,2803.0 L1683.3,2803.0 L1687.6,2803.0 L1691.9,2803.0 L1696.2,2803.0 L1700.5,2803.0 L1704.8,2803.0 L1709.0,2803.0 L1713.3,2803.0 L1717.6,2803.0 L1721.9,2803.0 L1726.2,2803.0 L1730.4,2803.0 L1734.7,2803.0 L1739.0,2803.0 L1743.3,2803.0 L1747.6,2803.0 L1751.8,2803.0 L1756.1,2803.0 L1760.4,2803.0 L1764.7,2803.0 L1769.0,2803.0 L1773.2,2803.0 L1777.5,2803.0 L1781.8,2803.0 L1786.1,2803.0 L1790.4,2803.0 L1794.7,2803.0 L1798.9,2803.0 L1803.2,2803.0 L1807.5,2803.0 L1811.8,2803.0 L1816.1,2803.0 L1820.3,2803.0 L1824.6,2803.0 L1828.9,2803.0 L1833.2,2803.0 L1837.5,2803.0 L1841.8,2803.0 L1846.0,2803.0 L1850.3,2803.0 L1854.6,2803.0 L1858.9,2803.0 L1863.2,2803.0 L1867.4,2803.0 L1871.7,2803.0 L1876.0,2803.0 L1880.3,2803.0 L1884.6,2803.0 L1888.8,2803.0 L1893.1,2803.0 L1897.4,2803.0 L1901.7,2803.0 L1906.0,2803.0 L1910.2,2803.0 L1914.5,2803.0 L1918.8,2803.0 L1923.1,2803.0 L1927.4,2803.0 L1931.7,2803.0 L1935.9,2803.0 L1940.2,2803.0 L1944.5,2803.0 L1948.8,2803.0 L1953.1,2803.0 L1957.3,2803.0 L1961.6,2803.0 L1965.9,2803.0 L1970.2,2803.0 L1974.5,2803.0 L1978.8,2803.0 L1983.0,2803.0 L1987.3,2803.0 L1991.6,2803.0 L1995.9,2803.0 L2000.2,2803.0 L2004.4,2803.0 L2008.7,2803.0 L2013.0,2803.0" stroke="#00ff00" stroke-width="5.6"/>
<path d="M300.5,2803.0 L304.8,2803.0 L309.1,2803.0 L313.3,2803.0 L317.6,2803.0 L321.9,2803.0 L326.2,2803.0 L330.5,2803.0 L334.8,2803.0 L339.0,2803.0 L343.3,2803.0 L347.6,2803.0 L351.9,2803.0 L356.2,2803.0 L360.4,2803.0 L364.7,2803.0 L369.0,2803.0 L373.3,2803.0 L377.6,2803.0 L381.8,2803.0 L386.1,2803.0 L390.4,2803.0 L394.7,2803.0 L399.0,2803.0 L403.2,2803.0 L407.5,2803.0 L411.8,2803.0 L416.1,2803.0 L420.4,2803.0 L424.7,2803.0 L428.9,2803.0 L433.2,2803.0 L437.5,2803.0 L441.8,2803.0 L446.1,2803.0 L450.3,2803.0 L454.6,2803.0 L458.9,2803.0 L463.2,2803.0 L467.5,2803.0 L471.8,2803.0 L476.0,2803.0 L480.3,2803.0 L484.6,2803.0 L488.9,2803.0 L493.2,2803.0 L497.4,2803.0 L501.7,2803.0 L506.0,2803.0 L510.3,2803.0 L514.6,2803.0 L518.8,2803.0 L523.1,2803.0 L527.4,2803.0 L531.7,2803.0 L536.0,2803.0 L540.2,2803.0 L544.5,2803.0 L548.8,2803.0 L553.1,2803.0 L557.4,2803.0 L561.7,2803.0 L565.9,2803.0 L570.2,2803.0 L574.5,2803.0 L578.8,2803.0 L583.1,2803.0 L587.3,2803.0 L591.6,2803.0 L595.9,2803.0 L600.2,2803.0 L604.5,2803.0 L608.8,2803.0 L613.0,2803.0 L617.3,2803.0 L621.6,2803.0 L625.9,2803.0 L630.2,2803.0 L634.4,2803.0 L638.7,2803.0 L643.0,2803.0 L647.3,2803.0 L651.6,2803.0 L655.8,2803.0 L660.1,2803.0 L664.4,2803.0 L668.7,2803.0 L673.0,2803.0 L677.2,2803.0 L681.5,2803.0 L685.8,2803.0 L690.1,2803.0 L694.4,2803.0 L698.7,2803.0 L702.9,2803.0 L707.2,2803.0 L711.5,2803.0 L715.8,2803.0 L720.1,2803.0 L724.3,2803.0 L728.6,2803.0 L732.9,2803.0 L737.2,2803.0 L741.5,2803.0 L745.8,2803.0 L750.0,2803.0 L754.3,2803.0 L758.6,2803.0 L762.9,2803.0 L767.2,2803.0 L771.4,2803.0 L775.7,2803.0 L780.0,2803.0 L784.3,2803.0 L788.6,2803.0 L792.8,2803.0 L797.1,2803.0 L801.4,2803.0 L805.7,2803.0 L810.0,2803.0 L814.2,2803.0 L818.5,2803.0 L822.8,2803.0 L827.1,2803.0 L831.4,2803.0 L835.7,2803.0 L839.9,2803.0 L844.2,2803.0 L848.5,2803.0 L852.8,2803.0 L857.1,2803.0 L861.3,2803.0 L865.6,2803.0 L869.9,2803.0 L874.2,2803.0 L878.5,2803.0 L882.8,2802.9 L887.0,2802.9 L891.3,2802.9 L895.6,2802.9 L899.9,2802.9 L904.2,2802.9 L908.4,2802.9 L912.7,2802.9 L917.0,2802.9 L921.3,2802.8 L925.6,2802.8 L929.8,2802.8 L934.1,2802.8 L938.4,2802.7 L942.7,2802.7 L947.0,2802.7 L951.2,2802.6 L955.5,2802.6 L959.8,2802.5 L964.1,2802.5 L968.4,2802.4 L972.7,2802.3 L976.9,2802.2 L981.2,2802.1 L985.5,2802.0 L989.8,2801.9 L994.1,2801.8 L998.3,2801.7 L1002.6,2801.5 L1006.9,2801.3 L1011.2,2801.2 L1015.5,2801.0 L1019.8,2800.7 L1024.0,2800.5 L1028.3,2800.2 L1032.6,2799.9 L1036.9,2799.6 L1041.2,2799.2 L1045.4,2798.9 L1049.7,2798.4 L1054.0,2798.0 L1058.3,2797.5 L1062.6,2796.9 L1066.8,2796.4 L1071.1,2795.7 L1075.4,2795.0 L1079.7,2794.3 L1084.0,2793.5 L1088.2,2792.6 L1092.5,2791.6 L1096.8,2790.6 L1101.1,2789.5 L1105.4,2788.3 L1109.7,2787.0 L1113.9,2785.7 L1118.2,2784.2 L1122.5,2782.6 L1126.8,2780.9 L1131.1,2779.1 L1135.3,2777.2 L1139.6,2775.2 L1143.9,2773.0 L1148.2,2770.7 L1152.5,2768.2 L1156.8,2765.6 L1161.0,2762.8 L1165.3,2759.8 L1169.6,2756.7 L1173.9,2753.4 L1178.2,2749.9 L1182.4,2746.2 L1186.7,2742.3 L1191.0,2738.3 L1195.3,2734.0 L1199.6,2729.5 L1203.8,2724.8 L1208.1,2719.8 L1212.4,2714.7 L1216.7,2709.3 L1221.0,2703.6 L1225.2,2697.7 L1229.5,2691.6 L1233.8,2685.3 L1238.1,2678.7 L1242.4,2671.8 L1246.7,2664.7 L1250.9,2657.4 L1255.2,2649.8 L1259.5,2642.0 L1263.8,2634.0 L1268.1,2625.7 L1272.3,2617.2 L1276.6,2608.5 L1280.9,2599.5 L1285.2,2590.4 L1289.5,2581.0 L1293.8,2571.5 L1298.0,2561.8 L1302.3,2551.9 L1306.6,2541.8 L1310.9,2531.6 L1315.2,2521.3 L1319.4,2510.9 L1323.7,2500.4 L1328.0,2489.8 L1332.3,2479.2 L1336.6,2468.5 L1340.8,2457.7 L1345.1,2447.0 L1349.4,2436.3 L1353.7,2425.7 L1358.0,2415.1 L1362.2,2404.5 L1366.5,2394.1 L1370.8,2383.9 L1375.1,2373.7 L1379.4,2363.8 L1383.7,2354.0 L1387.9,2344.5 L1392.2,2335.2 L1396.5,2326.2 L1400.8,2317.5 L1405.1,2309.1 L1409.3,2301.1 L1413.6,2293.3 L1417.9,2286.0 L1422.2,2279.1 L1426.5,2272.6 L1430.8,2266.5 L1435.0,2260.8 L1439.3,2255.7 L1443.6,2251.0 L1447.9,2246.8 L1452.2,2243.1 L1456.4,2239.9 L1460.7,2237.3 L1465.0,2235.2 L1469.3,2233.6 L1473.6,2232.5 L1477.8,2232.0 L1482.1,2232.1 L1486.4,2232.7 L1490.7,2233.8 L1495.0,2235.5 L1499.2,2237.8 L1503.5,2240.5 L1507.8,2243.8 L1512.1,2247.6 L1516.4,2251.9 L1520.7,2256.7 L1524.9,2261.9 L1529.2,2267.7 L1533.5,2273.8 L1537.8,2280.4 L1542.1,2287.5 L1546.3,2294.9 L1550.6,2302.6 L1554.9,2310.8 L1559.2,2319.2 L1563.5,2328.0 L1567.8,2337.1 L1572.0,2346.4 L1576.3,2356.0 L1580.6,2365.8 L1584.9,2375.8 L1589.2,2385.9 L1593.4,2396.2 L1597.7,2406.6 L1602.0,2417.2 L1606.3,2427.8 L1610.6,2438.5 L1614.8,2449.2 L1619.1,2459.9 L1623.4,2470.6 L1627.7,2481.3 L1632.0,2491.9 L1636.2,2502.5 L1640.5,2513.0 L1644.8,2523.4 L1649.1,2533.7 L1653.4,2543.8 L1657.7,2553.9 L1661.9,2563.7 L1666.2,2573.4 L1670.5,2582.9 L1674.8,2592.2 L1679.1,2601.3 L1683.3,2610.2 L1687.6,2618.9 L1691.9,2627.4 L1696.2,2635.6 L1700.5,2643.6 L1704.8,2651.4 L1709.0,2658.9 L1713.3,2666.2 L1717.6,2673.2 L1721.9,2680.0 L1726.2,2686.6 L1730.4,2692.9 L1734.7,2698.9 L1739.0,2704.8 L1743.3,2710.3 L1747.6,2715.7 L1751.8,2720.8 L1756.1,2725.7 L1760.4,2730.4 L1764.7,2734.9 L1769.0,2739.1 L1773.2,2743.1 L1777.5,2747.0 L1781.8,2750.6 L1786.1,2754.1 L1790.4,2757.3 L1794.7,2760.4 L1798.9,2763.3 L1803.2,2766.1 L1807.5,2768.7 L1811.8,2771.1 L1816.1,2773.4 L1820.3,2775.6 L1824.6,2777.6 L1828.9,2779.5 L1833.2,2781.3 L1837.5,2783.0 L1841.8,2784.5 L1846.0,2786.0 L1850.3,2787.3 L1854.6,2788.6 L1858.9,2789.7 L1863.2,2790.8 L1867.4,2791.8 L1871.7,2792.8 L1876.0,2793.6 L1880.3,2794.4 L1884.6,2795.2 L1888.8,2795.8 L1893.1,2796.5 L1897.4,2797.1 L1901.7,2797.6 L1906.0,2798.1 L1910.2,2798.5 L1914.5,2798.9 L1918.8,2799.3 L1923.1,2799.7 L1927.4,2800.0 L1931.7,2800.3 L1935.9,2800.5 L1940.2,2800.8 L1944.5,2801.0 L1948.8,2801.2 L1953.1,2801.4 L1957.3,2801.5 L1961.6,2801.7 L1965.9,2801.8 L1970.2,2801.9 L1974.5,2802.1 L1978.8,2802.2 L1983.0,2802.2 L1987.3,2802.3 L1991.6,2802.4 L1995.9,2802.5 L2000.2,2802.5 L2004.4,2802.6 L2008.7,2802.6 L2013.0,2802.7" stroke="#ff0000" stroke-width="5.6"/>
</g>
<g fill="none" stroke-linejoin="round" stroke-linecap="butt">
<path d="M300.5,4169.3 L304.8,4168.6 L309.1,4167.9 L313.3,4167.2 L317.6,4166.5 L321.9,4165.8 L326.2,4165.1 L330.5,4164.4 L334.8,4163.7 L339.0,4162.9 L343.3,4162.2 L347.6,4161.5 L351.9,4160.8 L356.2,4160.1 L360.4,4159.5 L364.7,4158.8 L369.0,4158.1 L373.3,4157.4 L377.6,4156.8 L381.8,4156.1 L386.1,4155.5 L390.4,4154.8 L394.7,4154.2 L399.0,4153.6 L403.2,4153.0 L407.5,4152.4 L411.8,4151.9 L416.1,4151.3 L420.4,4150.8 L424.7,4150.2 L428.9,4149.7 L433.2,4149.2 L437.5,4148.7 L441.8,4148.3 L446.1,4147.8 L450.3,4147.4 L454.6,4147.0 L458.9,4146.6 L463.2,4146.3 L467.5,4145.9 L471.8,4145.6 L476.0,4145.3 L480.3,4145.1 L484.6,4144.8 L488.9,4144.6 L493.2,4144.4 L497.4,4144.2 L501.7,4144.0 L506.0,4143.9 L510.3,4143.8 L514.6,4143.7 L518.8,4143.6 L523.1,4143.6 L527.4,4143.6 L531.7,4143.6 L536.0,4143.6 L540.2,4143.7 L544.5,4143.8 L548.8,4143.9 L553.1,4144.0 L557.4,4144.2 L561.7,4144.4 L565.9,4144.6 L570.2,4144.8 L574.5,4145.1 L578.8,4145.3 L583.1,4145.6 L587.3,4145.9 L591.6,4146.3 L595.9,4146.6 L600.2,4147.0 L604.5,4147.4 L608.8,4147.8 L613.0,4148.3 L617.3,4148.7 L621.6,4149.2 L625.9,4149.7 L630.2,4150.2 L634.4,4150.8 L638.7,4151.3 L643.0,4151.9 L647.3,4152.4 L651.6,4153.0 L655.8,4153.6 L660.1,4154.2 L664.4,4154.8 L668.7,4155.5 L673.0,4156.1 L677.2,4156.8 L681.5,4157.4 L685.8,4158.1 L690.1,4158.8 L694.4,4159.5 L698.7,4160.1 L702.9,4160.8 L707.2,4161.5 L711.5,4162.2 L715.8,4162.9 L720.1,4163.7 L724.3,4164.4 L728.6,4165.1 L732.9,4165.8 L737.2,4166.5 L741.5,4167.2 L745.8,4167.9 L750.0,4168.6 L754.3,4169.3 L758.6,4170.0 L762.9,4170.7 L767.2,4171.4 L771.4,4172.1 L775.7,4172.8 L780.0,4173.5 L784.3,4174.2 L788.6,4174.8 L792.8,4175.5 L797.1,4176.2 L801.4,4176.8 L805.7,4177.5 L810.0,4178.1 L814.2,4178.7 L818.5,4179.3 L822.8,4179.9 L827.1,4180.5 L831.4,4181.1 L835.7,4181.7 L839.9,4182.3 L844.2,4182.8 L848.5,4183.4 L852.8,4183.9 L857.1,4184.4 L861.3,4184.9 L865.6,4185.4 L869.9,4185.9 L874.2,4186.4 L878.5,4186.9 L882.8,4187.4 L887.0,4187.8 L891.3,4188.2 L895.6,4188.7 L899.9,4189.1 L904.2,4189.5 L908.4,4189.9 L912.7,4190.3 L917.0,4190.6 L921.3,4191.0 L925.6,4191.4 L929.8,4191.7 L934.1,4192.0 L938.4,4192.4 L942.7,4192.7 L947.0,4193.0 L951.2,4193.3 L955.5,4193.6 L959.8,4193.8 L964.1,4194.1 L968.4,4194.4 L972.7,4194.6 L976.9,4194.8 L981.2,4195.1 L985.5,4195.3 L989.8,4195.5 L994.1,4195.7 L998.3,4195.9 L1002.6,4196.1 L1006.9,4196.3 L1011.2,4196.5 L1015.5,4196.6 L1019.8,4196.8 L1024.0,4197.0 L1028.3,4197.1 L1032.6,4197.3 L1036.9,4197.4 L1041.2,4197.5 L1045.4,4197.6 L1049.7,4197.8 L1054.0,4197.9 L1058.3,4198.0 L1062.6,4198.1 L1066.8,4198.2 L1071.1,4198.3 L1075.4,4198.4 L1079.7,4198.5 L1084.0,4198.6 L1088.2,4198.6 L1092.5,4198.7 L1096.8,4198.8 L1101.1,4198.9 L1105.4,4198.9 L1109.7,4199.0 L1113.9,4199.0 L1118.2,4199.1 L1122.5,4199.1 L1126.8,4199.2 L1131.1,4199.2 L1135.3,4199.3 L1139.6,4199.3 L1143.9,4199.4 L1148.2,4199.4 L1152.5,4199.4 L1156.8,4199.5 L1161.0,4199.5 L1165.3,4199.5 L1169.6,4199.6 L1173.9,4199.6 L1178.2,4199.6 L1182.4,4199.6 L1186.7,4199.7 L1191.0,4199.7 L1195.3,4199.7 L1199.6,4199.7 L1203.8,4199.7 L1208.1,4199.8 L1212.4,4199.8 L1216.7,4199.8 L1221.0,4199.8 L1225.2,4199.8 L1229.5,4199.8 L1233.8,4199.8 L1238.1,4199.9 L1242.4,4199.9 L1246.7,4199.9 L1250.9,4199.9 L1255.2,4199.9 L1259.5,4199.9 L1263.8,4199.9 L1268.1,4199.9 L1272.3,4199.9 L1276.6,4199.9 L1280.9,4199.9 L1285.2,4199.9 L1289.5,4199.9 L1293.8,4199.9 L1298.0,4200.0 L1302.3,4200.0 L1306.6,4200.0 L1310.9,4200.0 L1315.2,4200.0 L1319.4,4200.0 L1323.7,4200.0 L1328.0,4200.0 L1332.3,4200.0 L1336.6,4200.0 L1340.8,4200.0 L1345.1,4200.0 L1349.4,4200.0 L1353.7,4200.0 L1358.0,4200.0 L1362.2,4200.0 L1366.5,4200.0 L1370.8,4200.0 L1375.1,4200.0 L1379.4,4200.0 L1383.7,4200.0 L1387.9,4200.0 L1392.2,4200.0 L1396.5,4200.0 L1400.8,4200.0 L1405.1,4200.0 L1409.3,4200.0 L1413.6,4200.0 L1417.9,4200.0 L1422.2,4200.0 L1426.5,4200.0 L1430.8,4200.0 L1435.0,4200.0 L1439.3,4200.0 L1443.6,4200.0 L1447.9,4200.0 L1452.2,4200.0 L1456.4,4200.0 L1460.7,4200.0 L1465.0,4200.0 L1469.3,4200.0 L1473.6,4200.0 L1477.8,4200.0 L1482.1,4200.0 L1486.4,4200.0 L1490.7,4200.0 L1495.0,4200.0 L1499.2,4200.0 L1503.5,4200.0 L1507.8,4200.0 L1512.1,4200.0 L1516.4,4200.0 L1520.7,4200.0 L1524.9,4200.0 L1529.2,4200.0 L1533.5,4200.0 L1537.8,4200.0 L1542.1,4200.0 L1546.3,4200.0 L1550.6,4200.0 L1554.9,4200.0 L1559.2,4200.0 L1563.5,4200.0 L1567.8,4200.0 L1572.0,4200.0 L1576.3,4200.0 L1580.6,4200.0 L1584.9,4200.0 L1589.2,4200.0 L1593.4,4200.0 L1597.7,4200.0 L1602.0,4200.0 L1606.3,4200.0 L1610.6,4200.0 L1614.8,4200.0 L1619.1,4200.0 L1623.4,4200.0 L1627.7,4200.0 L1632.0,4200.0 L1636.2,4200.0 L1640.5,4200.0 L1644.8,4200.0 L1649.1,4200.0 L1653.4,4200.0 L1657.7,4200.0 L1661.9,4200.0 L1666.2,4200.0 L1670.5,4200.0 L1674.8,4200.0 L1679.1,4200.0 L1683.3,4200.0 L1687.6,4200.0 L1691.9,4200.0 L1696.2,4200.0 L1700.5,4200.0 L1704.8,4200.0 L1709.0,4200.0 L1713.3,4200.0 L1717.6,4200.0 L1721.9,4200.0 L1726.2,4200.0 L1730.4,4200.0 L1734.7,4200.0 L1739.0,4200.0 L1743.3,4200.0 L1747.6,4200.0 L1751.8,4200.0 L1756.1,4200.0 L1760.4,4200.0 L1764.7,4200.0 L1769.0,4200.0 L1773.2,4200.0 L1777.5,4200.0 L1781.8,4200.0 L1786.1,4200.0 L1790.4,4200.0 L1794.7,4200.0 L1798.9,4200.0 L1803.2,4200.0 L1807.5,4200.0 L1811.8,4200.0 L1816.1,4200.0 L1820.3,4200.0 L1824.6,4200.0 L1828.9,4200.0 L1833.2,4200.0 L1837.5,4200.0 L1841.8,4200.0 L1846.0,4200.0 L1850.3,4200.0 L1854.6,4200.0 L1858.9,4200.0 L1863.2,4200.0 L1867.4,4200.0 L1871.7,4200.0 L1876.0,4200.0 L1880.3,4200.0 L1884.6,4200.0 L1888.8,4200.0 L1893.1,4200.0 L1897.4,4200.0 L1901.7,4200.0 L1906.0,4200.0 L1910.2,4200.0 L1914.5,4200.0 L1918.8,4200.0 L1923.1,4200.0 L1927.4,4200.0 L1931.7,4200.0 L1935.9,4200.0 L1940.2,4200.0 L1944.5,4200.0 L1948.8,4200.0 L1953.1,4200.0 L1957.3,4200.0 L1961.6,4200.0 L1965.9,4200.0 L1970.2,4200.0 L1974.5,4200.0 L1978.8,4200.0 L1983.0,4200.0 L1987.3,4200.0 L1991.6,4200.0 L1995.9,4200.0 L2000.2,4200.0 L2004.4,4200.0 L2008.7,4200.0 L2013.0,4200.0" stroke="#ff0000" stroke-width="5.6"/>
<path d="M300.5,4200.0 L304.8,4200.0 L309.1,4200.0 L313.3,4200.0 L317.6,4200.0 L321.9,4200.0 L326.2,4199.9 L330.5,4199.9 L334.8,4199.9 L339.0,4199.9 L343.3,4199.9 L347.6,4199.9 L351.9,4199.9 L356.2,4199.9 L360.4,4199.9 L364.7,4199.9 L369.0,4199.9 L373.3,4199.9 L377.6,4199.9 L381.8,4199.8 L386.1,4199.8 L390.4,4199.8 L394.7,4199.8 L399.0,4199.8 L403.2,4199.8 L407.5,4199.7 L411.8,4199.7 L416.1,4199.7 L420.4,4199.7 L424.7,4199.6 L428.9,4199.6 L433.2,4199.6 L437.5,4199.6 L441.8,4199.5 L446.1,4199.5 L450.3,4199.4 L454.6,4199.4 L458.9,4199.4 L463.2,4199.3 L467.5,4199.3 L471.8,4199.2 L476.0,4199.1 L480.3,4199.1 L484.6,4199.0 L488.9,4198.9 L493.2,4198.9 L497.4,4198.8 L501.7,4198.7 L506.0,4198.6 L510.3,4198.5 L514.6,4198.4 L518.8,4198.3 L523.1,4198.2 L527.4,4198.1 L531.7,4197.9 L536.0,4197.8 L540.2,4197.7 L544.5,4197.5 L548.8,4197.4 L553.1,4197.2 L557.4,4197.0 L561.7,4196.8 L565.9,4196.6 L570.2,4196.4 L574.5,4196.2 L578.8,4196.0 L583.1,4195.7 L587.3,4195.5 L591.6,4195.2 L595.9,4194.9 L600.2,4194.6 L604.5,4194.3 L608.8,4194.0 L613.0,4193.6 L617.3,4193.3 L621.6,4192.9 L625.9,4192.5 L630.2,4192.1 L634.4,4191.7 L638.7,4191.2 L643.0,4190.7 L647.3,4190.3 L651.6,4189.7 L655.8,4189.2 L660.1,4188.7 L664.4,4188.1 L668.7,4187.5 L673.0,4186.9 L677.2,4186.2 L681.5,4185.5 L685.8,4184.8 L690.1,4184.1 L694.4,4183.4 L698.7,4182.6 L702.9,4181.8 L707.2,4181.0 L711.5,4180.1 L715.8,4179.2 L720.1,4178.3 L724.3,4177.4 L728.6,4176.4 L732.9,4175.4 L737.2,4174.3 L741.5,4173.3 L745.8,4172.2 L750.0,4171.0 L754.3,4169.9 L758.6,4168.7 L762.9,4167.4 L767.2,4166.2 L771.4,4164.9 L775.7,4163.6 L780.0,4162.2 L784.3,4160.8 L788.6,4159.4 L792.8,4158.0 L797.1,4156.5 L801.4,4155.0 L805.7,4153.4 L810.0,4151.9 L814.2,4150.3 L818.5,4148.7 L822.8,4147.0 L827.1,4145.3 L831.4,4143.6 L835.7,4141.9 L839.9,4140.2 L844.2,4138.4 L848.5,4136.6 L852.8,4134.8 L857.1,4132.9 L861.3,4131.1 L865.6,4129.2 L869.9,4127.3 L874.2,4125.4 L878.5,4123.5 L882.8,4121.6 L887.0,4119.6 L891.3,4117.7 L895.6,4115.7 L899.9,4113.8 L904.2,4111.8 L908.4,4109.9 L912.7,4107.9 L917.0,4105.9 L921.3,4104.0 L925.6,4102.1 L929.8,4100.1 L934.1,4098.2 L938.4,4096.3 L942.7,4094.4 L947.0,4092.5 L951.2,4090.6 L955.5,4088.8 L959.8,4087.0 L964.1,4085.2 L968.4,4083.4 L972.7,4081.7 L976.9,4080.0 L981.2,4078.4 L985.5,4076.7 L989.8,4075.1 L994.1,4073.6 L998.3,4072.1 L1002.6,4070.6 L1006.9,4069.2 L1011.2,4067.9 L1015.5,4066.5 L1019.8,4065.3 L1024.0,4064.1 L1028.3,4062.9 L1032.6,4061.8 L1036.9,4060.8 L1041.2,4059.8 L1045.4,4058.9 L1049.7,4058.0 L1054.0,4057.2 L1058.3,4056.5 L1062.6,4055.8 L1066.8,4055.3 L1071.1,4054.7 L1075.4,4054.3 L1079.7,4053.9 L1084.0,4053.6 L1088.2,4053.3 L1092.5,4053.1 L1096.8,4053.0 L1101.1,4053.0 L1105.4,4053.0 L1109.7,4053.1 L1113.9,4053.3 L1118.2,4053.6 L1122.5,4053.9 L1126.8,4054.3 L1131.1,4054.7 L1135.3,4055.3 L1139.6,4055.8 L1143.9,4056.5 L1148.2,4057.2 L1152.5,4058.0 L1156.8,4058.9 L1161.0,4059.8 L1165.3,4060.8 L1169.6,4061.8 L1173.9,4062.9 L1178.2,4064.1 L1182.4,4065.3 L1186.7,4066.5 L1191.0,4067.9 L1195.3,4069.2 L1199.6,4070.6 L1203.8,4072.1 L1208.1,4073.6 L1212.4,4075.1 L1216.7,4076.7 L1221.0,4078.4 L1225.2,4080.0 L1229.5,4081.7 L1233.8,4083.4 L1238.1,4085.2 L1242.4,4087.0 L1246.7,4088.8 L1250.9,4090.6 L1255.2,4092.5 L1259.5,4094.4 L1263.8,4096.3 L1268.1,4098.2 L1272.3,4100.1 L1276.6,4102.1 L1280.9,4104.0 L1285.2,4105.9 L1289.5,4107.9 L1293.8,4109.9 L1298.0,4111.8 L1302.3,4113.8 L1306.6,4115.7 L1310.9,4117.7 L1315.2,4119.6 L1319.4,4121.6 L1323.7,4123.5 L1328.0,4125.4 L1332.3,4127.3 L1336.6,4129.2 L1340.8,4131.1 L1345.1,4132.9 L1349.4,4134.8 L1353.7,4136.6 L1358.0,4138.4 L1362.2,4140.2 L1366.5,4141.9 L1370.8,4143.6 L1375.1,4145.3 L1379.4,4147.0 L1383.7,4148.7 L1387.9,4150.3 L1392.2,4151.9 L1396.5,4153.4 L1400.8,4155.0 L1405.1,4156.5 L1409.3,4158.0 L1413.6,4159.4 L1417.9,4160.8 L1422.2,4162.2 L1426.5,4163.6 L1430.8,4164.9 L1435.0,4166.2 L1439.3,4167.4 L1443.6,4168.7 L1447.9,4169.9 L1452.2,4171.0 L1456.4,4172.2 L1460.7,4173.3 L1465.0,4174.3 L1469.3,4175.4 L1473.6,4176.4 L1477.8,4177.4 L1482.1,4178.3 L1486.4,4179.2 L1490.7,4180.1 L1495.0,4181.0 L1499.2,4181.8 L1503.5,4182.6 L1507.8,4183.4 L1512.1,4184.1 L1516.4,4184.8 L1520.7,4185.5 L1524.9,4186.2 L1529.2,4186.9 L1533.5,4187.5 L1537.8,4188.1 L1542.1,4188.7 L1546.3,4189.2 L1550.6,4189.7 L1554.9,4190.3 L1559.2,4190.7 L1563.5,4191.2 L1567.8,4191.7 L1572.0,4192.1 L1576.3,4192.5 L1580.6,4192.9 L1584.9,4193.3 L1589.2,4193.6 L1593.4,4194.0 L1597.7,4194.3 L1602.0,4194.6 L1606.3,4194.9 L1610.6,4195.2 L1614.8,4195.5 L1619.1,4195.7 L1623.4,4196.0 L1627.7,4196.2 L1632.0,4196.4 L1636.2,4196.6 L1640.5,4196.8 L1644.8,4197.0 L1649.1,4197.2 L1653.4,4197.4 L1657.7,4197.5 L1661.9,4197.7 L1666.2,4197.8 L1670.5,4197.9 L1674.8,4198.1 L1679.1,4198.2 L1683.3,4198.3 L1687.6,4198.4 L1691.9,4198.5 L1696.2,4198.6 L1700.5,4198.7 L1704.8,4198.8 L1709.0,4198.9 L1713.3,4198.9 L1717.6,4199.0 L1721.9,4199.1 L1726.2,4199.1 L1730.4,4199.2 L1734.7,4199.3 L1739.0,4199.3 L1743.3,4199.4 L1747.6,4199.4 L1751.8,4199.4 L1756.1,4199.5 L1760.4,4199.5 L1764.7,4199.6 L1769.0,4199.6 L1773.2,4199.6 L1777.5,4199.6 L1781.8,4199.7 L1786.1,4199.7 L1790.4,4199.7 L1794.7,4199.7 L1798.9,4199.8 L1803.2,4199.8 L1807.5,4199.8 L1811.8,4199.8 L1816.1,4199.8 L1820.3,4199.8 L1824.6,4199.9 L1828.9,4199.9 L1833.2,4199.9 L1837.5,4199.9 L1841.8,4199.9 L1846.0,4199.9 L1850.3,4199.9 L1854.6,4199.9 L1858.9,4199.9 L1863.2,4199.9 L1867.4,4199.9 L1871.7,4199.9 L1876.0,4199.9 L1880.3,4200.0 L1884.6,4200.0 L1888.8,4200.0 L1893.1,4200.0 L1897.4,4200.0 L1901.7,4200.0 L1906.0,4200.0 L1910.2,4200.0 L1914.5,4200.0 L1918.8,4200.0 L1923.1,4200.0 L1927.4,4200.0 L1931.7,4200.0 L1935.9,4200.0 L1940.2,4200.0 L1944.5,4200.0 L1948.8,4200.0 L1953.1,4200.0 L1957.3,4200.0 L1961.6,4200.0 L1965.9,4200.0 L1970.2,4200.0 L1974.5,4200.0 L1978.8,4200.0 L1983.0,4200.0 L1987.3,4200.0 L1991.6,4200.0 L1995.9,4200.0 L2000.2,4200.0 L2004.4,4200.0 L2008.7,4200.0 L2013.0,4200.0" stroke="#00ff00" stroke-width="5.6"/>
<path d="M300.5,4200.0 L304.8,4200.0 L309.1,4200.0 L313.3,4200.0 L317.6,4200.0 L321.9,4200.0 L326.2,4200.0 L330.5,4200.0 L334.8,4200.0 L339.0,4200.0 L343.3,4200.0 L347.6,4200.0 L351.9,4200.0 L356.2,4200.0 L360.4,4200.0 L364.7,4200.0 L369.0,4200.0 L373.3,4200.0 L377.6,4200.0 L381.8,4200.0 L386.1,4200.0 L390.4,4200.0 L394.7,4200.0 L399.0,4200.0 L403.2,4200.0 L407.5,4200.0 L411.8,4200.0 L416.1,4200.0 L420.4,4200.0 L424.7,4200.0 L428.9,4200.0 L433.2,4200.0 L437.5,4200.0 L441.8,4200.0 L446.1,4200.0 L450.3,4200.0 L454.6,4200.0 L458.9,4200.0 L463.2,4200.0 L467.5,4200.0 L471.8,4200.0 L476.0,4200.0 L480.3,4200.0 L484.6,4200.0 L488.9,4200.0 L493.2,4200.0 L497.4,4200.0 L501.7,4200.0 L506.0,4200.0 L510.3,4200.0 L514.6,4200.0 L518.8,4200.0 L523.1,4200.0 L527.4,4200.0 L531.7,4200.0 L536.0,4200.0 L540.2,4200.0 L544.5,4200.0 L548.8,4200.0 L553.1,4200.0 L557.4,4200.0 L561.7,4200.0 L565.9,4200.0 L570.2,4200.0 L574.5,4200.0 L578.8,4200.0 L583.1,4200.0 L587.3,4200.0 L591.6,4200.0 L595.9,4200.0 L600.2,4200.0 L604.5,4200.0 L608.8,4200.0 L613.0,4200.0 L617.3,4200.0 L621.6,4200.0 L625.9,4200.0 L630.2,4200.0 L634.4,4200.0 L638.7,4200.0 L643.0,4200.0 L647.3,4200.0 L651.6,4200.0 L655.8,4200.0 L660.1,4200.0 L664.4,4200.0 L668.7,4200.0 L673.0,4200.0 L677.2,4200.0 L681.5,4200.0 L685.8,4200.0 L690.1,4200.0 L694.4,4200.0 L698.7,4200.0 L702.9,4200.0 L707.2,4200.0 L711.5,4200.0 L715.8,4200.0 L720.1,4200.0 L724.3,4200.0 L728.6,4200.0 L732.9,4200.0 L737.2,4200.0 L741.5,4199.9 L745.8,4199.9 L750.0,4199.9 L754.3,4199.9 L758.6,4199.9 L762.9,4199.9 L767.2,4199.9 L771.4,4199.9 L775.7,4199.8 L780.0,4199.8 L784.3,4199.8 L788.6,4199.8 L792.8,4199.7 L797.1,4199.7 L801.4,4199.7 L805.7,4199.6 L810.0,4199.6 L814.2,4199.5 L818.5,4199.5 L822.8,4199.4 L827.1,4199.3 L831.4,4199.3 L835.7,4199.2 L839.9,4199.1 L844.2,4199.0 L848.5,4198.8 L852.8,4198.7 L857.1,4198.6 L861.3,4198.4 L865.6,4198.2 L869.9,4198.0 L874.2,4197.8 L878.5,4197.6 L882.8,4197.3 L887.0,4197.0 L891.3,4196.7 L895.6,4196.4 L899.9,4196.0 L904.2,4195.6 L908.4,4195.1 L912.7,4194.6 L917.0,4194.1 L921.3,4193.5 L925.6,4192.9 L929.8,4192.2 L934.1,4191.5 L938.4,4190.6 L942.7,4189.8 L947.0,4188.8 L951.2,4187.8 L955.5,4186.7 L959.8,4185.5 L964.1,4184.2 L968.4,4182.9 L972.7,4181.4 L976.9,4179.8 L981.2,4178.1 L985.5,4176.3 L989.8,4174.4 L994.1,4172.3 L998.3,4170.1 L1002.6,4167.7 L1006.9,4165.2 L1011.2,4162.6 L1015.5,4159.7 L1019.8,4156.7 L1024.0,4153.5 L1028.3,4150.2 L1032.6,4146.6 L1036.9,4142.8 L1041.2,4138.9 L1045.4,4134.7 L1049.7,4130.3 L1054.0,4125.6 L1058.3,4120.8 L1062.6,4115.7 L1066.8,4110.3 L1071.1,4104.8 L1075.4,4098.9 L1079.7,4092.8 L1084.0,4086.5 L1088.2,4079.8 L1092.5,4073.0 L1096.8,4065.8 L1101.1,4058.4 L1105.4,4050.7 L1109.7,4042.8 L1113.9,4034.6 L1118.2,4026.1 L1122.5,4017.4 L1126.8,4008.4 L1131.1,3999.1 L1135.3,3989.7 L1139.6,3980.0 L1143.9,3970.0 L1148.2,3959.9 L1152.5,3949.5 L1156.8,3938.9 L1161.0,3928.2 L1165.3,3917.2 L1169.6,3906.2 L1173.9,3894.9 L1178.2,3883.6 L1182.4,3872.1 L1186.7,3860.6 L1191.0,3849.0 L1195.3,3837.3 L1199.6,3825.6 L1203.8,3813.9 L1208.1,3802.3 L1212.4,3790.6 L1216.7,3779.0 L1221.0,3767.5 L1225.2,3756.2 L1229.5,3744.9 L1233.8,3733.8 L1238.1,3722.9 L1242.4,3712.3 L1246.7,3701.8 L1250.9,3691.6 L1255.2,3681.8 L1259.5,3672.2 L1263.8,3662.9 L1268.1,3654.1 L1272.3,3645.6 L1276.6,3637.5 L1280.9,3629.8 L1285.2,3622.6 L1289.5,3615.9 L1293.8,3609.7 L1298.0,3603.9 L1302.3,3598.7 L1306.6,3594.0 L1310.9,3589.9 L1315.2,3586.3 L1319.4,3583.3 L1323.7,3580.9 L1328.0,3579.0 L1332.3,3577.8 L1336.6,3577.1 L1340.8,3577.0 L1345.1,3577.6 L1349.4,3578.7 L1353.7,3580.4 L1358.0,3582.8 L1362.2,3585.6 L1366.5,3589.1 L1370.8,3593.1 L1375.1,3597.7 L1379.4,3602.8 L1383.7,3608.5 L1387.9,3614.6 L1392.2,3621.3 L1396.5,3628.4 L1400.8,3635.9 L1405.1,3643.9 L1409.3,3652.3 L1413.6,3661.1 L1417.9,3670.3 L1422.2,3679.8 L1426.5,3689.6 L1430.8,3699.8 L1435.0,3710.2 L1439.3,3720.8 L1443.6,3731.6 L1447.9,3742.7 L1452.2,3753.9 L1456.4,3765.3 L1460.7,3776.7 L1465.0,3788.3 L1469.3,3799.9 L1473.6,3811.6 L1477.8,3823.3 L1482.1,3835.0 L1486.4,3846.7 L1490.7,3858.3 L1495.0,3869.8 L1499.2,3881.3 L1503.5,3892.7 L1507.8,3903.9 L1512.1,3915.0 L1516.4,3926.0 L1520.7,3936.8 L1524.9,3947.4 L1529.2,3957.8 L1533.5,3968.0 L1537.8,3978.0 L1542.1,3987.7 L1546.3,3997.3 L1550.6,4006.6 L1554.9,4015.6 L1559.2,4024.4 L1563.5,4032.9 L1567.8,4041.2 L1572.0,4049.2 L1576.3,4056.9 L1580.6,4064.4 L1584.9,4071.6 L1589.2,4078.5 L1593.4,4085.2 L1597.7,4091.6 L1602.0,4097.7 L1606.3,4103.6 L1610.6,4109.2 L1614.8,4114.6 L1619.1,4119.8 L1623.4,4124.7 L1627.7,4129.4 L1632.0,4133.8 L1636.2,4138.1 L1640.5,4142.1 L1644.8,4145.9 L1649.1,4149.5 L1653.4,4152.9 L1657.7,4156.1 L1661.9,4159.1 L1666.2,4162.0 L1670.5,4164.7 L1674.8,4167.3 L1679.1,4169.6 L1683.3,4171.9 L1687.6,4174.0 L1691.9,4175.9 L1696.2,4177.8 L1700.5,4179.5 L1704.8,4181.1 L1709.0,4182.6 L1713.3,4184.0 L1717.6,4185.3 L1721.9,4186.5 L1726.2,4187.6 L1730.4,4188.6 L1734.7,4189.6 L1739.0,4190.5 L1743.3,4191.3 L1747.6,4192.1 L1751.8,4192.8 L1756.1,4193.4 L1760.4,4194.0 L1764.7,4194.5 L1769.0,4195.0 L1773.2,4195.5 L1777.5,4195.9 L1781.8,4196.3 L1786.1,4196.6 L1790.4,4197.0 L1794.7,4197.3 L1798.9,4197.5 L1803.2,4197.8 L1807.5,4198.0 L1811.8,4198.2 L1816.1,4198.4 L1820.3,4198.5 L1824.6,4198.7 L1828.9,4198.8 L1833.2,4198.9 L1837.5,4199.1 L1841.8,4199.2 L1846.0,4199.2 L1850.3,4199.3 L1854.6,4199.4 L1858.9,4199.5 L1863.2,4199.5 L1867.4,4199.6 L1871.7,4199.6 L1876.0,4199.7 L1880.3,4199.7 L1884.6,4199.7 L1888.8,4199.8 L1893.1,4199.8 L1897.4,4199.8 L1901.7,4199.8 L1906.0,4199.9 L1910.2,4199.9 L1914.5,4199.9 L1918.8,4199.9 L1923.1,4199.9 L1927.4,4199.9 L1931.7,4199.9 L1935.9,4199.9 L1940.2,4200.0 L1944.5,4200.0 L1948.8,4200.0 L1953.1,4200.0 L1957.3,4200.0 L1961.6,4200.0 L1965.9,4200.0 L1970.2,4200.0 L1974.5,4200.0 L1978.8,4200.0 L1983.0,4200.0 L1987.3,4200.0 L1991.6,4200.0 L1995.9,4200.0 L2000.2,4200.0 L2004.4,4200.0 L2008.7,4200.0 L2013.0,4200.0" stroke="#0000ff" stroke-width="5.6"/>
<path d="M300.5,4200.0 L304.8,4200.0 L309.1,4200.0 L313.3,4200.0 L317.6,4200.0 L321.9,4200.0 L326.2,4200.0 L330.5,4200.0 L334.8,4200.0 L339.0,4200.0 L343.3,4200.0 L347.6,4200.0 L351.9,4200.0 L356.2,4200.0 L360.4,4200.0 L364.7,4200.0 L369.0,4200.0 L373.3,4200.0 L377.6,4200.0 L381.8,4200.0 L386.1,4200.0 L390.4,4200.0 L394.7,4200.0 L399.0,4200.0 L403.2,4200.0 L407.5,4200.0 L411.8,4200.0 L416.1,4200.0 L420.4,4200.0 L424.7,4200.0 L428.9,4200.0 L433.2,4200.0 L437.5,4200.0 L441.8,4200.0 L446.1,4200.0 L450.3,4200.0 L454.6,4200.0 L458.9,4200.0 L463.2,4200.0 L467.5,4200.0 L471.8,4200.0 L476.0,4200.0 L480.3,4200.0 L484.6,4200.0 L488.9,4200.0 L493.2,4200.0 L497.4,4200.0 L501.7,4200.0 L506.0,4200.0 L510.3,4200.0 L514.6,4200.0 L518.8,4200.0 L523.1,4200.0 L527.4,4200.0 L531.7,4200.0 L536.0,4200.0 L540.2,4200.0 L544.5,4200.0 L548.8,4200.0 L553.1,4200.0 L557.4,4200.0 L561.7,4200.0 L565.9,4200.0 L570.2,4200.0 L574.5,4200.0 L578.8,4200.0 L583.1,4200.0 L587.3,4200.0 L591.6,4200.0 L595.9,4200.0 L600.2,4200.0 L604.5,4200.0 L608.8,4200.0 L613.0,4200.0 L617.3,4200.0 L621.6,4200.0 L625.9,4200.0 L630.2,4200.0 L634.4,4200.0 L638.7,4200.0 L643.0,4200.0 L647.3,4200.0 L651.6,4200.0 L655.8,4200.0 L660.1,4200.0 L664.4,4200.0 L668.7,4200.0 L673.0,4200.0 L677.2,4200.0 L681.5,4200.0 L685.8,4200.0 L690.1,4200.0 L694.4,4200.0 L698.7,4200.0 L702.9,4200.0 L707.2,4200.0 L711.5,4200.0 L715.8,4200.0 L720.1,4200.0 L724.3,4200.0 L728.6,4200.0 L732.9,4200.0 L737.2,4200.0 L741.5,4200.0 L745.8,4200.0 L750.0,4200.0 L754.3,4200.0 L758.6,4200.0 L762.9,4200.0 L767.2,4200.0 L771.4,4200.0 L775.7,4200.0 L780.0,4200.0 L784.3,4200.0 L788.6,4200.0 L792.8,4200.0 L797.1,4200.0 L801.4,4200.0 L805.7,4200.0 L810.0,4200.0 L814.2,4200.0 L818.5,4200.0 L822.8,4200.0 L827.1,4200.0 L831.4,4200.0 L835.7,4200.0 L839.9,4200.0 L844.2,4200.0 L848.5,4200.0 L852.8,4200.0 L857.1,4200.0 L861.3,4200.0 L865.6,4200.0 L869.9,4200.0 L874.2,4200.0 L878.5,4200.0 L882.8,4200.0 L887.0,4200.0 L891.3,4200.0 L895.6,4200.0 L899.9,4200.0 L904.2,4200.0 L908.4,4200.0 L912.7,4200.0 L917.0,4200.0 L921.3,4200.0 L925.6,4200.0 L929.8,4200.0 L934.1,4200.0 L938.4,4200.0 L942.7,4200.0 L947.0,4200.0 L951.2,4200.0 L955.5,4200.0 L959.8,4200.0 L964.1,4200.0 L968.4,4200.0 L972.7,4200.0 L976.9,4200.0 L981.2,4200.0 L985.5,4200.0 L989.8,4200.0 L994.1,4200.0 L998.3,4200.0 L1002.6,4200.0 L1006.9,4200.0 L1011.2,4200.0 L1015.5,4200.0 L1019.8,4200.0 L1024.0,4200.0 L1028.3,4200.0 L1032.6,4200.0 L1036.9,4200.0 L1041.2,4200.0 L1045.4,4200.0 L1049.7,4199.9 L1054.0,4199.9 L1058.3,4199.9 L1062.6,4199.9 L1066.8,4199.9 L1071.1,4199.9 L1075.4,4199.9 L1079.7,4199.8 L1084.0,4199.8 L1088.2,4199.8 L1092.5,4199.7 L1096.8,4199.7 L1101.1,4199.6 L1105.4,4199.6 L1109.7,4199.5 L1113.9,4199.4 L1118.2,4199.4 L1122.5,4199.3 L1126.8,4199.2 L1131.1,4199.0 L1135.3,4198.9 L1139.6,4198.7 L1143.9,4198.5 L1148.2,4198.3 L1152.5,4198.1 L1156.8,4197.8 L1161.0,4197.5 L1165.3,4197.1 L1169.6,4196.7 L1173.9,4196.3 L1178.2,4195.8 L1182.4,4195.2 L1186.7,4194.6 L1191.0,4193.9 L1195.3,4193.1 L1199.6,4192.3 L1203.8,4191.3 L1208.1,4190.3 L1212.4,4189.1 L1216.7,4187.8 L1221.0,4186.4 L1225.2,4184.8 L1229.5,4183.0 L1233.8,4181.1 L1238.1,4179.0 L1242.4,4176.7 L1246.7,4174.2 L1250.9,4171.4 L1255.2,4168.5 L1259.5,4165.2 L1263.8,4161.7 L1268.1,4157.8 L1272.3,4153.7 L1276.6,4149.2 L1280.9,4144.3 L1285.2,4139.1 L1289.5,4133.5 L1293.8,4127.4 L1298.0,4121.0 L1302.3,4114.1 L1306.6,4106.7 L1310.9,4098.8 L1315.2,4090.4 L1319.4,4081.5 L1323.7,4072.0 L1328.0,4062.0 L1332.3,4051.4 L1336.6,4040.3 L1340.8,4028.5 L1345.1,4016.2 L1349.4,4003.2 L1353.7,3989.6 L1358.0,3975.4 L1362.2,3960.6 L1366.5,3945.2 L1370.8,3929.2 L1375.1,3912.6 L1379.4,3895.4 L1383.7,3877.6 L1387.9,3859.3 L1392.2,3840.5 L1396.5,3821.1 L1400.8,3801.3 L1405.1,3781.1 L1409.3,3760.5 L1413.6,3739.5 L1417.9,3718.2 L1422.2,3696.7 L1426.5,3674.9 L1430.8,3653.0 L1435.0,3631.0 L1439.3,3608.9 L1443.6,3586.9 L1447.9,3564.9 L1452.2,3543.2 L1456.4,3521.6 L1460.7,3500.4 L1465.0,3479.5 L1469.3,3459.0 L1473.6,3439.1 L1477.8,3419.8 L1482.1,3401.1 L1486.4,3383.1 L1490.7,3365.9 L1495.0,3349.6 L1499.2,3334.2 L1503.5,3319.8 L1507.8,3306.5 L1512.1,3294.2 L1516.4,3283.1 L1520.7,3273.2 L1524.9,3264.5 L1529.2,3257.1 L1533.5,3251.0 L1537.8,3246.2 L1542.1,3242.8 L1546.3,3240.7 L1550.6,3240.0 L1554.9,3240.7 L1559.2,3242.8 L1563.5,3246.2 L1567.8,3251.0 L1572.0,3257.1 L1576.3,3264.5 L1580.6,3273.2 L1584.9,3283.1 L1589.2,3294.2 L1593.4,3306.5 L1597.7,3319.8 L1602.0,3334.2 L1606.3,3349.6 L1610.6,3365.9 L1614.8,3383.1 L1619.1,3401.1 L1623.4,3419.8 L1627.7,3439.1 L1632.0,3459.0 L1636.2,3479.5 L1640.5,3500.4 L1644.8,3521.6 L1649.1,3543.2 L1653.4,3564.9 L1657.7,3586.9 L1661.9,3608.9 L1666.2,3631.0 L1670.5,3653.0 L1674.8,3674.9 L1679.1,3696.7 L1683.3,3718.2 L1687.6,3739.5 L1691.9,3760.5 L1696.2,3781.1 L1700.5,3801.3 L1704.8,3821.1 L1709.0,3840.5 L1713.3,3859.3 L1717.6,3877.6 L1721.9,3895.4 L1726.2,3912.6 L1730.4,3929.2 L1734.7,3945.2 L1739.0,3960.6 L1743.3,3975.4 L1747.6,3989.6 L1751.8,4003.2 L1756.1,4016.2 L1760.4,4028.5 L1764.7,4040.3 L1769.0,4051.4 L1773.2,4062.0 L1777.5,4072.0 L1781.8,4081.5 L1786.1,4090.4 L1790.4,4098.8 L1794.7,4106.7 L1798.9,4114.1 L1803.2,4121.0 L1807.5,4127.4 L1811.8,4133.5 L1816.1,4139.1 L1820.3,4144.3 L1824.6,4149.2 L1828.9,4153.7 L1833.2,4157.8 L1837.5,4161.7 L1841.8,4165.2" stroke="#00ffff" stroke-width="5.6"/>
</g>
<rect x="295.0" y="46.0" width="5.5" height="4184.0" fill="#808080"/>
<rect x="300.5" y="46.0" width="5.5" height="4184.0" fill="#999999"/>
<rect x="295.0" y="1420.0" width="11.0" height="44.0" fill="#333"/>
<rect x="295.0" y="2795.0" width="11.0" height="49.0" fill="#333"/>
<rect x="273.0" y="41.0" width="1743.0" height="5.0" fill="#ededed"/>
<rect x="273.0" y="46.0" width="1743.0" height="6.0" fill="#1e1e1e"/>
<rect x="2010.0" y="46.0" width="6.0" height="4184.0" fill="#1c1c1c"/>
<rect x="273.0" y="1426.0" width="22.0" height="5.5" fill="#555"/>
<rect x="273.0" y="1431.5" width="22.0" height="5.5" fill="#b0b0b0"/>
<rect x="306.0" y="1426.0" width="1704.0" height="5.5" fill="#444"/>
<rect x="306.0" y="1431.5" width="1704.0" height="5.5" fill="#5a2535"/>
<rect x="306.1" y="1426.0" width="165.7" height="5.5" fill="#24481f"/>
<rect x="471.8" y="1426.0" width="214.1" height="5.5" fill="#3a4a3a"/>
<rect x="899.9" y="1426.0" width="256.9" height="5.5" fill="#10104a"/>
<rect x="1156.8" y="1426.0" width="214.1" height="5.5" fill="#2a4a2a"/>
<rect x="1370.8" y="1431.5" width="299.7" height="5.5" fill="#2a2a2a"/>
<rect x="1542.1" y="1431.5" width="149.8" height="5.5" fill="#0a0a90"/>
<rect x="1691.9" y="1431.5" width="154.1" height="5.5" fill="#0a7090"/>
<rect x="1846.0" y="1431.5" width="162.7" height="5.5" fill="#1a1a1a"/>
<rect x="306.0" y="1437.0" width="1704.0" height="5.0" fill="#ededed"/>
<rect x="273.0" y="2806.0" width="22.0" height="5.5" fill="#c0c0c0"/>
<rect x="306.0" y="2806.0" width="1704.0" height="5.5" fill="#c8c8c8"/>
<rect x="273.0" y="2811.5" width="1743.0" height="5.5" fill="#1e1e1e"/>
<rect x="306.0" y="2817.0" width="1704.0" height="5.0" fill="#aaaaaa"/>
<rect x="306.1" y="2800.5" width="773.6" height="5.5" fill="#f01000"/>
<rect x="1079.7" y="2800.5" width="505.2" height="5.5" fill="#00ffff"/>
<rect x="1584.9" y="2800.5" width="308.2" height="5.5" fill="#00ff00"/>
<rect x="1893.1" y="2800.5" width="115.6" height="5.5" fill="#a02000"/>
<rect x="273.0" y="4197.5" width="22.0" height="5.5" fill="#111"/>
<rect x="306.1" y="4197.5" width="837.8" height="5.5" fill="#00ffff"/>
<rect x="1143.9" y="4197.5" width="441.0" height="5.5" fill="#ff0000"/>
<rect x="1584.9" y="4197.5" width="192.7" height="5.5" fill="#20d000"/>
<rect x="1777.5" y="4197.5" width="68.5" height="5.5" fill="#0030c0"/>
<rect x="1846.0" y="4194.0" width="162.7" height="9.0" fill="#050505"/>
<rect x="284.0" y="183.7" width="11.0" height="7.0" fill="#6e6e6e"/>
<rect x="295.0" y="183.7" width="11.0" height="7.0" fill="#5a5a5a"/>
<rect x="284.0" y="1571.0" width="11.0" height="7.0" fill="#6e6e6e"/>
<rect x="295.0" y="1571.0" width="11.0" height="7.0" fill="#5a5a5a"/>
<rect x="284.0" y="2949.1" width="11.0" height="7.0" fill="#6e6e6e"/>
<rect x="295.0" y="2949.1" width="11.0" height="7.0" fill="#5a5a5a"/>
<rect x="273.0" y="321.9" width="22.0" height="7.0" fill="#6e6e6e"/>
<rect x="295.0" y="321.9" width="11.0" height="7.0" fill="#5a5a5a"/>
<rect x="273.0" y="1714.0" width="22.0" height="7.0" fill="#6e6e6e"/>
<rect x="295.0" y="1714.0" width="11.0" height="7.0" fill="#5a5a5a"/>
<rect x="273.0" y="3087.7" width="22.0" height="7.0" fill="#6e6e6e"/>
<rect x="295.0" y="3087.7" width="11.0" height="7.0" fill="#5a5a5a"/>
<rect x="284.0" y="460.1" width="11.0" height="7.0" fill="#6e6e6e"/>
<rect x="295.0" y="460.1" width="11.0" height="7.0" fill="#5a5a5a"/>
<rect x="284.0" y="1857.0" width="11.0" height="7.0" fill="#6e6e6e"/>
<rect x="295.0" y="1857.0" width="11.0" height="7.0" fill="#5a5a5a"/>
<rect x="284.0" y="3226.3" width="11.0" height="7.0" fill="#6e6e6e"/>
<rect x="295.0" y="3226.3" width="11.0" height="7.0" fill="#5a5a5a"/>
<rect x="273.0" y="598.3" width="22.0" height="7.0" fill="#6e6e6e"/>
<rect x="295.0" y="598.3" width="11.0" height="7.0" fill="#5a5a5a"/>
<rect x="273.0" y="2000.0" width="22.0" height="7.0" fill="#6e6e6e"/>
<rect x="295.0" y="2000.0" width="11.0" height="7.0" fill="#5a5a5a"/>
<rect x="273.0" y="3364.9" width="22.0" height="7.0" fill="#6e6e6e"/>
<rect x="295.0" y="3364.9" width="11.0" height="7.0" fill="#5a5a5a"/>
<rect x="284.0" y="736.5" width="11.0" height="7.0" fill="#6e6e6e"/>
<rect x="295.0" y="736.5" width="11.0" height="7.0" fill="#5a5a5a"/>
<rect x="284.0" y="2143.0" width="11.0" height="7.0" fill="#6e6e6e"/>
<rect x="295.0" y="2143.0" width="11.0" height="7.0" fill="#5a5a5a"/>
<rect x="284.0" y="3503.5" width="11.0" height="7.0" fill="#6e6e6e"/>
<rect x="295.0" y="3503.5" width="11.0" height="7.0" fill="#5a5a5a"/>
<rect x="273.0" y="874.7" width="22.0" height="7.0" fill="#6e6e6e"/>
<rect x="295.0" y="874.7" width="11.0" height="7.0" fill="#5a5a5a"/>
<rect x="273.0" y="2286.0" width="22.0" height="7.0" fill="#6e6e6e"/>
<rect x="295.0" y="2286.0" width="11.0" height="7.0" fill="#5a5a5a"/>
<rect x="273.0" y="3642.1" width="22.0" height="7.0" fill="#6e6e6e"/>
<rect x="295.0" y="3642.1" width="11.0" height="7.0" fill="#5a5a5a"/>
<rect x="284.0" y="1012.9" width="11.0" height="7.0" fill="#6e6e6e"/>
<rect x="295.0" y="1012.9" width="11.0" height="7.0" fill="#5a5a5a"/>
<rect x="284.0" y="2429.0" width="11.0" height="7.0" fill="#6e6e6e"/>
<rect x="295.0" y="2429.0" width="11.0" height="7.0" fill="#5a5a5a"/>
<rect x="284.0" y="3780.7" width="11.0" height="7.0" fill="#6e6e6e"/>
<rect x="295.0" y="3780.7" width="11.0" height="7.0" fill="#5a5a5a"/>
<rect x="273.0" y="1151.1" width="22.0" height="7.0" fill="#6e6e6e"/>
<rect x="295.0" y="1151.1" width="11.0" height="7.0" fill="#5a5a5a"/>
<rect x="273.0" y="2572.0" width="22.0" height="7.0" fill="#6e6e6e"/>
<rect x="295.0" y="2572.0" width="11.0" height="7.0" fill="#5a5a5a"/>
<rect x="273.0" y="3919.3" width="22.0" height="7.0" fill="#6e6e6e"/>
<rect x="295.0" y="3919.3" width="11.0" height="7.0" fill="#5a5a5a"/>
<rect x="284.0" y="1289.3" width="11.0" height="7.0" fill="#6e6e6e"/>
<rect x="295.0" y="1289.3" width="11.0" height="7.0" fill="#5a5a5a"/>
<rect x="284.0" y="2715.0" width="11.0" height="7.0" fill="#6e6e6e"/>
<rect x="295.0" y="2715.0" width="11.0" height="7.0" fill="#5a5a5a"/>
<rect x="284.0" y="4057.9" width="11.0" height="7.0" fill="#6e6e6e"/>
<rect x="295.0" y="4057.9" width="11.0" height="7.0" fill="#5a5a5a"/>
<rect x="509.1" y="1406.0" width="5.5" height="54.0" fill="#5c5c5c"/>
<rect x="514.6" y="1406.0" width="5.5" height="54.0" fill="#9a9a9a"/>
<rect x="509.1" y="2788.0" width="5.5" height="56.0" fill="#5c5c5c"/>
<rect x="514.6" y="2788.0" width="5.5" height="56.0" fill="#9a9a9a"/>
<rect x="509.1" y="4203.0" width="5.5" height="27.0" fill="#5c5c5c"/>
<rect x="514.6" y="4203.0" width="5.5" height="27.0" fill="#9a9a9a"/>
<rect x="723.1" y="1406.0" width="5.5" height="54.0" fill="#5c5c5c"/>
<rect x="728.6" y="1406.0" width="5.5" height="54.0" fill="#9a9a9a"/>
<rect x="723.1" y="2788.0" width="5.5" height="56.0" fill="#5c5c5c"/>
<rect x="728.6" y="2788.0" width="5.5" height="56.0" fill="#9a9a9a"/>
<rect x="723.1" y="4203.0" width="5.5" height="27.0" fill="#5c5c5c"/>
<rect x="728.6" y="4203.0" width="5.5" height="27.0" fill="#9a9a9a"/>
<rect x="937.2" y="1406.0" width="5.5" height="54.0" fill="#5c5c5c"/>
<rect x="942.7" y="1406.0" width="5.5" height="54.0" fill="#9a9a9a"/>
<rect x="937.2" y="2788.0" width="5.5" height="56.0" fill="#5c5c5c"/>
<rect x="942.7" y="2788.0" width="5.5" height="56.0" fill="#9a9a9a"/>
<rect x="937.2" y="4203.0" width="5.5" height="27.0" fill="#5c5c5c"/>
<rect x="942.7" y="4203.0" width="5.5" height="27.0" fill="#9a9a9a"/>
<rect x="1153.2" y="1406.0" width="6.0" height="54.0" fill="#1c1c1c"/>
<rect x="1153.2" y="2788.0" width="6.0" height="56.0" fill="#1c1c1c"/>
<rect x="1153.2" y="4203.0" width="6.0" height="27.0" fill="#1c1c1c"/>
<rect x="1367.3" y="1406.0" width="6.0" height="54.0" fill="#1c1c1c"/>
<rect x="1367.3" y="2788.0" width="6.0" height="56.0" fill="#1c1c1c"/>
<rect x="1367.3" y="4203.0" width="6.0" height="27.0" fill="#1c1c1c"/>
<rect x="1581.4" y="1406.0" width="6.0" height="54.0" fill="#1c1c1c"/>
<rect x="1581.4" y="2788.0" width="6.0" height="56.0" fill="#1c1c1c"/>
<rect x="1581.4" y="4203.0" width="6.0" height="27.0" fill="#1c1c1c"/>
<rect x="1795.4" y="1406.0" width="6.0" height="54.0" fill="#1c1c1c"/>
<rect x="1795.4" y="2788.0" width="6.0" height="56.0" fill="#1c1c1c"/>
<rect x="1795.4" y="4203.0" width="6.0" height="27.0" fill="#1c1c1c"/>
<g fill="none" stroke-linejoin="round" stroke-linecap="butt">
<path d="M300.5,1406.8 L304.8,1405.9 L309.1,1405.1 L313.3,1404.2 L317.6,1403.2 L321.9,1402.3 L326.2,1401.3 L330.5,1400.2 L334.8,1399.2 L339.0,1398.1 L343.3,1397.1 L347.6,1396.0 L351.9,1394.9 L356.2,1393.7 L360.4,1392.6 L364.7,1391.4 L369.0,1390.2 L373.3,1389.0 L377.6,1387.8 L381.8,1386.6 L386.1,1385.4 L390.4,1384.1 L394.7,1382.9 L399.0,1381.7 L403.2,1380.4 L407.5,1379.3 L411.8,1378.1 L416.1,1376.9 L420.4,1375.8 L424.7,1374.6 L428.9,1373.5 L433.2,1372.4 L437.5,1371.3 L441.8,1370.2 L446.1,1369.1 L450.3,1367.9 L454.6,1366.8 L458.9,1365.7 L463.2,1364.6 L467.5,1363.5 L471.8,1362.4 L476.0,1361.3 L480.3,1360.2 L484.6,1359.2 L488.9,1358.1 L493.2,1357.1 L497.4,1356.0 L501.7,1355.0 L506.0,1353.9 L510.3,1352.9 L514.6,1351.9 L518.8,1350.9 L523.1,1349.8 L527.4,1348.8 L531.7,1347.8 L536.0,1346.8 L540.2,1345.9 L544.5,1344.9 L548.8,1344.0 L553.1,1343.1 L557.4,1342.2 L561.7,1341.3 L565.9,1340.5 L570.2,1339.7 L574.5,1338.9 L578.8,1338.1 L583.1,1337.4 L587.3,1336.7 L591.6,1336.0 L595.9,1335.3 L600.2,1334.7 L604.5,1334.1 L608.8,1333.5 L613.0,1333.0 L617.3,1332.4 L621.6,1331.9 L625.9,1331.4 L630.2,1330.9 L634.4,1330.4 L638.7,1330.0 L643.0,1329.5 L647.3,1329.1 L651.6,1328.7 L655.8,1328.4 L660.1,1328.0 L664.4,1327.7 L668.7,1327.4 L673.0,1327.1 L677.2,1326.9 L681.5,1326.7 L685.8,1326.4 L690.1,1326.2 L694.4,1326.1 L698.7,1325.9 L702.9,1325.7 L707.2,1325.6 L711.5,1325.4 L715.8,1325.3 L720.1,1325.1 L724.3,1324.9 L728.6,1324.7 L732.9,1324.5 L737.2,1324.3 L741.5,1324.0 L745.8,1323.7 L750.0,1323.3 L754.3,1323.0 L758.6,1322.6 L762.9,1322.3 L767.2,1321.9 L771.4,1321.5 L775.7,1321.1 L780.0,1320.6 L784.3,1320.2 L788.6,1319.7 L792.8,1319.2 L797.1,1318.6 L801.4,1318.0 L805.7,1317.4 L810.0,1316.8 L814.2,1316.1 L818.5,1315.4 L822.8,1314.7 L827.1,1314.0 L831.4,1313.2 L835.7,1312.5 L839.9,1311.8 L844.2,1311.1 L848.5,1310.4 L852.8,1309.7 L857.1,1308.9 L861.3,1308.1 L865.6,1307.3 L869.9,1306.4 L874.2,1305.4 L878.5,1304.4 L882.8,1303.4 L887.0,1302.3 L891.3,1301.1 L895.6,1299.9 L899.9,1298.6 L904.2,1297.3 L908.4,1295.9 L912.7,1294.4 L917.0,1293.0 L921.3,1291.4 L925.6,1289.9 L929.8,1288.3 L934.1,1286.6 L938.4,1285.0 L942.7,1283.4 L947.0,1281.8 L951.2,1280.2 L955.5,1278.6 L959.8,1276.9 L964.1,1275.3 L968.4,1273.7 L972.7,1272.0 L976.9,1270.3 L981.2,1268.5 L985.5,1266.8 L989.8,1265.0 L994.1,1263.2 L998.3,1261.4 L1002.6,1259.5 L1006.9,1257.6 L1011.2,1255.7 L1015.5,1253.7 L1019.8,1251.6 L1024.0,1249.5 L1028.3,1247.3 L1032.6,1245.1 L1036.9,1242.8 L1041.2,1240.4 L1045.4,1238.0 L1049.7,1235.5 L1054.0,1232.9 L1058.3,1230.2 L1062.6,1227.4 L1066.8,1224.5 L1071.1,1221.6 L1075.4,1218.5 L1079.7,1215.4 L1084.0,1212.2 L1088.2,1208.9 L1092.5,1205.6 L1096.8,1202.1 L1101.1,1198.5 L1105.4,1194.8 L1109.7,1190.9 L1113.9,1186.9 L1118.2,1182.6 L1122.5,1178.1 L1126.8,1173.3 L1131.1,1168.3 L1135.3,1163.1 L1139.6,1157.6 L1143.9,1152.0 L1148.2,1146.3 L1152.5,1140.4 L1156.8,1134.5 L1161.0,1128.6 L1165.3,1122.6 L1169.6,1116.5 L1173.9,1110.3 L1178.2,1104.0 L1182.4,1097.4 L1186.7,1090.6 L1191.0,1083.6 L1195.3,1076.3 L1199.6,1068.7 L1203.8,1060.8 L1208.1,1052.7 L1212.4,1044.3 L1216.7,1035.5 L1221.0,1026.5 L1225.2,1017.3 L1229.5,1007.8 L1233.8,998.0 L1238.1,988.0 L1242.4,977.8 L1246.7,967.3 L1250.9,956.6 L1255.2,945.8 L1259.5,934.9 L1263.8,923.8 L1268.1,912.6 L1272.3,901.4 L1276.6,890.0 L1280.9,878.5 L1285.2,866.9 L1289.5,855.1 L1293.8,843.1 L1298.0,830.8 L1302.3,818.3 L1306.6,805.5 L1310.9,792.3 L1315.2,779.0 L1319.4,765.3 L1323.7,751.5 L1328.0,737.3 L1332.3,722.9 L1336.6,708.1 L1340.8,693.0 L1345.1,677.5 L1349.4,661.4 L1353.7,644.8 L1358.0,627.7 L1362.2,610.1 L1366.5,592.1 L1370.8,574.0 L1375.1,555.7 L1379.4,537.5 L1383.7,519.3 L1387.9,501.2 L1392.2,483.2 L1396.5,465.2 L1400.8,447.4 L1405.1,429.6 L1409.3,412.0 L1413.6,394.5 L1417.9,377.3 L1422.2,360.4 L1426.5,343.6 L1430.8,327.2 L1435.0,311.0 L1439.3,295.2 L1443.6,279.8 L1447.9,264.9 L1452.2,250.5 L1456.4,236.8 L1460.7,223.6 L1465.0,211.1 L1469.3,199.1 L1473.6,187.9 L1477.8,177.3 L1482.1,167.4 L1486.4,158.1 L1490.7,149.6 L1495.0,141.8 L1499.2,134.8 L1503.5,128.7 L1507.8,123.4 L1512.1,119.2 L1516.4,116.1 L1520.7,114.1 L1524.9,113.3 L1529.2,113.6 L1533.5,115.1 L1537.8,117.8 L1542.1,121.7 L1546.3,126.8 L1550.6,133.3 L1554.9,141.1 L1559.2,150.3 L1563.5,160.8 L1567.8,172.7 L1572.0,186.0 L1576.3,200.7 L1580.6,216.6 L1584.9,233.9 L1589.2,252.3 L1593.4,272.0 L1597.7,292.8 L1602.0,314.7 L1606.3,337.5 L1610.6,361.2 L1614.8,385.6 L1619.1,410.7 L1623.4,436.5 L1627.7,462.9 L1632.0,490.0 L1636.2,517.9 L1640.5,546.6 L1644.8,576.1 L1649.1,606.4 L1653.4,637.5 L1657.7,669.4 L1661.9,701.8 L1666.2,734.5 L1670.5,767.4 L1674.8,799.9 L1679.1,832.0 L1683.3,863.4 L1687.6,894.1 L1691.9,923.9 L1696.2,953.1 L1700.5,981.5 L1704.8,1009.1 L1709.0,1036.0 L1713.3,1062.0 L1717.6,1087.0 L1721.9,1110.9 L1726.2,1133.8 L1730.4,1155.6 L1734.7,1176.4 L1739.0,1196.2 L1743.3,1215.0 L1747.6,1232.8 L1751.8,1249.6 L1756.1,1265.6 L1760.4,1280.6 L1764.7,1294.7 L1769.0,1308.0 L1773.2,1320.4 L1777.5,1332.0 L1781.8,1342.6 L1786.1,1352.4 L1790.4,1361.4 L1794.7,1369.6 L1798.9,1376.9 L1803.2,1383.4 L1807.5,1389.3 L1811.8,1394.4 L1816.1,1398.8 L1820.3,1402.7 L1824.6,1406.1 L1828.9,1409.0 L1833.2,1411.6 L1837.5,1413.8 L1841.8,1415.8 L1846.0,1417.5 L1850.3,1419.0 L1854.6,1420.3 L1858.9,1421.3 L1863.2,1422.3 L1867.4,1423.1 L1871.7,1423.7 L1876.0,1424.3 L1880.3,1424.8 L1884.6,1425.3 L1888.8,1425.7 L1893.1,1426.1 L1897.4,1426.4 L1901.7,1426.7 L1906.0,1426.9 L1910.2,1427.1 L1914.5,1427.2 L1918.8,1427.3 L1923.1,1427.4 L1927.4,1427.5 L1931.7,1427.6 L1935.9,1427.7 L1940.2,1427.8 L1944.5,1427.9 L1948.8,1428.0 L1953.1,1428.1 L1957.3,1428.1 L1961.6,1428.2 L1965.9,1428.2 L1970.2,1428.3 L1974.5,1428.3 L1978.8,1428.3 L1983.0,1428.3 L1987.3,1428.3 L1991.6,1428.2 L1995.9,1428.2 L2000.2,1428.2 L2004.4,1428.2 L2008.7,1428.2 L2013.0,1428.2" stroke="#000" stroke-width="7.0"/>
<path d="M300.5,1409.3 L304.8,1408.4 L309.1,1407.6 L313.3,1406.7 L317.6,1405.7 L321.9,1404.8 L326.2,1403.8 L330.5,1402.7 L334.8,1401.7 L339.0,1400.6 L343.3,1399.6 L347.6,1398.5 L351.9,1397.4 L356.2,1396.2 L360.4,1395.1 L364.7,1393.9 L369.0,1392.7 L373.3,1391.5 L377.6,1390.3 L381.8,1389.1 L386.1,1387.9 L390.4,1386.6 L394.7,1385.4 L399.0,1384.2 L403.2,1382.9 L407.5,1381.8 L411.8,1380.6 L416.1,1379.4 L420.4,1378.3 L424.7,1377.1 L428.9,1376.0 L433.2,1374.9 L437.5,1373.8 L441.8,1372.7 L446.1,1371.6 L450.3,1370.4 L454.6,1369.3 L458.9,1368.2 L463.2,1367.1 L467.5,1366.0 L471.8,1364.9 L476.0,1363.8 L480.3,1362.7 L484.6,1361.7 L488.9,1360.6 L493.2,1359.6 L497.4,1358.5 L501.7,1357.5 L506.0,1356.4 L510.3,1355.4 L514.6,1354.4 L518.8,1353.4 L523.1,1352.3 L527.4,1351.3 L531.7,1350.3 L536.0,1349.3 L540.2,1348.4 L544.5,1347.4 L548.8,1346.5 L553.1,1345.6 L557.4,1344.7 L561.7,1343.8 L565.9,1343.0 L570.2,1342.2 L574.5,1341.4 L578.8,1340.6 L583.1,1339.9 L587.3,1339.2 L591.6,1338.5 L595.9,1337.8 L600.2,1337.2 L604.5,1336.6 L608.8,1336.0 L613.0,1335.5 L617.3,1334.9 L621.6,1334.4 L625.9,1333.9 L630.2,1333.4 L634.4,1332.9 L638.7,1332.5 L643.0,1332.0 L647.3,1331.6 L651.6,1331.2 L655.8,1330.9 L660.1,1330.5 L664.4,1330.2 L668.7,1329.9 L673.0,1329.6 L677.2,1329.4 L681.5,1329.2 L685.8,1328.9 L690.1,1328.7 L694.4,1328.6 L698.7,1328.4 L702.9,1328.2 L707.2,1328.1 L711.5,1327.9 L715.8,1327.8 L720.1,1327.6 L724.3,1327.4 L728.6,1327.2 L732.9,1327.0 L737.2,1326.8 L741.5,1326.5 L745.8,1326.2 L750.0,1325.8 L754.3,1325.5 L758.6,1325.1 L762.9,1324.8 L767.2,1324.4 L771.4,1324.0 L775.7,1323.6 L780.0,1323.1 L784.3,1322.7 L788.6,1322.2 L792.8,1321.7 L797.1,1321.1 L801.4,1320.5 L805.7,1319.9 L810.0,1319.3 L814.2,1318.6 L818.5,1317.9 L822.8,1317.2 L827.1,1316.5 L831.4,1315.7 L835.7,1315.0 L839.9,1314.3 L844.2,1313.6 L848.5,1312.9 L852.8,1312.2 L857.1,1311.4 L861.3,1310.6 L865.6,1309.8 L869.9,1308.9 L874.2,1307.9 L878.5,1306.9 L882.8,1305.9 L887.0,1304.8 L891.3,1303.6 L895.6,1302.4 L899.9,1301.1 L904.2,1299.8 L908.4,1298.4 L912.7,1296.9 L917.0,1295.5 L921.3,1293.9 L925.6,1292.4 L929.8,1290.8 L934.1,1289.1 L938.4,1287.5 L942.7,1285.9 L947.0,1284.3 L951.2,1282.7 L955.5,1281.1 L959.8,1279.4 L964.1,1277.8 L968.4,1276.2 L972.7,1274.5 L976.9,1272.8 L981.2,1271.0 L985.5,1269.3 L989.8,1267.5 L994.1,1265.7 L998.3,1263.9 L1002.6,1262.0 L1006.9,1260.1 L1011.2,1258.2 L1015.5,1255.9 L1019.8,1253.6 L1024.0,1251.2 L1028.3,1248.8 L1032.6,1246.3 L1036.9,1243.9 L1041.2,1241.4 L1045.4,1238.9 L1049.7,1236.4 L1054.0,1233.8 L1058.3,1231.2 L1062.6,1228.6 L1066.8,1225.9 L1071.1,1223.2 L1075.4,1220.4 L1079.7,1217.6 L1084.0,1214.7 L1088.2,1211.4 L1092.5,1208.1 L1096.8,1204.6 L1101.1,1201.0 L1105.4,1197.3 L1109.7,1193.4 L1113.9,1189.4 L1118.2,1185.1 L1122.5,1180.6 L1126.8,1175.8 L1131.1,1170.8 L1135.3,1165.6 L1139.6,1160.1 L1143.9,1154.5 L1148.2,1148.8 L1152.5,1142.9 L1156.8,1137.0 L1161.0,1131.1 L1165.3,1125.1 L1169.6,1119.0 L1173.9,1112.8 L1178.2,1106.5 L1182.4,1099.9 L1186.7,1093.1 L1191.0,1086.1 L1195.3,1078.9 L1199.6,1071.4 L1203.8,1063.7 L1208.1,1055.6 L1212.4,1047.3 L1216.7,1038.6 L1221.0,1029.7 L1225.2,1020.6 L1229.5,1011.2 L1233.8,1001.5 L1238.1,991.5 L1242.4,981.4 L1246.7,971.0 L1250.9,960.4 L1255.2,949.6 L1259.5,938.7 L1263.8,927.7 L1268.1,916.6 L1272.3,905.3 L1276.6,894.0 L1280.9,882.6 L1285.2,871.0 L1289.5,859.3 L1293.8,847.3 L1298.0,835.2 L1302.3,822.7 L1306.6,810.0 L1310.9,797.0 L1315.2,783.7 L1319.4,770.2 L1323.7,756.4 L1328.0,742.3 L1332.3,728.0 L1336.6,713.4 L1340.8,698.4 L1345.1,683.0 L1349.4,667.1 L1353.7,650.7 L1358.0,633.8 L1362.2,616.3 L1366.5,598.5 L1370.8,580.4 L1375.1,562.1 L1379.4,543.8 L1383.7,525.6 L1387.9,507.5 L1392.2,489.5 L1396.5,471.5 L1400.8,453.6 L1405.1,435.8 L1409.3,418.1 L1413.6,400.6 L1417.9,383.3 L1422.2,366.3 L1426.5,349.4 L1430.8,332.9 L1435.0,316.6 L1439.3,300.6 L1443.6,285.1 L1447.9,270.0 L1452.2,255.4 L1456.4,241.5 L1460.7,228.1 L1465.0,215.3 L1469.3,203.2 L1473.6,191.7 L1477.8,180.9 L1482.1,170.7 L1486.4,161.2 L1490.7,152.4 L1495.0,144.3 L1499.2,136.3 L1503.5,129.3 L1507.8,123.6 L1512.1,119.1 L1516.4,116.0 L1520.7,114.1 L1524.9,113.7 L1529.2,114.7 L1533.5,117.1 L1537.8,120.3 L1542.1,124.2 L1546.3,133.2 L1550.6,141.5 L1554.9,151.4 L1559.2,162.7 L1563.5,175.2 L1567.8,188.9 L1572.0,204.0 L1576.3,220.3 L1580.6,238.0 L1584.9,256.8 L1589.2,276.8 L1593.4,298.0 L1597.7,320.2 L1602.0,343.4 L1606.3,367.4 L1610.6,392.1 L1614.8,417.4 L1619.1,443.4 L1623.4,470.0 L1627.7,497.3 L1632.0,525.4 L1636.2,554.2 L1640.5,584.0 L1644.8,614.5 L1649.1,645.9 L1653.4,678.0 L1657.7,710.6 L1661.9,743.6 L1666.2,774.7 L1670.5,803.5 L1674.8,831.9 L1679.1,859.9 L1683.3,887.3 L1687.6,914.3 L1691.9,940.6 L1696.2,966.3 L1700.5,991.2 L1704.8,1015.5 L1709.0,1039.0 L1713.3,1061.8 L1717.6,1083.7 L1721.9,1104.8 L1726.2,1125.2 L1730.4,1144.6 L1734.7,1163.3 L1739.0,1181.1 L1743.3,1198.1 L1747.6,1214.2 L1751.8,1229.5 L1756.1,1245.7 L1760.4,1261.9 L1764.7,1277.1 L1769.0,1291.5 L1773.2,1305.0 L1777.5,1317.7 L1781.8,1329.5 L1786.1,1340.4 L1790.4,1350.4 L1794.7,1359.6 L1798.9,1368.0 L1803.2,1375.5 L1807.5,1382.2 L1811.8,1388.2 L1816.1,1393.5 L1820.3,1398.1 L1824.6,1402.0 L1828.9,1405.5 L1833.2,1408.5 L1837.5,1411.1 L1841.8,1413.3 L1846.0,1415.0 L1850.3,1416.5 L1854.6,1417.8 L1858.9,1418.8 L1863.2,1419.8 L1867.4,1420.6 L1871.7,1421.2 L1876.0,1421.8 L1880.3,1422.3 L1884.6,1422.8 L1888.8,1423.2 L1893.1,1423.6 L1897.4,1424.3 L1901.7,1425.1 L1906.0,1425.8 L1910.2,1426.4 L1914.5,1427.0 L1918.8,1427.5 L1923.1,1427.9 L1927.4,1428.3 L1931.7,1428.7 L1935.9,1429.0 L1940.2,1429.2 L1944.5,1429.5 L1948.8,1429.7 L1953.1,1429.9 L1957.3,1430.0 L1961.6,1430.2 L1965.9,1430.3 L1970.2,1430.4 L1974.5,1430.5 L1978.8,1430.5 L1983.0,1430.6 L1987.3,1430.7 L1991.6,1430.7 L1995.9,1430.7 L2000.2,1430.7 L2004.4,1430.7 L2008.7,1430.7 L2013.0,1430.7" stroke="#111" stroke-width="7.0" stroke-dasharray="34 30"/>
</g>
<g fill="none" stroke-linejoin="round" stroke-linecap="butt">
<path d="M300.5,2783.1 L304.8,2781.5 L309.1,2779.7 L313.3,2777.8 L317.6,2775.7 L321.9,2773.5 L326.2,2771.2 L330.5,2768.8 L334.8,2766.2 L339.0,2763.5 L343.3,2760.8 L347.6,2757.9 L351.9,2754.9 L356.2,2751.8 L360.4,2748.6 L364.7,2745.3 L369.0,2742.0 L373.3,2738.6 L377.6,2735.2 L381.8,2731.7 L386.1,2728.2 L390.4,2724.5 L394.7,2720.8 L399.0,2717.0 L403.2,2713.0 L407.5,2709.0 L411.8,2704.8 L416.1,2700.6 L420.4,2696.2 L424.7,2691.8 L428.9,2687.3 L433.2,2682.7 L437.5,2678.0 L441.8,2673.3 L446.1,2668.6 L450.3,2663.8 L454.6,2659.0 L458.9,2654.2 L463.2,2649.3 L467.5,2644.4 L471.8,2639.5 L476.0,2634.5 L480.3,2629.5 L484.6,2624.4 L488.9,2619.4 L493.2,2614.3 L497.4,2609.3 L501.7,2604.3 L506.0,2599.3 L510.3,2594.3 L514.6,2589.5 L518.8,2584.7 L523.1,2579.9 L527.4,2575.2 L531.7,2570.5 L536.0,2565.8 L540.2,2561.1 L544.5,2556.2 L548.8,2551.2 L553.1,2546.0 L557.4,2540.6 L561.7,2535.1 L565.9,2529.6 L570.2,2524.0 L574.5,2518.4 L578.8,2512.9 L583.1,2507.4 L587.3,2501.9 L591.6,2496.5 L595.9,2491.3 L600.2,2486.0 L604.5,2480.9 L608.8,2475.8 L613.0,2470.8 L617.3,2465.9 L621.6,2461.1 L625.9,2456.4 L630.2,2451.8 L634.4,2447.3 L638.7,2443.0 L643.0,2438.8 L647.3,2434.7 L651.6,2430.8 L655.8,2427.2 L660.1,2423.8 L664.4,2420.6 L668.7,2417.6 L673.0,2414.8 L677.2,2412.2 L681.5,2409.8 L685.8,2407.6 L690.1,2405.5 L694.4,2403.6 L698.7,2401.8 L702.9,2400.2 L707.2,2398.8 L711.5,2397.5 L715.8,2396.4 L720.1,2395.4 L724.3,2394.5 L728.6,2393.7 L732.9,2393.0 L737.2,2392.4 L741.5,2392.0 L745.8,2391.6 L750.0,2391.4 L754.3,2391.4 L758.6,2391.4 L762.9,2391.6 L767.2,2391.9 L771.4,2392.4 L775.7,2392.9 L780.0,2393.6 L784.3,2394.3 L788.6,2395.2 L792.8,2396.0 L797.1,2397.0 L801.4,2397.9 L805.7,2398.9 L810.0,2399.9 L814.2,2400.9 L818.5,2401.9 L822.8,2403.0 L827.1,2404.1 L831.4,2405.2 L835.7,2406.3 L839.9,2407.4 L844.2,2408.6 L848.5,2409.8 L852.8,2410.9 L857.1,2412.1 L861.3,2413.2 L865.6,2414.3 L869.9,2415.4 L874.2,2416.5 L878.5,2417.5 L882.8,2418.4 L887.0,2419.4 L891.3,2420.3 L895.6,2421.1 L899.9,2421.9 L904.2,2422.7 L908.4,2423.5 L912.7,2424.2 L917.0,2424.9 L921.3,2425.6 L925.6,2426.3 L929.8,2427.0 L934.1,2427.7 L938.4,2428.5 L942.7,2429.3 L947.0,2430.1 L951.2,2431.1 L955.5,2432.0 L959.8,2433.1 L964.1,2434.2 L968.4,2435.3 L972.7,2436.4 L976.9,2437.6 L981.2,2438.8 L985.5,2440.1 L989.8,2441.4 L994.1,2442.7 L998.3,2444.1 L1002.6,2445.5 L1006.9,2447.0 L1011.2,2448.5 L1015.5,2450.0 L1019.8,2451.5 L1024.0,2453.0 L1028.3,2454.5 L1032.6,2456.1 L1036.9,2457.6 L1041.2,2459.0 L1045.4,2460.4 L1049.7,2461.6 L1054.0,2462.7 L1058.3,2463.7 L1062.6,2464.6 L1066.8,2465.3 L1071.1,2465.9 L1075.4,2466.5 L1079.7,2467.0 L1084.0,2467.4 L1088.2,2467.8 L1092.5,2468.0 L1096.8,2468.2 L1101.1,2468.3 L1105.4,2468.3 L1109.7,2468.1 L1113.9,2467.9 L1118.2,2467.6 L1122.5,2467.1 L1126.8,2466.6 L1131.1,2466.0 L1135.3,2465.2 L1139.6,2464.3 L1143.9,2463.2 L1148.2,2462.0 L1152.5,2460.7 L1156.8,2459.2 L1161.0,2457.6 L1165.3,2455.9 L1169.6,2454.0 L1173.9,2452.0 L1178.2,2449.8 L1182.4,2447.4 L1186.7,2444.9 L1191.0,2442.1 L1195.3,2439.1 L1199.6,2435.8 L1203.8,2432.4 L1208.1,2428.8 L1212.4,2424.9 L1216.7,2421.0 L1221.0,2416.9 L1225.2,2412.6 L1229.5,2408.2 L1233.8,2403.7 L1238.1,2399.0 L1242.4,2394.2 L1246.7,2389.4 L1250.9,2384.5 L1255.2,2379.6 L1259.5,2374.6 L1263.8,2369.7 L1268.1,2364.7 L1272.3,2359.7 L1276.6,2354.7 L1280.9,2349.8 L1285.2,2344.8 L1289.5,2339.8 L1293.8,2334.8 L1298.0,2329.8 L1302.3,2324.7 L1306.6,2319.6 L1310.9,2314.5 L1315.2,2309.3 L1319.4,2304.1 L1323.7,2299.1 L1328.0,2294.1 L1332.3,2289.3 L1336.6,2284.7 L1340.8,2280.4 L1345.1,2276.2 L1349.4,2272.3 L1353.7,2268.6 L1358.0,2265.0 L1362.2,2261.5 L1366.5,2258.0 L1370.8,2254.5 L1375.1,2251.1 L1379.4,2247.7 L1383.7,2244.4 L1387.9,2241.1 L1392.2,2237.9 L1396.5,2234.8 L1400.8,2231.9 L1405.1,2229.2 L1409.3,2226.7 L1413.6,2224.5 L1417.9,2222.6 L1422.2,2220.9 L1426.5,2219.4 L1430.8,2218.0 L1435.0,2216.8 L1439.3,2215.6 L1443.6,2214.5 L1447.9,2213.4 L1452.2,2212.5 L1456.4,2211.8 L1460.7,2211.3 L1465.0,2211.1 L1469.3,2211.2 L1473.6,2211.7 L1477.8,2212.6 L1482.1,2213.8 L1486.4,2215.3 L1490.7,2217.2 L1495.0,2219.5 L1499.2,2222.1 L1503.5,2225.1 L1507.8,2228.4 L1512.1,2232.1 L1516.4,2236.2 L1520.7,2240.6 L1524.9,2245.4 L1529.2,2250.6 L1533.5,2256.0 L1537.8,2261.8 L1542.1,2267.9 L1546.3,2274.3 L1550.6,2281.0 L1554.9,2288.0 L1559.2,2295.4 L1563.5,2303.2 L1567.8,2311.3 L1572.0,2319.7 L1576.3,2328.5 L1580.6,2337.6 L1584.9,2347.0 L1589.2,2356.6 L1593.4,2366.5 L1597.7,2376.6 L1602.0,2386.8 L1606.3,2397.2 L1610.6,2407.7 L1614.8,2418.3 L1619.1,2429.0 L1623.4,2439.8 L1627.7,2450.7 L1632.0,2461.7 L1636.2,2472.9 L1640.5,2484.1 L1644.8,2495.4 L1649.1,2506.8 L1653.4,2518.2 L1657.7,2529.5 L1661.9,2540.7 L1666.2,2551.8 L1670.5,2562.8 L1674.8,2573.5 L1679.1,2584.0 L1683.3,2594.3 L1687.6,2604.4 L1691.9,2614.1 L1696.2,2623.6 L1700.5,2632.8 L1704.8,2641.7 L1709.0,2650.3 L1713.3,2658.5 L1717.6,2666.3 L1721.9,2673.8 L1726.2,2680.9 L1730.4,2687.8 L1734.7,2694.3 L1739.0,2700.5 L1743.3,2706.4 L1747.6,2712.0 L1751.8,2717.3 L1756.1,2722.4 L1760.4,2727.2 L1764.7,2731.8 L1769.0,2736.1 L1773.2,2740.1 L1777.5,2743.9 L1781.8,2747.5 L1786.1,2750.9 L1790.4,2754.0 L1794.7,2757.0 L1798.9,2759.8 L1803.2,2762.4 L1807.5,2764.9 L1811.8,2767.2 L1816.1,2769.4 L1820.3,2771.4 L1824.6,2773.3 L1828.9,2775.0 L1833.2,2776.7 L1837.5,2778.2 L1841.8,2779.7 L1846.0,2781.0 L1850.3,2782.3 L1854.6,2783.4 L1858.9,2784.5 L1863.2,2785.6 L1867.4,2786.6 L1871.7,2787.5 L1876.0,2788.5 L1880.3,2789.3 L1884.6,2790.2 L1888.8,2791.1 L1893.1,2791.9 L1897.4,2792.7 L1901.7,2793.4 L1906.0,2794.1 L1910.2,2794.7 L1914.5,2795.3 L1918.8,2795.8 L1923.1,2796.3 L1927.4,2796.7 L1931.7,2797.1 L1935.9,2797.5 L1940.2,2797.9 L1944.5,2798.2 L1948.8,2798.6 L1953.1,2798.9 L1957.3,2799.1 L1961.6,2799.4 L1965.9,2799.7 L1970.2,2799.9 L1974.5,2800.2 L1978.8,2800.4 L1983.0,2800.6 L1987.3,2800.8 L1991.6,2801.0 L1995.9,2801.2 L2000.2,2801.4 L2004.4,2801.5 L2008.7,2801.6 L2013.0,2801.7" stroke="#000" stroke-width="7.0"/>
<path d="M300.5,2784.3 L304.8,2782.8 L309.1,2781.3 L313.3,2779.6 L317.6,2777.9 L321.9,2776.0 L326.2,2773.7 L330.5,2771.3 L334.8,2768.7 L339.0,2766.0 L343.3,2763.3 L347.6,2760.4 L351.9,2757.4 L356.2,2754.3 L360.4,2751.1 L364.7,2747.8 L369.0,2744.5 L373.3,2741.1 L377.6,2737.7 L381.8,2734.2 L386.1,2730.7 L390.4,2727.0 L394.7,2723.3 L399.0,2719.5 L403.2,2715.5 L407.5,2711.5 L411.8,2707.3 L416.1,2703.1 L420.4,2698.7 L424.7,2694.3 L428.9,2689.8 L433.2,2685.2 L437.5,2680.5 L441.8,2675.8 L446.1,2671.1 L450.3,2666.3 L454.6,2661.5 L458.9,2656.7 L463.2,2651.8 L467.5,2646.9 L471.8,2642.0 L476.0,2637.0 L480.3,2632.0 L484.6,2626.9 L488.9,2621.5 L493.2,2616.1 L497.4,2610.7 L501.7,2605.2 L506.0,2599.8 L510.3,2594.3 L514.6,2588.9 L518.8,2583.5 L523.1,2578.1 L527.4,2572.7 L531.7,2568.0 L536.0,2563.3 L540.2,2558.6 L544.5,2553.7 L548.8,2548.7 L553.1,2543.5 L557.4,2538.1 L561.7,2532.6 L565.9,2527.1 L570.2,2521.5 L574.5,2516.1 L578.8,2511.3 L583.1,2506.5 L587.3,2501.7 L591.6,2497.1 L595.9,2492.4 L600.2,2487.9 L604.5,2483.4 L608.8,2478.3 L613.0,2473.3 L617.3,2468.4 L621.6,2463.6 L625.9,2458.9 L630.2,2454.3 L634.4,2449.8 L638.7,2445.5 L643.0,2441.3 L647.3,2437.2 L651.6,2433.3 L655.8,2429.7 L660.1,2426.3 L664.4,2423.1 L668.7,2420.1 L673.0,2417.3 L677.2,2414.7 L681.5,2412.3 L685.8,2410.1 L690.1,2408.0 L694.4,2406.1 L698.7,2404.3 L702.9,2402.7 L707.2,2401.3 L711.5,2400.0 L715.8,2398.9 L720.1,2397.9 L724.3,2396.7 L728.6,2395.4 L732.9,2394.2 L737.2,2393.2 L741.5,2392.3 L745.8,2391.6 L750.0,2391.0 L754.3,2390.6 L758.6,2390.3 L762.9,2390.1 L767.2,2390.1 L771.4,2390.1 L775.7,2390.4 L780.0,2391.1 L784.3,2391.8 L788.6,2392.7 L792.8,2393.5 L797.1,2394.5 L801.4,2395.4 L805.7,2396.4 L810.0,2397.4 L814.2,2398.4 L818.5,2399.4 L822.8,2400.5 L827.1,2401.6 L831.4,2402.7 L835.7,2403.8 L839.9,2404.9 L844.2,2406.1 L848.5,2407.3 L852.8,2408.4 L857.1,2409.6 L861.3,2410.7 L865.6,2411.8 L869.9,2412.9 L874.2,2414.0 L878.5,2415.0 L882.8,2416.2 L887.0,2417.3 L891.3,2418.4 L895.6,2419.5 L899.9,2420.5 L904.2,2421.6 L908.4,2422.6 L912.7,2423.5 L917.0,2424.5 L921.3,2425.4 L925.6,2426.3 L929.8,2427.2 L934.1,2428.0 L938.4,2428.9 L942.7,2429.7 L947.0,2430.6 L951.2,2431.5 L955.5,2432.3 L959.8,2433.2 L964.1,2434.1 L968.4,2435.0 L972.7,2436.0 L976.9,2437.0 L981.2,2438.0 L985.5,2439.0 L989.8,2440.1 L994.1,2441.3 L998.3,2442.4 L1002.6,2443.6 L1006.9,2444.9 L1011.2,2446.2 L1015.5,2447.5 L1019.8,2449.0 L1024.0,2450.5 L1028.3,2452.0 L1032.6,2453.6 L1036.9,2455.1 L1041.2,2456.5 L1045.4,2457.9 L1049.7,2459.2 L1054.0,2460.7 L1058.3,2462.1 L1062.6,2463.6 L1066.8,2464.9 L1071.1,2466.3 L1075.4,2467.5 L1079.7,2468.7 L1084.0,2469.8 L1088.2,2470.3 L1092.5,2470.5 L1096.8,2470.7 L1101.1,2470.8 L1105.4,2470.8 L1109.7,2470.6 L1113.9,2470.4 L1118.2,2470.1 L1122.5,2469.6 L1126.8,2469.1 L1131.1,2468.5 L1135.3,2467.7 L1139.6,2466.8 L1143.9,2465.7 L1148.2,2464.5 L1152.5,2463.2 L1156.8,2461.7 L1161.0,2460.1 L1165.3,2458.2 L1169.6,2455.5 L1173.9,2452.5 L1178.2,2449.4 L1182.4,2446.0 L1186.7,2442.4 L1191.0,2439.6 L1195.3,2436.6 L1199.6,2433.3 L1203.8,2429.9 L1208.1,2426.3 L1212.4,2422.4 L1216.7,2418.5 L1221.0,2414.4 L1225.2,2410.1 L1229.5,2405.7 L1233.8,2401.2 L1238.1,2396.5 L1242.4,2391.7 L1246.7,2386.9 L1250.9,2382.0 L1255.2,2377.1 L1259.5,2372.1 L1263.8,2367.2 L1268.1,2362.2 L1272.3,2357.2 L1276.6,2352.2 L1280.9,2347.3 L1285.2,2342.3 L1289.5,2337.3 L1293.8,2332.3 L1298.0,2327.3 L1302.3,2322.4 L1306.6,2318.3 L1310.9,2314.2 L1315.2,2310.2 L1319.4,2306.2 L1323.7,2301.6 L1328.0,2296.6 L1332.3,2291.8 L1336.6,2287.2 L1340.8,2282.9 L1345.1,2278.7 L1349.4,2274.8 L1353.7,2271.1 L1358.0,2267.5 L1362.2,2264.0 L1366.5,2260.5 L1370.8,2257.0 L1375.1,2253.6 L1379.4,2250.2 L1383.7,2246.9 L1387.9,2243.6 L1392.2,2240.4 L1396.5,2237.3 L1400.8,2234.4 L1405.1,2231.7 L1409.3,2229.2 L1413.6,2226.9 L1417.9,2224.2 L1422.2,2221.7 L1426.5,2219.4 L1430.8,2217.3 L1435.0,2215.4 L1439.3,2213.8 L1443.6,2212.5 L1447.9,2211.4 L1452.2,2210.7 L1456.4,2210.3 L1460.7,2210.2 L1465.0,2210.5 L1469.3,2211.2 L1473.6,2212.2 L1477.8,2213.6 L1482.1,2215.4 L1486.4,2217.6 L1490.7,2219.9 L1495.0,2222.6 L1499.2,2225.7 L1503.5,2229.1 L1507.8,2232.9 L1512.1,2237.1 L1516.4,2241.7 L1520.7,2246.6 L1524.9,2251.8 L1529.2,2257.4 L1533.5,2263.2 L1537.8,2269.4 L1542.1,2275.9 L1546.3,2282.7 L1550.6,2289.8 L1554.9,2297.3 L1559.2,2305.1 L1563.5,2313.4 L1567.8,2321.9 L1572.0,2330.8 L1576.3,2340.0 L1580.6,2349.5 L1584.9,2359.2 L1589.2,2369.2 L1593.4,2379.3 L1597.7,2389.6 L1602.0,2400.0 L1606.3,2410.6 L1610.6,2421.2 L1614.8,2432.0 L1619.1,2442.8 L1623.4,2453.8 L1627.7,2464.8 L1632.0,2475.9 L1636.2,2487.2 L1640.5,2498.6 L1644.8,2510.0 L1649.1,2521.4 L1653.4,2532.8 L1657.7,2544.0 L1661.9,2555.1 L1666.2,2566.0 L1670.5,2576.7 L1674.8,2587.2 L1679.1,2597.4 L1683.3,2607.4 L1687.6,2617.1 L1691.9,2626.5 L1696.2,2635.6 L1700.5,2643.6 L1704.8,2651.4 L1709.0,2658.9 L1713.3,2666.2 L1717.6,2673.2 L1721.9,2680.0 L1726.2,2686.6 L1730.4,2692.9 L1734.7,2698.9 L1739.0,2704.8 L1743.3,2710.3 L1747.6,2715.7 L1751.8,2720.8 L1756.1,2725.7 L1760.4,2730.4 L1764.7,2734.9 L1769.0,2739.1 L1773.2,2743.1 L1777.5,2747.0 L1781.8,2750.6 L1786.1,2754.1 L1790.4,2757.3 L1794.7,2760.4 L1798.9,2763.3 L1803.2,2765.7 L1807.5,2768.0 L1811.8,2770.1 L1816.1,2772.1 L1820.3,2773.9 L1824.6,2775.8 L1828.9,2777.5 L1833.2,2779.2 L1837.5,2780.7 L1841.8,2782.2 L1846.0,2783.5 L1850.3,2784.8 L1854.6,2785.9 L1858.9,2787.0 L1863.2,2788.1 L1867.4,2789.1 L1871.7,2790.0 L1876.0,2791.0 L1880.3,2791.8 L1884.6,2792.7 L1888.8,2793.6 L1893.1,2794.4 L1897.4,2795.2 L1901.7,2795.9 L1906.0,2796.6 L1910.2,2797.2 L1914.5,2797.8 L1918.8,2798.3 L1923.1,2798.8 L1927.4,2799.2 L1931.7,2799.6 L1935.9,2800.0 L1940.2,2800.4 L1944.5,2800.7 L1948.8,2801.1 L1953.1,2801.4 L1957.3,2801.5 L1961.6,2801.7 L1965.9,2801.8 L1970.2,2801.9 L1974.5,2802.1 L1978.8,2802.2 L1983.0,2802.2 L1987.3,2802.3 L1991.6,2802.4 L1995.9,2802.5 L2000.2,2802.5 L2004.4,2802.6 L2008.7,2802.6 L2013.0,2802.7" stroke="#111" stroke-width="7.0" stroke-dasharray="34 30"/>
</g>
<g fill="none" stroke-linejoin="round" stroke-linecap="butt">
<path d="M300.5,4169.9 L304.8,4169.1 L309.1,4168.4 L313.3,4167.6 L317.6,4166.9 L321.9,4166.1 L326.2,4165.4 L330.5,4164.6 L334.8,4163.8 L339.0,4163.0 L343.3,4162.3 L347.6,4161.5 L351.9,4160.7 L356.2,4160.0 L360.4,4159.2 L364.7,4158.5 L369.0,4157.7 L373.3,4157.0 L377.6,4156.3 L381.8,4155.5 L386.1,4154.8 L390.4,4154.1 L394.7,4153.5 L399.0,4152.8 L403.2,4152.2 L407.5,4151.5 L411.8,4151.0 L416.1,4150.4 L420.4,4149.9 L424.7,4149.4 L428.9,4148.9 L433.2,4148.4 L437.5,4148.0 L441.8,4147.6 L446.1,4147.2 L450.3,4146.8 L454.6,4146.4 L458.9,4146.0 L463.2,4145.7 L467.5,4145.4 L471.8,4145.1 L476.0,4144.8 L480.3,4144.5 L484.6,4144.2 L488.9,4144.0 L493.2,4143.8 L497.4,4143.6 L501.7,4143.4 L506.0,4143.2 L510.3,4143.0 L514.6,4142.7 L518.8,4142.5 L523.1,4142.3 L527.4,4142.1 L531.7,4141.8 L536.0,4141.6 L540.2,4141.4 L544.5,4141.1 L548.8,4141.0 L553.1,4140.8 L557.4,4140.6 L561.7,4140.4 L565.9,4140.3 L570.2,4140.2 L574.5,4140.1 L578.8,4140.0 L583.1,4139.9 L587.3,4139.8 L591.6,4139.7 L595.9,4139.6 L600.2,4139.6 L604.5,4139.5 L608.8,4139.4 L613.0,4139.4 L617.3,4139.3 L621.6,4139.3 L625.9,4139.2 L630.2,4139.1 L634.4,4139.1 L638.7,4139.0 L643.0,4138.9 L647.3,4138.8 L651.6,4138.7 L655.8,4138.6 L660.1,4138.5 L664.4,4138.4 L668.7,4138.2 L673.0,4138.1 L677.2,4137.9 L681.5,4137.7 L685.8,4137.5 L690.1,4137.3 L694.4,4137.1 L698.7,4136.8 L702.9,4136.5 L707.2,4136.2 L711.5,4135.9 L715.8,4135.6 L720.1,4135.3 L724.3,4135.0 L728.6,4134.7 L732.9,4134.4 L737.2,4134.1 L741.5,4133.8 L745.8,4133.5 L750.0,4133.2 L754.3,4132.9 L758.6,4132.5 L762.9,4132.1 L767.2,4131.7 L771.4,4131.3 L775.7,4130.8 L780.0,4130.2 L784.3,4129.6 L788.6,4129.0 L792.8,4128.4 L797.1,4127.8 L801.4,4127.1 L805.7,4126.4 L810.0,4125.7 L814.2,4124.9 L818.5,4124.1 L822.8,4123.3 L827.1,4122.5 L831.4,4121.6 L835.7,4120.6 L839.9,4119.6 L844.2,4118.6 L848.5,4117.6 L852.8,4116.5 L857.1,4115.3 L861.3,4114.2 L865.6,4113.0 L869.9,4111.8 L874.2,4110.5 L878.5,4109.3 L882.8,4108.1 L887.0,4106.8 L891.3,4105.5 L895.6,4104.1 L899.9,4102.7 L904.2,4101.3 L908.4,4099.8 L912.7,4098.3 L917.0,4096.6 L921.3,4095.0 L925.6,4093.2 L929.8,4091.3 L934.1,4089.2 L938.4,4086.9 L942.7,4084.4 L947.0,4081.7 L951.2,4078.8 L955.5,4075.6 L959.8,4072.2 L964.1,4068.8 L968.4,4065.2 L972.7,4061.4 L976.9,4057.7 L981.2,4053.8 L985.5,4049.9 L989.8,4045.9 L994.1,4041.9 L998.3,4037.8 L1002.6,4033.8 L1006.9,4029.7 L1011.2,4025.6 L1015.5,4021.4 L1019.8,4017.2 L1024.0,4012.8 L1028.3,4008.3 L1032.6,4003.7 L1036.9,3999.0 L1041.2,3994.1 L1045.4,3989.0 L1049.7,3983.8 L1054.0,3978.3 L1058.3,3972.7 L1062.6,3966.7 L1066.8,3960.5 L1071.1,3954.0 L1075.4,3947.2 L1079.7,3940.1 L1084.0,3932.7 L1088.2,3924.9 L1092.5,3916.9 L1096.8,3908.5 L1101.1,3899.9 L1105.4,3891.0 L1109.7,3882.0 L1113.9,3872.8 L1118.2,3863.7 L1122.5,3854.6 L1126.8,3845.6 L1131.1,3836.8 L1135.3,3828.0 L1139.6,3819.2 L1143.9,3810.3 L1148.2,3801.3 L1152.5,3792.1 L1156.8,3782.7 L1161.0,3773.0 L1165.3,3763.0 L1169.6,3752.8 L1173.9,3742.2 L1178.2,3731.4 L1182.4,3720.3 L1186.7,3708.9 L1191.0,3697.4 L1195.3,3685.6 L1199.6,3673.8 L1203.8,3662.0 L1208.1,3650.2 L1212.4,3638.6 L1216.7,3627.1 L1221.0,3615.9 L1225.2,3604.8 L1229.5,3593.9 L1233.8,3583.1 L1238.1,3572.3 L1242.4,3561.5 L1246.7,3550.8 L1250.9,3540.0 L1255.2,3529.2 L1259.5,3518.3 L1263.8,3507.4 L1268.1,3496.6 L1272.3,3485.7 L1276.6,3474.8 L1280.9,3463.9 L1285.2,3453.0 L1289.5,3442.2 L1293.8,3431.3 L1298.0,3420.6 L1302.3,3409.9 L1306.6,3399.3 L1310.9,3388.8 L1315.2,3378.3 L1319.4,3367.9 L1323.7,3357.5 L1328.0,3347.1 L1332.3,3336.6 L1336.6,3326.2 L1340.8,3315.7 L1345.1,3305.1 L1349.4,3294.5 L1353.7,3283.9 L1358.0,3273.2 L1362.2,3262.5 L1366.5,3251.8 L1370.8,3241.1 L1375.1,3230.4 L1379.4,3219.8 L1383.7,3209.1 L1387.9,3198.5 L1392.2,3187.8 L1396.5,3177.2 L1400.8,3166.6 L1405.1,3156.0 L1409.3,3145.6 L1413.6,3135.2 L1417.9,3124.9 L1422.2,3114.8 L1426.5,3104.8 L1430.8,3094.9 L1435.0,3085.3 L1439.3,3075.9 L1443.6,3066.8 L1447.9,3057.9 L1452.2,3049.5 L1456.4,3041.4 L1460.7,3033.7 L1465.0,3026.5 L1469.3,3019.8 L1473.6,3013.5 L1477.8,3007.8 L1482.1,3002.7 L1486.4,2998.2 L1490.7,2994.3 L1495.0,2991.0 L1499.2,2988.4 L1503.5,2986.4 L1507.8,2985.1 L1512.1,2984.4 L1516.4,2984.4 L1520.7,2985.2 L1524.9,2986.7 L1529.2,2989.1 L1533.5,2992.3 L1537.8,2996.4 L1542.1,3001.3 L1546.3,3007.1 L1550.6,3013.7 L1554.9,3021.3 L1559.2,3029.8 L1563.5,3039.2 L1567.8,3049.6 L1572.0,3061.2 L1576.3,3073.8 L1580.6,3087.6 L1584.9,3102.6 L1589.2,3118.7 L1593.4,3135.9 L1597.7,3154.2 L1602.0,3173.6 L1606.3,3193.9 L1610.6,3215.3 L1614.8,3237.4 L1619.1,3260.5 L1623.4,3284.2 L1627.7,3308.6 L1632.0,3333.6 L1636.2,3359.2 L1640.5,3385.2 L1644.8,3411.6 L1649.1,3438.2 L1653.4,3464.8 L1657.7,3491.5 L1661.9,3518.0 L1666.2,3544.5 L1670.5,3570.9 L1674.8,3597.3 L1679.1,3623.9 L1683.3,3650.8 L1687.6,3677.9 L1691.9,3705.3 L1696.2,3732.6 L1700.5,3759.7 L1704.8,3786.1 L1709.0,3811.7 L1713.3,3836.3 L1717.6,3860.0 L1721.9,3882.8 L1726.2,3904.9 L1730.4,3926.4 L1734.7,3947.3 L1739.0,3967.8 L1743.3,3987.8 L1747.6,4007.0 L1751.8,4025.5 L1756.1,4043.0 L1760.4,4059.4 L1764.7,4074.7 L1769.0,4088.7 L1773.2,4101.4 L1777.5,4113.0 L1781.8,4123.4 L1786.1,4132.8 L1790.4,4141.3 L1794.7,4148.9 L1798.9,4155.7 L1803.2,4161.7 L1807.5,4167.0 L1811.8,4171.6 L1816.1,4175.6 L1820.3,4179.2 L1824.6,4182.2 L1828.9,4184.9 L1833.2,4187.1 L1837.5,4189.1 L1841.8,4190.8 L1846.0,4192.2 L1850.3,4193.4 L1854.6,4194.4 L1858.9,4195.2 L1863.2,4195.9 L1867.4,4196.5 L1871.7,4196.9 L1876.0,4197.3 L1880.3,4197.6 L1884.6,4197.8 L1888.8,4197.9 L1893.1,4198.0 L1897.4,4198.0 L1901.7,4198.0 L1906.0,4198.0 L1910.2,4198.1 L1914.5,4198.1 L1918.8,4198.2 L1923.1,4198.4 L1927.4,4198.5 L1931.7,4198.7 L1935.9,4198.8 L1940.2,4198.9 L1944.5,4199.0 L1948.8,4199.0 L1953.1,4199.0 L1957.3,4199.0 L1961.6,4198.9 L1965.9,4198.8 L1970.2,4198.7 L1974.5,4198.6 L1978.8,4198.5 L1983.0,4198.3 L1987.3,4198.2 L1991.6,4198.0 L1995.9,4197.9 L2000.2,4197.8 L2004.4,4197.7 L2008.7,4197.6 L2013.0,4197.5" stroke="#000" stroke-width="7.0"/>
<path d="M300.5,4169.3 L304.8,4168.6 L309.1,4167.9 L313.3,4167.2 L317.6,4166.5 L321.9,4165.7 L326.2,4165.0 L330.5,4164.3 L334.8,4163.6 L339.0,4162.9 L343.3,4162.2 L347.6,4161.5 L351.9,4160.7 L356.2,4160.0 L360.4,4159.3 L364.7,4158.7 L369.0,4158.0 L373.3,4157.3 L377.6,4156.6 L381.8,4156.0 L386.1,4155.3 L390.4,4154.6 L394.7,4154.0 L399.0,4153.4 L403.2,4152.8 L407.5,4152.2 L411.8,4151.6 L416.1,4151.0 L420.4,4150.4 L424.7,4149.9 L428.9,4149.3 L433.2,4148.8 L437.5,4148.3 L441.8,4147.8 L446.1,4147.3 L450.3,4146.9 L454.6,4146.4 L458.9,4146.0 L463.2,4145.6 L467.5,4145.2 L471.8,4144.8 L476.0,4144.5 L480.3,4144.1 L484.6,4143.8 L488.9,4143.5 L493.2,4143.2 L497.4,4143.0 L501.7,4142.7 L506.0,4142.5 L510.3,4142.3 L514.6,4142.1 L518.8,4142.0 L523.1,4141.8 L527.4,4141.7 L531.7,4141.6 L536.0,4141.5 L540.2,4141.4 L544.5,4141.3 L548.8,4141.3 L553.1,4141.2 L557.4,4141.2 L561.7,4141.2 L565.9,4141.2 L570.2,4141.2 L574.5,4141.3 L578.8,4141.3 L583.1,4141.3 L587.3,4141.4 L591.6,4141.5 L595.9,4141.6 L600.2,4141.6 L604.5,4141.7 L608.8,4141.8 L613.0,4141.9 L617.3,4141.8 L621.6,4141.8 L625.9,4141.7 L630.2,4141.6 L634.4,4141.6 L638.7,4141.5 L643.0,4141.4 L647.3,4141.3 L651.6,4141.2 L655.8,4141.1 L660.1,4141.0 L664.4,4140.9 L668.7,4140.7 L673.0,4140.6 L677.2,4140.4 L681.5,4140.2 L685.8,4140.0 L690.1,4139.8 L694.4,4139.6 L698.7,4139.3 L702.9,4139.0 L707.2,4138.7 L711.5,4138.4 L715.8,4138.1 L720.1,4137.8 L724.3,4137.5 L728.6,4137.2 L732.9,4136.9 L737.2,4136.6 L741.5,4136.3 L745.8,4136.0 L750.0,4135.7 L754.3,4135.4 L758.6,4135.0 L762.9,4134.6 L767.2,4134.2 L771.4,4133.8 L775.7,4133.3 L780.0,4132.7 L784.3,4132.1 L788.6,4131.5 L792.8,4130.9 L797.1,4130.3 L801.4,4129.6 L805.7,4128.9 L810.0,4128.2 L814.2,4127.4 L818.5,4126.6 L822.8,4125.8 L827.1,4125.0 L831.4,4124.0 L835.7,4122.8 L839.9,4121.5 L844.2,4120.2 L848.5,4118.8 L852.8,4117.4 L857.1,4115.9 L861.3,4114.4 L865.6,4112.9 L869.9,4111.3 L874.2,4109.6 L878.5,4108.0 L882.8,4106.2 L887.0,4104.5 L891.3,4103.0 L895.6,4101.6 L899.9,4100.2 L904.2,4098.8 L908.4,4097.3 L912.7,4095.8 L917.0,4094.1 L921.3,4092.5 L925.6,4090.7 L929.8,4088.8 L934.1,4086.7 L938.4,4084.4 L942.7,4081.9 L947.0,4079.2 L951.2,4076.3 L955.5,4073.1 L959.8,4069.7 L964.1,4066.3 L968.4,4062.7 L972.7,4058.9 L976.9,4055.2 L981.2,4051.6 L985.5,4048.3 L989.8,4045.0 L994.1,4041.6 L998.3,4038.1 L1002.6,4034.5 L1006.9,4030.7 L1011.2,4026.9 L1015.5,4022.9 L1019.8,4018.8 L1024.0,4014.6 L1028.3,4010.2 L1032.6,4005.6 L1036.9,4001.0 L1041.2,3996.2 L1045.4,3991.2 L1049.7,3986.0 L1054.0,3980.7 L1058.3,3975.2 L1062.6,3969.2 L1066.8,3963.0 L1071.1,3956.5 L1075.4,3949.7 L1079.7,3942.6 L1084.0,3935.3 L1088.2,3927.7 L1092.5,3919.7 L1096.8,3911.5 L1101.1,3902.9 L1105.4,3894.1 L1109.7,3885.1 L1113.9,3876.0 L1118.2,3866.9 L1122.5,3857.8 L1126.8,3848.8 L1131.1,3839.9 L1135.3,3831.1 L1139.6,3822.3 L1143.9,3813.5 L1148.2,3804.5 L1152.5,3795.4 L1156.8,3786.1 L1161.0,3776.5 L1165.3,3766.6 L1169.6,3756.4 L1173.9,3746.0 L1178.2,3735.2 L1182.4,3724.2 L1186.7,3712.9 L1191.0,3701.5 L1195.3,3689.8 L1199.6,3678.0 L1203.8,3666.1 L1208.1,3654.3 L1212.4,3642.6 L1216.7,3631.1 L1221.0,3619.8 L1225.2,3608.7 L1229.5,3597.7 L1233.8,3586.8 L1238.1,3576.1 L1242.4,3565.3 L1246.7,3554.6 L1250.9,3543.8 L1255.2,3533.0 L1259.5,3522.1 L1263.8,3511.3 L1268.1,3500.4 L1272.3,3489.5 L1276.6,3478.6 L1280.9,3467.7 L1285.2,3456.8 L1289.5,3445.9 L1293.8,3435.1 L1298.0,3424.3 L1302.3,3413.6 L1306.6,3403.0 L1310.9,3392.5 L1315.2,3382.0 L1319.4,3371.5 L1323.7,3361.1 L1328.0,3350.7 L1332.3,3340.3 L1336.6,3329.9 L1340.8,3319.4 L1345.1,3308.8 L1349.4,3298.2 L1353.7,3287.6 L1358.0,3276.9 L1362.2,3266.2 L1366.5,3255.5 L1370.8,3244.8 L1375.1,3234.2 L1379.4,3223.5 L1383.7,3212.9 L1387.9,3202.2 L1392.2,3191.6 L1396.5,3180.9 L1400.8,3170.3 L1405.1,3159.7 L1409.3,3149.2 L1413.6,3138.8 L1417.9,3128.5 L1422.2,3118.3 L1426.5,3108.3 L1430.8,3098.4 L1435.0,3088.6 L1439.3,3079.1 L1443.6,3069.9 L1447.9,3061.0 L1452.2,3052.4 L1456.4,3044.2 L1460.7,3036.3 L1465.0,3029.0 L1469.3,3022.3 L1473.6,3016.0 L1477.8,3010.3 L1482.1,3005.2 L1486.4,3000.7 L1490.7,2996.8 L1495.0,2993.5 L1499.2,2990.9 L1503.5,2988.9 L1507.8,2987.6 L1512.1,2986.9 L1516.4,2986.9 L1520.7,2987.7 L1524.9,2989.2 L1529.2,2991.6 L1533.5,2997.0 L1537.8,3002.1 L1542.1,3008.2 L1546.3,3015.1 L1550.6,3022.9 L1554.9,3031.6 L1559.2,3041.3 L1563.5,3052.0 L1567.8,3063.8 L1572.0,3076.7 L1576.3,3090.8 L1580.6,3106.1 L1584.9,3122.5 L1589.2,3140.1 L1593.4,3158.7 L1597.7,3178.4 L1602.0,3199.1 L1606.3,3220.7 L1610.6,3243.2 L1614.8,3266.5 L1619.1,3290.5 L1623.4,3315.1 L1627.7,3340.4 L1632.0,3366.1 L1636.2,3392.3 L1640.5,3418.9 L1644.8,3445.6 L1649.1,3472.3 L1653.4,3499.1 L1657.7,3525.7 L1661.9,3552.1 L1666.2,3578.5 L1670.5,3604.9 L1674.8,3631.4 L1679.1,3658.3 L1683.3,3685.5 L1687.6,3711.9 L1691.9,3734.9 L1696.2,3757.5 L1700.5,3779.5 L1704.8,3801.0 L1709.0,3821.9 L1713.3,3842.2 L1717.6,3861.9 L1721.9,3880.9 L1726.2,3899.3 L1730.4,3917.0 L1734.7,3934.1 L1739.0,3950.4 L1743.3,3966.1 L1747.6,3981.1 L1751.8,3995.4 L1756.1,4009.0 L1760.4,4022.0 L1764.7,4034.4 L1769.0,4046.1 L1773.2,4057.1 L1777.5,4067.6 L1781.8,4077.5 L1786.1,4086.7 L1790.4,4095.5 L1794.7,4103.7 L1798.9,4111.3 L1803.2,4118.5 L1807.5,4125.2 L1811.8,4131.5 L1816.1,4137.3 L1820.3,4142.7 L1824.6,4147.7 L1828.9,4152.4 L1833.2,4156.6 L1837.5,4160.6 L1841.8,4164.2" stroke="#111" stroke-width="7.0" stroke-dasharray="34 30"/>
</g>
<rect x="322.5" y="107.1" width="143.5" height="5.5" fill="#a0a0a0"/>
<rect x="322.5" y="112.6" width="143.5" height="5.5" fill="#1a1a1a"/>
<rect x="322.5" y="183.9" width="33.0" height="5.5" fill="#a0a0a0"/>
<rect x="322.5" y="189.4" width="33.0" height="5.5" fill="#1a1a1a"/>
<rect x="389.0" y="183.9" width="33.0" height="5.5" fill="#a0a0a0"/>
<rect x="389.0" y="189.4" width="33.0" height="5.5" fill="#1a1a1a"/>
<rect x="450.0" y="183.9" width="10.0" height="5.5" fill="#a0a0a0"/>
<rect x="450.0" y="189.4" width="10.0" height="5.5" fill="#1a1a1a"/>
<rect x="339.0" y="1499.5" width="126.0" height="5.5" fill="#a0a0a0"/>
<rect x="339.0" y="1505.0" width="126.0" height="5.5" fill="#1a1a1a"/>
<rect x="339.0" y="1576.5" width="33.0" height="5.5" fill="#a0a0a0"/>
<rect x="339.0" y="1582.0" width="33.0" height="5.5" fill="#1a1a1a"/>
<rect x="400.0" y="1576.5" width="33.0" height="5.5" fill="#a0a0a0"/>
<rect x="400.0" y="1582.0" width="33.0" height="5.5" fill="#1a1a1a"/>
<rect x="328.0" y="2869.0" width="137.0" height="5.5" fill="#a0a0a0"/>
<rect x="328.0" y="2874.5" width="137.0" height="5.5" fill="#1a1a1a"/>
<rect x="328.0" y="2946.0" width="33.0" height="5.5" fill="#a0a0a0"/>
<rect x="328.0" y="2951.5" width="33.0" height="5.5" fill="#1a1a1a"/>
<rect x="394.0" y="2946.0" width="33.0" height="5.5" fill="#a0a0a0"/>
<rect x="394.0" y="2951.5" width="33.0" height="5.5" fill="#1a1a1a"/>
<text x="253.0" y="65.0" class="sans tick" text-anchor="end">1.0</text>
<text x="253.0" y="341.4" class="sans tick" text-anchor="end">0.8</text>
<text x="253.0" y="617.8" class="sans tick" text-anchor="end">0.6</text>
<text x="253.0" y="894.2" class="sans tick" text-anchor="end">0.4</text>
<text x="253.0" y="1170.6" class="sans tick" text-anchor="end">0.2</text>
<text x="253.0" y="1447.0" class="sans tick" text-anchor="end">1.0</text>
<text x="253.0" y="1733.0" class="sans tick" text-anchor="end">0.8</text>
<text x="253.0" y="2019.0" class="sans tick" text-anchor="end">0.6</text>
<text x="253.0" y="2305.0" class="sans tick" text-anchor="end">0.4</text>
<text x="253.0" y="2591.0" class="sans tick" text-anchor="end">0.2</text>
<text x="253.0" y="2830.0" class="sans tick" text-anchor="end">1.0</text>
<text x="253.0" y="3107.0" class="sans tick" text-anchor="end">0.8</text>
<text x="253.0" y="3384.0" class="sans tick" text-anchor="end">0.6</text>
<text x="253.0" y="3661.6" class="sans tick" text-anchor="end">0.4</text>
<text x="253.0" y="3938.8" class="sans tick" text-anchor="end">0.2</text>
<text x="253.0" y="4216.0" class="sans tick" text-anchor="end">0.0</text>
<text x="300.5" y="4292.0" class="sans tick" text-anchor="middle">200</text>
<text x="514.6" y="4292.0" class="sans tick" text-anchor="middle">250</text>
<text x="728.6" y="4292.0" class="sans tick" text-anchor="middle">300</text>
<text x="942.7" y="4292.0" class="sans tick" text-anchor="middle">350</text>
<text x="1156.8" y="4292.0" class="sans tick" text-anchor="middle">400</text>
<text x="1370.8" y="4292.0" class="sans tick" text-anchor="middle">450</text>
<text x="1584.9" y="4292.0" class="sans tick" text-anchor="middle">500</text>
<text x="1798.9" y="4292.0" class="sans tick" text-anchor="middle">550</text>
<text x="2013.0" y="4292.0" class="sans tick" text-anchor="middle">600</text>
<text x="1638.5" y="138.0" class="sans pk" text-anchor="middle">491</text>
<text x="1337.0" y="951.0" class="sans pk" text-anchor="middle">447</text>
<text x="1089.0" y="1126.0" class="sans pk" text-anchor="middle">392</text>
<text x="532.0" y="1317.0" class="sans pk" text-anchor="middle">255</text>
<text x="748.0" y="1300.0" class="sans pk" text-anchor="middle">302</text>
<text x="1492.0" y="2164.0" class="sans pk" text-anchor="middle">476</text>
<text x="1006.0" y="2404.0" class="sans pk" text-anchor="middle">368</text>
<text x="748.0" y="2476.0" class="sans pk" text-anchor="middle">304</text>
<text x="464.0" y="2542.0" class="sans pk" text-anchor="middle">259</text>
<text x="1240.0" y="2539.0" class="sans pk" text-anchor="middle">426</text>
<text x="1533.0" y="3211.0" class="sans pk" text-anchor="middle">492</text>
<text x="1325.0" y="3559.0" class="sans pk" text-anchor="middle">443</text>
<text x="989.0" y="3976.0" class="sans pk" text-anchor="middle">387</text>
<text x="550.0" y="4120.0" class="sans pk" text-anchor="middle">253</text>
<text x="477.0" y="134.0" class="serif legb" text-anchor="start">PN-LabSoot</text>
<text x="477.0" y="210.0" class="serif leg" text-anchor="start">Cumulative fit peak</text>
<text x="481.0" y="1527.0" class="serif legb" text-anchor="start">PN-BenchSoot</text>
<text x="481.0" y="1603.0" class="serif leg" text-anchor="start">Cumulative fit peak</text>
<text x="481.0" y="2897.0" class="serif legb" text-anchor="start">PN-Printex U</text>
<text x="478.0" y="2973.0" class="serif leg" text-anchor="start">Cumulative fit peak</text>
<text x="1188.0" y="177.0" class="serif pl" text-anchor="middle">(a)</text>
<text x="1234.0" y="1591.0" class="serif pl" text-anchor="middle">(b)</text>
<text x="1228.0" y="2962.0" class="serif pl" text-anchor="middle">(c)</text>
<text x="1155.0" y="4405.0" class="serif ax" text-anchor="middle">Temperature [°C]</text>
<text transform="translate(69,2087) rotate(-90)" class="serif ax" text-anchor="middle">CO<tspan font-size="52" dy="25">2</tspan><tspan dy="-25"> concentration [a. u.]</tspan></text>
</g>
</svg>
</body></html>
